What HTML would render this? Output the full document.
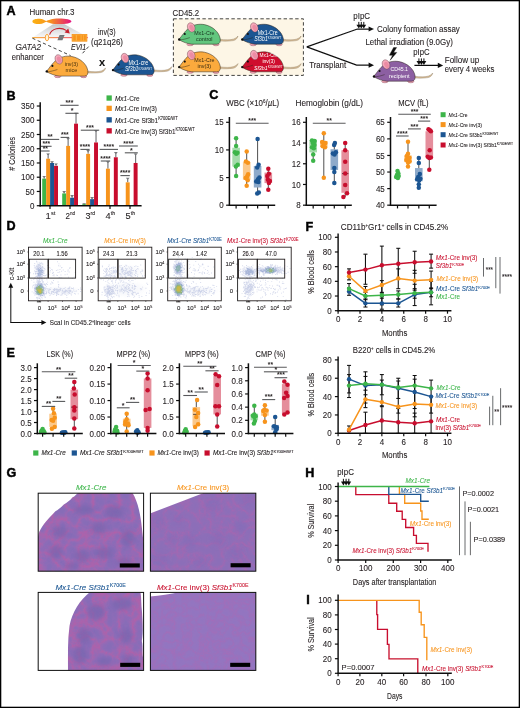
<!DOCTYPE html>
<html lang="en"><head><meta charset="utf-8"><title>Figure</title>
<style>
html,body{margin:0;padding:0;background:#fff;}
body{width:520px;height:708px;overflow:hidden;position:relative;}
svg{display:block;position:absolute;left:0;top:0;font-family:"Liberation Sans", sans-serif;}
text{font-family:"Liberation Sans", sans-serif;}
#frame{position:absolute;left:0;top:0;width:518px;height:706px;border:1px solid #000;pointer-events:none;}
</style></head>
<body>
<svg width="520" height="708" viewBox="0 0 520 708">
<rect x="0" y="0" width="520" height="708" fill="#fff"/>
<defs><filter id="soft" x="0" y="0" width="520" height="708" filterUnits="userSpaceOnUse"><feGaussianBlur stdDeviation="0.3"/></filter></defs>
<g filter="url(#soft)">
<defs><linearGradient id="chr" x1="0" x2="1" y1="0" y2="0"><stop offset="0" stop-color="#fbb116"/><stop offset="0.45" stop-color="#f7941d"/><stop offset="1" stop-color="#e4127f"/></linearGradient><linearGradient id="fan" x1="0" x2="0" y1="0" y2="1"><stop offset="0" stop-color="#b9bcc0" stop-opacity="0.9"/><stop offset="1" stop-color="#d9dadc" stop-opacity="0.25"/></linearGradient><linearGradient id="gl" x1="0" x2="1" y1="0" y2="0"><stop offset="0" stop-color="#fbb040"/><stop offset="0.4" stop-color="#f58a5a"/><stop offset="1" stop-color="#ee4d8b"/></linearGradient></defs>
<text x="6.60" y="15.00" font-size="12.6" fill="#000" stroke="#000" stroke-width="0.45" font-weight="bold">A</text>
<text x="29.50" y="14.80" font-size="8.48" fill="#231f20" stroke="#231f20" stroke-width="0.1" textLength="45.00" lengthAdjust="spacingAndGlyphs">Human chr.3</text>
<path d="M32.4,21.4 C32.4,19.6 36,18.7 39.5,18.8 C43,18.9 44.8,20.6 46.2,21.1 C48,20.4 52,18.6 59,18.6 C66,18.6 71.4,19.8 71.4,21.4 C71.4,23 66,24.2 59,24.2 C52,24.2 48,22.4 46.2,21.7 C44.8,22.2 43,23.9 39.5,24 C36,24.1 32.4,23.2 32.4,21.4 Z" fill="url(#chr)" />
<path d="M53,24.2 L64.5,24.2 L88,37.2 L33,37.2 Z" fill="url(#fan)" />
<rect x="32.4" y="37.0" width="55.4" height="1.2" fill="url(#gl)"/>
<path d="M49.6,34.6 C51.5,28.6 60,26.4 66.6,30.6" fill="none" stroke="#c8202f" stroke-width="1.1" />
<path d="M69.8,33.4 L64.6,32.5 L68.2,28.6 Z" fill="#c8202f" />
<ellipse cx="47" cy="37.6" rx="1.7" ry="3.3" fill="#fff4dc" stroke="#f7941d" stroke-width="0.8"/>
<path d="M59.6,35 L64.6,35 L62.4,40.2 L57.4,40.2 Z" fill="#6d6e71" />
<path d="M59.2,36.3 L64,36.3 M58.6,37.7 L63.4,37.7 M58,39 L62.8,39" fill="none" stroke="#a7a9ac" stroke-width="0.3" />
<rect x="72.10" y="34.40" width="14.80" height="6.80" fill="#fbb040" stroke="#f7941d" stroke-width="0.8" />
<rect x="73.20" y="35.20" width="2.60" height="5.20" fill="#f7941d" />
<rect x="77.00" y="35.20" width="3.60" height="5.20" fill="#f7941d" />
<rect x="81.60" y="35.20" width="1.60" height="5.20" fill="#f7941d" />
<rect x="84.00" y="35.20" width="1.80" height="5.20" fill="#f7941d" />
<line x1="32.40" y1="38.20" x2="70.60" y2="55.60" stroke="#222" stroke-width="0.85" stroke-dasharray="3.2 2.6"/>
<line x1="88.60" y1="46.60" x2="81.00" y2="55.00" stroke="#222" stroke-width="0.85" stroke-dasharray="3.2 2.6"/>
<text x="15.40" y="50.10" font-size="8.69" fill="#231f20" stroke="#231f20" stroke-width="0.1" font-style="italic" textLength="25.60" lengthAdjust="spacingAndGlyphs">GATA2</text>
<text x="11.80" y="59.50" font-size="8.48" fill="#231f20" stroke="#231f20" stroke-width="0.1" textLength="32.00" lengthAdjust="spacingAndGlyphs">enhancer</text>
<text x="71.00" y="50.00" font-size="8.69" fill="#231f20" stroke="#231f20" stroke-width="0.1" font-style="italic" textLength="15.20" lengthAdjust="spacingAndGlyphs">EVI1</text>
<text x="98.00" y="35.30" font-size="8.48" fill="#231f20" stroke="#231f20" stroke-width="0.1" textLength="17.60" lengthAdjust="spacingAndGlyphs">inv(3)</text>
<text x="91.00" y="45.00" font-size="8.48" fill="#231f20" stroke="#231f20" stroke-width="0.1" textLength="32.00" lengthAdjust="spacingAndGlyphs">(q21q26)</text>
<g transform="translate(46.40 71.50)">
<path d="M40.5,-0.4 C46,0.4 52,0.5 55,-0.6 C57,-1.4 58.2,-2.4 59.2,-3.6 C58.8,-1.6 57.2,0.5 54.5,1.0 C50,1.7 45,1.6 40.5,1.4 Z" fill="#dcc09a" stroke="#7d6b50" stroke-width="0.35" />
<ellipse cx="11.3" cy="4.9" rx="3.2" ry="1.25" fill="#f4a3b5" stroke="#6b3f4a" stroke-width="0.35"/>
<ellipse cx="37.2" cy="4.7" rx="3.1" ry="1.5" fill="#f4a3b5" stroke="#6b3f4a" stroke-width="0.35"/>
<path d="M0,0 C3,-3.5 6,-8.5 10,-11.6 C14,-14.8 20,-16 25.5,-15 C33.5,-13.4 40,-8 41.4,-1 C41.9,2 41,4.6 38,4.6 L13,4.6 C8.5,4.2 4,2.4 0,0 Z" fill="#fbaa3c" stroke="#2b2118" stroke-width="0.5" />
<ellipse cx="12.4" cy="-12.2" rx="3.6" ry="4.8" transform="rotate(-24 12.4 -12.2)" fill="#f6a9ba" stroke="#6b3f4a" stroke-width="0.4"/>
<ellipse cx="12.9" cy="-11.7" rx="2.1" ry="3.3" transform="rotate(-24 12.9 -11.7)" fill="#ec8ca4"/>
<circle cx="6.00" cy="-5.60" r="1.05" fill="#111" />
<circle cx="0.40" cy="-0.10" r="1.2" fill="#111" />
<path d="M1,0.3 C4,0.1 7.5,-0.8 11,-2.0" fill="none" stroke="#2b2118" stroke-width="0.6" stroke-opacity="0.75"/>
<text x="18.30" y="-5.90" font-size="5.94" fill="#4a3410" textLength="13.40" lengthAdjust="spacingAndGlyphs">inv(3)</text>
<text x="19.20" y="0.10" font-size="5.94" fill="#4a3410" textLength="11.60" lengthAdjust="spacingAndGlyphs">mice</text>
</g>
<text x="102.00" y="65.60" font-size="11" text-anchor="middle" fill="#111" stroke="#111" stroke-width="0.1" font-weight="bold">x</text>
<g transform="translate(112.60 70.20)">
<path d="M40.5,-0.4 C46,0.4 52,0.5 55,-0.6 C57,-1.4 58.2,-2.4 59.2,-3.6 C58.8,-1.6 57.2,0.5 54.5,1.0 C50,1.7 45,1.6 40.5,1.4 Z" fill="#dcc09a" stroke="#7d6b50" stroke-width="0.35" />
<ellipse cx="11.3" cy="4.9" rx="3.2" ry="1.25" fill="#f4a3b5" stroke="#6b3f4a" stroke-width="0.35"/>
<ellipse cx="37.2" cy="4.7" rx="3.1" ry="1.5" fill="#f4a3b5" stroke="#6b3f4a" stroke-width="0.35"/>
<path d="M0,0 C3,-3.5 6,-8.5 10,-11.6 C14,-14.8 20,-16 25.5,-15 C33.5,-13.4 40,-8 41.4,-1 C41.9,2 41,4.6 38,4.6 L13,4.6 C8.5,4.2 4,2.4 0,0 Z" fill="#1b5592" stroke="#2b2118" stroke-width="0.5" />
<ellipse cx="12.4" cy="-12.2" rx="3.6" ry="4.8" transform="rotate(-24 12.4 -12.2)" fill="#f6a9ba" stroke="#6b3f4a" stroke-width="0.4"/>
<ellipse cx="12.9" cy="-11.7" rx="2.1" ry="3.3" transform="rotate(-24 12.9 -11.7)" fill="#ec8ca4"/>
<circle cx="6.00" cy="-5.60" r="1.05" fill="#111" />
<circle cx="0.40" cy="-0.10" r="1.2" fill="#111" />
<path d="M1,0.3 C4,0.1 7.5,-0.8 11,-2.0" fill="none" stroke="#2b2118" stroke-width="0.6" stroke-opacity="0.75"/>
<text x="16.00" y="-5.00" font-size="6.36" fill="#fff" textLength="19.60" lengthAdjust="spacingAndGlyphs">Mx1-cre</text>
<text x="12.30" y="1.20" font-size="6.36" fill="#fff" textLength="27.00" lengthAdjust="spacingAndGlyphs"><tspan font-style="italic">Sf3b1</tspan><tspan font-size="3.4" dy="-1.8">K700E/WT</tspan></text>
</g>
<rect x="173.40" y="18.80" width="130.00" height="56.60" fill="#fdf6e6" stroke="#222" stroke-width="0.85" stroke-dasharray="3.4 2.4"/>
<text x="172.60" y="15.80" font-size="8.69" fill="#231f20" stroke="#231f20" stroke-width="0.1" textLength="26.60" lengthAdjust="spacingAndGlyphs">CD45.2</text>
<g transform="translate(178.80 39.60)">
<path d="M40.5,-0.4 C46,0.4 52,0.5 55,-0.6 C57,-1.4 58.2,-2.4 59.2,-3.6 C58.8,-1.6 57.2,0.5 54.5,1.0 C50,1.7 45,1.6 40.5,1.4 Z" fill="#dcc09a" stroke="#7d6b50" stroke-width="0.35" />
<ellipse cx="11.3" cy="4.9" rx="3.2" ry="1.25" fill="#f4a3b5" stroke="#6b3f4a" stroke-width="0.35"/>
<ellipse cx="37.2" cy="4.7" rx="3.1" ry="1.5" fill="#f4a3b5" stroke="#6b3f4a" stroke-width="0.35"/>
<path d="M0,0 C3,-3.5 6,-8.5 10,-11.6 C14,-14.8 20,-16 25.5,-15 C33.5,-13.4 40,-8 41.4,-1 C41.9,2 41,4.6 38,4.6 L13,4.6 C8.5,4.2 4,2.4 0,0 Z" fill="#62c67e" stroke="#2b2118" stroke-width="0.5" />
<ellipse cx="12.4" cy="-12.2" rx="3.6" ry="4.8" transform="rotate(-24 12.4 -12.2)" fill="#f6a9ba" stroke="#6b3f4a" stroke-width="0.4"/>
<ellipse cx="12.9" cy="-11.7" rx="2.1" ry="3.3" transform="rotate(-24 12.9 -11.7)" fill="#ec8ca4"/>
<circle cx="6.00" cy="-5.60" r="1.05" fill="#111" />
<circle cx="0.40" cy="-0.10" r="1.2" fill="#111" />
<path d="M1,0.3 C4,0.1 7.5,-0.8 11,-2.0" fill="none" stroke="#2b2118" stroke-width="0.6" stroke-opacity="0.75"/>
<text x="15.35" y="-5.00" font-size="6.15" fill="#15321c" textLength="20.30" lengthAdjust="spacingAndGlyphs">Mx1-Cre</text>
<text x="17.30" y="0.90" font-size="6.15" fill="#15321c" textLength="16.40" lengthAdjust="spacingAndGlyphs">control</text>
</g>
<g transform="translate(178.80 67.20)">
<path d="M40.5,-0.4 C46,0.4 52,0.5 55,-0.6 C57,-1.4 58.2,-2.4 59.2,-3.6 C58.8,-1.6 57.2,0.5 54.5,1.0 C50,1.7 45,1.6 40.5,1.4 Z" fill="#dcc09a" stroke="#7d6b50" stroke-width="0.35" />
<ellipse cx="11.3" cy="4.9" rx="3.2" ry="1.25" fill="#f4a3b5" stroke="#6b3f4a" stroke-width="0.35"/>
<ellipse cx="37.2" cy="4.7" rx="3.1" ry="1.5" fill="#f4a3b5" stroke="#6b3f4a" stroke-width="0.35"/>
<path d="M0,0 C3,-3.5 6,-8.5 10,-11.6 C14,-14.8 20,-16 25.5,-15 C33.5,-13.4 40,-8 41.4,-1 C41.9,2 41,4.6 38,4.6 L13,4.6 C8.5,4.2 4,2.4 0,0 Z" fill="#fbaa3c" stroke="#2b2118" stroke-width="0.5" />
<ellipse cx="12.4" cy="-12.2" rx="3.6" ry="4.8" transform="rotate(-24 12.4 -12.2)" fill="#f6a9ba" stroke="#6b3f4a" stroke-width="0.4"/>
<ellipse cx="12.9" cy="-11.7" rx="2.1" ry="3.3" transform="rotate(-24 12.9 -11.7)" fill="#ec8ca4"/>
<circle cx="6.00" cy="-5.60" r="1.05" fill="#111" />
<circle cx="0.40" cy="-0.10" r="1.2" fill="#111" />
<path d="M1,0.3 C4,0.1 7.5,-0.8 11,-2.0" fill="none" stroke="#2b2118" stroke-width="0.6" stroke-opacity="0.75"/>
<text x="15.35" y="-5.00" font-size="6.15" fill="#3a2a10" textLength="20.30" lengthAdjust="spacingAndGlyphs">Mx1-Cre</text>
<text x="18.70" y="0.90" font-size="6.15" fill="#3a2a10" textLength="13.60" lengthAdjust="spacingAndGlyphs">inv(3)</text>
</g>
<g transform="translate(241.90 39.60)">
<path d="M40.5,-0.4 C46,0.4 52,0.5 55,-0.6 C57,-1.4 58.2,-2.4 59.2,-3.6 C58.8,-1.6 57.2,0.5 54.5,1.0 C50,1.7 45,1.6 40.5,1.4 Z" fill="#dcc09a" stroke="#7d6b50" stroke-width="0.35" />
<ellipse cx="11.3" cy="4.9" rx="3.2" ry="1.25" fill="#f4a3b5" stroke="#6b3f4a" stroke-width="0.35"/>
<ellipse cx="37.2" cy="4.7" rx="3.1" ry="1.5" fill="#f4a3b5" stroke="#6b3f4a" stroke-width="0.35"/>
<path d="M0,0 C3,-3.5 6,-8.5 10,-11.6 C14,-14.8 20,-16 25.5,-15 C33.5,-13.4 40,-8 41.4,-1 C41.9,2 41,4.6 38,4.6 L13,4.6 C8.5,4.2 4,2.4 0,0 Z" fill="#1b5592" stroke="#2b2118" stroke-width="0.5" />
<ellipse cx="12.4" cy="-12.2" rx="3.6" ry="4.8" transform="rotate(-24 12.4 -12.2)" fill="#f6a9ba" stroke="#6b3f4a" stroke-width="0.4"/>
<ellipse cx="12.9" cy="-11.7" rx="2.1" ry="3.3" transform="rotate(-24 12.9 -11.7)" fill="#ec8ca4"/>
<circle cx="6.00" cy="-5.60" r="1.05" fill="#111" />
<circle cx="0.40" cy="-0.10" r="1.2" fill="#111" />
<path d="M1,0.3 C4,0.1 7.5,-0.8 11,-2.0" fill="none" stroke="#2b2118" stroke-width="0.6" stroke-opacity="0.75"/>
<text x="15.80" y="-5.00" font-size="6.36" fill="#fff" textLength="20.00" lengthAdjust="spacingAndGlyphs">Mx1-Cre</text>
<text x="12.30" y="1.20" font-size="6.36" fill="#fff" textLength="27.00" lengthAdjust="spacingAndGlyphs"><tspan font-style="italic">Sf3b1</tspan><tspan font-size="3.4" dy="-1.8">K700E/WT</tspan></text>
</g>
<g transform="translate(241.90 67.20)">
<path d="M40.5,-0.4 C46,0.4 52,0.5 55,-0.6 C57,-1.4 58.2,-2.4 59.2,-3.6 C58.8,-1.6 57.2,0.5 54.5,1.0 C50,1.7 45,1.6 40.5,1.4 Z" fill="#dcc09a" stroke="#7d6b50" stroke-width="0.35" />
<ellipse cx="11.3" cy="4.9" rx="3.2" ry="1.25" fill="#f4a3b5" stroke="#6b3f4a" stroke-width="0.35"/>
<ellipse cx="37.2" cy="4.7" rx="3.1" ry="1.5" fill="#f4a3b5" stroke="#6b3f4a" stroke-width="0.35"/>
<path d="M0,0 C3,-3.5 6,-8.5 10,-11.6 C14,-14.8 20,-16 25.5,-15 C33.5,-13.4 40,-8 41.4,-1 C41.9,2 41,4.6 38,4.6 L13,4.6 C8.5,4.2 4,2.4 0,0 Z" fill="#cf102d" stroke="#2b2118" stroke-width="0.5" />
<ellipse cx="12.4" cy="-12.2" rx="3.6" ry="4.8" transform="rotate(-24 12.4 -12.2)" fill="#f6a9ba" stroke="#6b3f4a" stroke-width="0.4"/>
<ellipse cx="12.9" cy="-11.7" rx="2.1" ry="3.3" transform="rotate(-24 12.9 -11.7)" fill="#ec8ca4"/>
<circle cx="6.00" cy="-5.60" r="1.05" fill="#111" />
<circle cx="0.40" cy="-0.10" r="1.2" fill="#111" />
<path d="M1,0.3 C4,0.1 7.5,-0.8 11,-2.0" fill="none" stroke="#2b2118" stroke-width="0.6" stroke-opacity="0.75"/>
<text x="17.60" y="-10.00" font-size="5.72" fill="#fff" textLength="18.40" lengthAdjust="spacingAndGlyphs">Mx1-Cre</text>
<text x="20.50" y="-4.20" font-size="5.72" fill="#fff" textLength="12.60" lengthAdjust="spacingAndGlyphs">inv(3)</text>
</g>
<text x="253.90" y="69.50" font-size="5.72" fill="#fff" textLength="28.80" lengthAdjust="spacingAndGlyphs"><tspan font-style="italic">Sf3b1</tspan><tspan font-size="3.4" dy="-1.8">K700E/WT</tspan></text>
<path d="M306.8,46.9 L357.4,29.0 L369.5,29.0" fill="none" stroke="#111" stroke-width="1.25" stroke-linejoin="miter"/>
<path d="M374.0,29.0 L368.6,26.4 L368.6,31.6 Z" fill="#111" />
<path d="M306.8,46.9 L356.6,65.2 L369.5,65.2" fill="none" stroke="#111" stroke-width="1.25" />
<path d="M374.0,65.2 L368.6,62.6 L368.6,67.8 Z" fill="#111" />
<text x="353.30" y="18.90" font-size="8.69" fill="#231f20" stroke="#231f20" stroke-width="0.1" textLength="16.80" lengthAdjust="spacingAndGlyphs">pIpC</text>
<line x1="358.80" y1="21.90" x2="358.80" y2="26.00" stroke="#111" stroke-width="1.0" />
<path d="M356.40000000000003,24.7 L361.2,24.7 L358.8,28.6 Z" fill="#111" />
<line x1="361.30" y1="21.90" x2="361.30" y2="26.00" stroke="#111" stroke-width="1.0" />
<path d="M358.90000000000003,24.7 L363.7,24.7 L361.3,28.6 Z" fill="#111" />
<line x1="363.80" y1="21.90" x2="363.80" y2="26.00" stroke="#111" stroke-width="1.0" />
<path d="M361.40000000000003,24.7 L366.2,24.7 L363.8,28.6 Z" fill="#111" />
<text x="377.00" y="32.10" font-size="8.48" fill="#231f20" stroke="#231f20" stroke-width="0.1" textLength="82.80" lengthAdjust="spacingAndGlyphs">Colony formation assay</text>
<text x="365.40" y="44.70" font-size="8.48" fill="#231f20" stroke="#231f20" stroke-width="0.1" textLength="87.40" lengthAdjust="spacingAndGlyphs">Lethal irradiation (9.0Gy)</text>
<text x="309.20" y="68.40" font-size="8.48" fill="#231f20" stroke="#231f20" stroke-width="0.1" textLength="37.00" lengthAdjust="spacingAndGlyphs">Transplant</text>
<path d="M393.6,47.6 L389.4,55.2 L392.6,55.2 L390.2,60.2 L396.8,52.4 L393.6,52.4 L396.6,47.6 Z" fill="#111" stroke="#111" stroke-width="0.4" />
<g transform="translate(373.60 76.60)">
<path d="M40.5,-0.4 C46,0.4 52,0.5 55,-0.6 C57,-1.4 58.2,-2.4 59.2,-3.6 C58.8,-1.6 57.2,0.5 54.5,1.0 C50,1.7 45,1.6 40.5,1.4 Z" fill="#dcc09a" stroke="#7d6b50" stroke-width="0.35" />
<ellipse cx="11.3" cy="4.9" rx="3.2" ry="1.25" fill="#f4a3b5" stroke="#6b3f4a" stroke-width="0.35"/>
<ellipse cx="37.2" cy="4.7" rx="3.1" ry="1.5" fill="#f4a3b5" stroke="#6b3f4a" stroke-width="0.35"/>
<path d="M0,0 C3,-3.5 6,-8.5 10,-11.6 C14,-14.8 20,-16 25.5,-15 C33.5,-13.4 40,-8 41.4,-1 C41.9,2 41,4.6 38,4.6 L13,4.6 C8.5,4.2 4,2.4 0,0 Z" fill="#8c5fa2" stroke="#2b2118" stroke-width="0.5" />
<ellipse cx="12.4" cy="-12.2" rx="3.6" ry="4.8" transform="rotate(-24 12.4 -12.2)" fill="#f6a9ba" stroke="#6b3f4a" stroke-width="0.4"/>
<ellipse cx="12.9" cy="-11.7" rx="2.1" ry="3.3" transform="rotate(-24 12.9 -11.7)" fill="#ec8ca4"/>
<circle cx="6.00" cy="-5.60" r="1.05" fill="#111" />
<circle cx="0.40" cy="-0.10" r="1.2" fill="#111" />
<path d="M1,0.3 C4,0.1 7.5,-0.8 11,-2.0" fill="none" stroke="#2b2118" stroke-width="0.6" stroke-opacity="0.75"/>
<text x="16.80" y="-5.20" font-size="5.94" fill="#fff" textLength="17.60" lengthAdjust="spacingAndGlyphs">CD45.1</text>
<text x="15.30" y="0.90" font-size="5.94" fill="#fff" textLength="20.60" lengthAdjust="spacingAndGlyphs">recipient</text>
</g>
<text x="413.30" y="55.30" font-size="8.69" fill="#231f20" stroke="#231f20" stroke-width="0.1" textLength="16.40" lengthAdjust="spacingAndGlyphs">pIpC</text>
<line x1="418.90" y1="58.40" x2="418.90" y2="62.40" stroke="#111" stroke-width="1.0" />
<path d="M416.5,61.1 L421.29999999999995,61.1 L418.9,65.0 Z" fill="#111" />
<line x1="421.40" y1="58.40" x2="421.40" y2="62.40" stroke="#111" stroke-width="1.0" />
<path d="M419.0,61.1 L423.79999999999995,61.1 L421.4,65.0 Z" fill="#111" />
<line x1="423.90" y1="58.40" x2="423.90" y2="62.40" stroke="#111" stroke-width="1.0" />
<path d="M421.5,61.1 L426.29999999999995,61.1 L423.9,65.0 Z" fill="#111" />
<line x1="414.40" y1="65.40" x2="438.60" y2="65.40" stroke="#111" stroke-width="1.25" />
<path d="M443.2,65.4 L437.8,62.8 L437.8,68.0 Z" fill="#111" />
<text x="444.70" y="62.80" font-size="8.48" fill="#231f20" stroke="#231f20" stroke-width="0.1" textLength="34.60" lengthAdjust="spacingAndGlyphs">Follow up</text>
<text x="444.70" y="72.30" font-size="8.48" fill="#231f20" stroke="#231f20" stroke-width="0.1" textLength="49.70" lengthAdjust="spacingAndGlyphs">every 4 weeks</text>
<text x="6.40" y="100.00" font-size="12.6" fill="#000" stroke="#000" stroke-width="0.45" font-weight="bold">B</text>
<line x1="44.18" y1="178.64" x2="44.18" y2="176.37" stroke="#6d6e71" stroke-width="1.1" />
<path d="M42.28,175.97 L46.08,175.97 L44.78,177.57 L43.58,177.57 Z" fill="#77787b" />
<rect x="42.20" y="178.64" width="3.95" height="27.06" fill="#3db54a" />
<line x1="48.13" y1="158.71" x2="48.13" y2="153.87" stroke="#6d6e71" stroke-width="1.1" />
<path d="M46.23,153.47 L50.03,153.47 L48.73,155.07 L47.53,155.07 Z" fill="#77787b" />
<rect x="46.15" y="158.71" width="3.95" height="46.99" fill="#f7941d" />
<line x1="52.08" y1="162.98" x2="52.08" y2="161.56" stroke="#6d6e71" stroke-width="1.1" />
<path d="M50.18,161.16 L53.98,161.16 L52.68,162.76 L51.48,162.76 Z" fill="#77787b" />
<rect x="50.10" y="162.98" width="3.95" height="42.72" fill="#1b5592" />
<line x1="56.03" y1="165.83" x2="56.03" y2="163.83" stroke="#6d6e71" stroke-width="1.1" />
<path d="M54.13,163.43 L57.93,163.43 L56.63,165.03 L55.43,165.03 Z" fill="#77787b" />
<rect x="54.05" y="165.83" width="3.95" height="39.87" fill="#c8102e" />
<line x1="64.17" y1="193.45" x2="64.17" y2="191.46" stroke="#6d6e71" stroke-width="1.1" />
<path d="M62.27,191.06 L66.08,191.06 L64.77,192.66 L63.57,192.66 Z" fill="#77787b" />
<rect x="62.20" y="193.45" width="3.95" height="12.25" fill="#3db54a" />
<line x1="68.12" y1="145.89" x2="68.12" y2="138.20" stroke="#6d6e71" stroke-width="1.1" />
<path d="M66.22,137.80 L70.03,137.80 L68.72,139.40 L67.53,139.40 Z" fill="#77787b" />
<rect x="66.15" y="145.89" width="3.95" height="59.81" fill="#f7941d" />
<line x1="72.08" y1="197.73" x2="72.08" y2="195.45" stroke="#6d6e71" stroke-width="1.1" />
<path d="M70.17,195.05 L73.98,195.05 L72.67,196.65 L71.48,196.65 Z" fill="#77787b" />
<rect x="70.10" y="197.73" width="3.95" height="7.97" fill="#1b5592" />
<line x1="76.03" y1="123.68" x2="76.03" y2="113.14" stroke="#6d6e71" stroke-width="1.1" />
<path d="M74.12,112.74 L77.93,112.74 L76.62,114.34 L75.43,114.34 Z" fill="#77787b" />
<rect x="74.05" y="123.68" width="3.95" height="82.02" fill="#c8102e" />
<line x1="84.17" y1="204.28" x2="84.17" y2="203.71" stroke="#6d6e71" stroke-width="1.1" />
<path d="M82.27,203.31 L86.08,203.31 L84.77,204.91 L83.58,204.91 Z" fill="#77787b" />
<rect x="82.20" y="204.28" width="3.95" height="1.42" fill="#3db54a" />
<line x1="88.12" y1="153.87" x2="88.12" y2="150.45" stroke="#6d6e71" stroke-width="1.1" />
<path d="M86.22,150.05 L90.03,150.05 L88.72,151.65 L87.53,151.65 Z" fill="#77787b" />
<rect x="86.15" y="153.87" width="3.95" height="51.83" fill="#f7941d" />
<line x1="92.08" y1="199.15" x2="92.08" y2="197.44" stroke="#6d6e71" stroke-width="1.1" />
<path d="M90.17,197.04 L93.98,197.04 L92.67,198.64 L91.48,198.64 Z" fill="#77787b" />
<rect x="90.10" y="199.15" width="3.95" height="6.55" fill="#1b5592" />
<line x1="96.03" y1="142.47" x2="96.03" y2="130.51" stroke="#6d6e71" stroke-width="1.1" />
<path d="M94.12,130.11 L97.93,130.11 L96.62,131.71 L95.43,131.71 Z" fill="#77787b" />
<rect x="94.05" y="142.47" width="3.95" height="63.23" fill="#c8102e" />
<line x1="107.92" y1="168.68" x2="107.92" y2="161.56" stroke="#6d6e71" stroke-width="1.1" />
<path d="M106.02,161.16 L109.83,161.16 L108.52,162.76 L107.33,162.76 Z" fill="#77787b" />
<rect x="105.95" y="168.68" width="3.95" height="37.02" fill="#f7941d" />
<line x1="115.82" y1="157.28" x2="115.82" y2="152.44" stroke="#6d6e71" stroke-width="1.1" />
<path d="M113.92,152.04 L117.72,152.04 L116.42,153.64 L115.22,153.64 Z" fill="#77787b" />
<rect x="113.85" y="157.28" width="3.95" height="48.42" fill="#c8102e" />
<line x1="127.72" y1="182.35" x2="127.72" y2="178.07" stroke="#6d6e71" stroke-width="1.1" />
<path d="M125.82,177.67 L129.62,177.67 L128.32,179.27 L127.12,179.27 Z" fill="#77787b" />
<rect x="125.75" y="182.35" width="3.95" height="23.35" fill="#f7941d" />
<line x1="135.62" y1="162.98" x2="135.62" y2="153.87" stroke="#6d6e71" stroke-width="1.1" />
<path d="M133.72,153.47 L137.53,153.47 L136.22,155.07 L135.03,155.07 Z" fill="#77787b" />
<rect x="133.65" y="162.98" width="3.95" height="42.72" fill="#c8102e" />
<line x1="40.20" y1="102.20" x2="40.20" y2="206.40" stroke="#111" stroke-width="1.5" />
<line x1="39.40" y1="205.70" x2="141.60" y2="205.70" stroke="#111" stroke-width="1.4" />
<line x1="36.80" y1="205.70" x2="40.00" y2="205.70" stroke="#111" stroke-width="1.2" />
<text x="29.95" y="208.80" font-size="9.33" fill="#231f20" stroke="#231f20" stroke-width="0.1" textLength="4.45" lengthAdjust="spacingAndGlyphs">0</text>
<line x1="36.80" y1="191.46" x2="40.00" y2="191.46" stroke="#111" stroke-width="1.2" />
<text x="25.50" y="194.56" font-size="9.33" fill="#231f20" stroke="#231f20" stroke-width="0.1" textLength="8.90" lengthAdjust="spacingAndGlyphs">50</text>
<line x1="36.80" y1="177.22" x2="40.00" y2="177.22" stroke="#111" stroke-width="1.2" />
<text x="21.05" y="180.32" font-size="9.33" fill="#231f20" stroke="#231f20" stroke-width="0.1" textLength="13.35" lengthAdjust="spacingAndGlyphs">100</text>
<line x1="36.80" y1="162.98" x2="40.00" y2="162.98" stroke="#111" stroke-width="1.2" />
<text x="21.05" y="166.08" font-size="9.33" fill="#231f20" stroke="#231f20" stroke-width="0.1" textLength="13.35" lengthAdjust="spacingAndGlyphs">150</text>
<line x1="36.80" y1="148.74" x2="40.00" y2="148.74" stroke="#111" stroke-width="1.2" />
<text x="21.05" y="151.84" font-size="9.33" fill="#231f20" stroke="#231f20" stroke-width="0.1" textLength="13.35" lengthAdjust="spacingAndGlyphs">200</text>
<line x1="36.80" y1="134.50" x2="40.00" y2="134.50" stroke="#111" stroke-width="1.2" />
<text x="21.05" y="137.60" font-size="9.33" fill="#231f20" stroke="#231f20" stroke-width="0.1" textLength="13.35" lengthAdjust="spacingAndGlyphs">250</text>
<line x1="36.80" y1="120.26" x2="40.00" y2="120.26" stroke="#111" stroke-width="1.2" />
<text x="21.05" y="123.36" font-size="9.33" fill="#231f20" stroke="#231f20" stroke-width="0.1" textLength="13.35" lengthAdjust="spacingAndGlyphs">300</text>
<line x1="36.80" y1="106.02" x2="40.00" y2="106.02" stroke="#111" stroke-width="1.2" />
<text x="21.05" y="109.12" font-size="9.33" fill="#231f20" stroke="#231f20" stroke-width="0.1" textLength="13.35" lengthAdjust="spacingAndGlyphs">350</text>
<line x1="50.00" y1="205.70" x2="50.00" y2="208.90" stroke="#111" stroke-width="1.2" />
<text x="45.60" y="218.60" font-size="9.75" fill="#231f20" stroke="#231f20" stroke-width="0.1" textLength="9.60" lengthAdjust="spacingAndGlyphs">1<tspan font-size="5.6" dy="-3.2">st</tspan></text>
<line x1="70.00" y1="205.70" x2="70.00" y2="208.90" stroke="#111" stroke-width="1.2" />
<text x="65.60" y="218.60" font-size="9.75" fill="#231f20" stroke="#231f20" stroke-width="0.1" textLength="9.60" lengthAdjust="spacingAndGlyphs">2<tspan font-size="5.6" dy="-3.2">nd</tspan></text>
<line x1="90.00" y1="205.70" x2="90.00" y2="208.90" stroke="#111" stroke-width="1.2" />
<text x="85.60" y="218.60" font-size="9.75" fill="#231f20" stroke="#231f20" stroke-width="0.1" textLength="9.60" lengthAdjust="spacingAndGlyphs">3<tspan font-size="5.6" dy="-3.2">rd</tspan></text>
<line x1="110.00" y1="205.70" x2="110.00" y2="208.90" stroke="#111" stroke-width="1.2" />
<text x="105.60" y="218.60" font-size="9.75" fill="#231f20" stroke="#231f20" stroke-width="0.1" textLength="9.60" lengthAdjust="spacingAndGlyphs">4<tspan font-size="5.6" dy="-3.2">th</tspan></text>
<line x1="130.00" y1="205.70" x2="130.00" y2="208.90" stroke="#111" stroke-width="1.2" />
<text x="125.60" y="218.60" font-size="9.75" fill="#231f20" stroke="#231f20" stroke-width="0.1" textLength="9.60" lengthAdjust="spacingAndGlyphs">5<tspan font-size="5.6" dy="-3.2">th</tspan></text>
<text transform="translate(15.20 153.90) rotate(-90)" x="-16.85" y="0" font-size="9.75" fill="#231f20" stroke="#231f20" stroke-width="0.1" textLength="33.70" lengthAdjust="spacingAndGlyphs"># Colonies</text>
<line x1="60.20" y1="105.30" x2="78.60" y2="105.30" stroke="#58595b" stroke-width="1.1" />
<text x="65.50" y="105.00" font-size="7.0" fill="#231f20" font-weight="bold" textLength="7.80" lengthAdjust="spacingAndGlyphs">***</text>
<line x1="65.40" y1="113.30" x2="78.60" y2="113.30" stroke="#58595b" stroke-width="1.1" />
<text x="72.00" y="113.00" font-size="7.0" text-anchor="middle" fill="#231f20" font-weight="bold">*</text>
<line x1="80.80" y1="130.20" x2="99.20" y2="130.20" stroke="#58595b" stroke-width="1.1" />
<text x="86.10" y="129.90" font-size="7.0" fill="#231f20" font-weight="bold" textLength="7.80" lengthAdjust="spacingAndGlyphs">***</text>
<line x1="60.60" y1="137.40" x2="69.00" y2="137.40" stroke="#58595b" stroke-width="1.1" />
<text x="60.90" y="137.10" font-size="7.0" fill="#231f20" font-weight="bold" textLength="7.80" lengthAdjust="spacingAndGlyphs">***</text>
<line x1="41.00" y1="139.40" x2="59.20" y2="139.40" stroke="#58595b" stroke-width="1.1" />
<text x="47.50" y="139.10" font-size="7.0" fill="#231f20" font-weight="bold" textLength="5.20" lengthAdjust="spacingAndGlyphs">**</text>
<line x1="41.00" y1="146.30" x2="51.60" y2="146.30" stroke="#58595b" stroke-width="1.1" />
<text x="42.40" y="146.00" font-size="7.0" fill="#231f20" font-weight="bold" textLength="7.80" lengthAdjust="spacingAndGlyphs">***</text>
<line x1="41.00" y1="151.00" x2="49.60" y2="151.00" stroke="#58595b" stroke-width="1.1" />
<text x="42.70" y="150.70" font-size="7.0" fill="#231f20" font-weight="bold" textLength="5.20" lengthAdjust="spacingAndGlyphs">**</text>
<line x1="80.40" y1="149.40" x2="89.60" y2="149.40" stroke="#58595b" stroke-width="1.1" />
<text x="79.80" y="149.10" font-size="7.0" fill="#231f20" font-weight="bold" textLength="10.40" lengthAdjust="spacingAndGlyphs">****</text>
<line x1="99.60" y1="149.40" x2="118.00" y2="149.40" stroke="#58595b" stroke-width="1.1" />
<text x="103.60" y="149.10" font-size="7.0" fill="#231f20" font-weight="bold" textLength="10.40" lengthAdjust="spacingAndGlyphs">****</text>
<line x1="119.00" y1="146.00" x2="137.80" y2="146.00" stroke="#58595b" stroke-width="1.1" />
<text x="123.20" y="145.70" font-size="7.0" fill="#231f20" font-weight="bold" textLength="10.40" lengthAdjust="spacingAndGlyphs">****</text>
<line x1="124.80" y1="152.80" x2="137.80" y2="152.80" stroke="#58595b" stroke-width="1.1" />
<text x="131.30" y="152.50" font-size="7.0" text-anchor="middle" fill="#231f20" font-weight="bold">*</text>
<line x1="100.80" y1="161.00" x2="110.20" y2="161.00" stroke="#58595b" stroke-width="1.1" />
<text x="100.30" y="160.70" font-size="7.0" fill="#231f20" font-weight="bold" textLength="10.40" lengthAdjust="spacingAndGlyphs">****</text>
<line x1="120.40" y1="175.60" x2="129.80" y2="175.60" stroke="#58595b" stroke-width="1.1" />
<text x="119.90" y="175.30" font-size="7.0" fill="#231f20" font-weight="bold" textLength="10.40" lengthAdjust="spacingAndGlyphs">****</text>
<rect x="106.50" y="95.40" width="5.30" height="5.30" fill="#3db54a" />
<rect x="106.50" y="105.70" width="5.30" height="5.30" fill="#f7941d" />
<rect x="106.50" y="117.20" width="5.30" height="5.30" fill="#1b5592" />
<rect x="106.50" y="128.20" width="5.30" height="5.30" fill="#c8102e" />
<text x="115.00" y="100.80" font-size="7.84" fill="#231f20" stroke="#231f20" stroke-width="0.1" textLength="24.60" lengthAdjust="spacingAndGlyphs"><tspan font-style="italic">Mx1</tspan>-Cre</text>
<text x="115.00" y="111.10" font-size="7.84" fill="#231f20" stroke="#231f20" stroke-width="0.1" textLength="42.00" lengthAdjust="spacingAndGlyphs"><tspan font-style="italic">Mx1</tspan>-Cre inv(3)</text>
<text x="115.00" y="122.60" font-size="7.84" fill="#231f20" stroke="#231f20" stroke-width="0.1" textLength="62.60" lengthAdjust="spacingAndGlyphs"><tspan font-style="italic">Mx1</tspan>-Cre Sf3b1<tspan font-size="4.9" dy="-2.5">K700E/WT</tspan></text>
<text x="115.00" y="133.60" font-size="7.84" fill="#231f20" stroke="#231f20" stroke-width="0.1" textLength="79.70" lengthAdjust="spacingAndGlyphs"><tspan font-style="italic">Mx1</tspan>-Cre inv(3) Sf3b1<tspan font-size="4.9" dy="-2.5">K700E/WT</tspan></text>
<text x="209.20" y="99.40" font-size="12.6" fill="#000" stroke="#000" stroke-width="0.45" font-weight="bold">C</text>
<line x1="236.10" y1="138.33" x2="236.10" y2="175.91" stroke="#3a3a3c" stroke-width="0.9" />
<rect x="232.30" y="147.72" width="7.60" height="18.79" fill="#a5dcab" />
<circle cx="236.10" cy="138.33" r="2.25" fill="#3db54a" />
<circle cx="236.10" cy="146.06" r="2.25" fill="#3db54a" />
<circle cx="234.90" cy="152.14" r="2.25" fill="#3db54a" />
<circle cx="237.50" cy="152.70" r="2.25" fill="#3db54a" />
<circle cx="236.30" cy="153.80" r="2.25" fill="#3db54a" />
<circle cx="237.70" cy="164.86" r="2.25" fill="#3db54a" />
<circle cx="235.90" cy="166.51" r="2.25" fill="#3db54a" />
<circle cx="236.10" cy="175.91" r="2.25" fill="#3db54a" />
<line x1="246.70" y1="151.59" x2="246.70" y2="185.86" stroke="#3a3a3c" stroke-width="0.9" />
<rect x="242.90" y="162.09" width="7.60" height="17.69" fill="#fbc88a" />
<circle cx="246.70" cy="151.59" r="2.25" fill="#f7941d" />
<circle cx="245.90" cy="161.54" r="2.25" fill="#f7941d" />
<circle cx="247.90" cy="162.64" r="2.25" fill="#f7941d" />
<circle cx="248.10" cy="174.25" r="2.25" fill="#f7941d" />
<circle cx="247.10" cy="176.46" r="2.25" fill="#f7941d" />
<circle cx="245.70" cy="178.12" r="2.25" fill="#f7941d" />
<circle cx="247.70" cy="180.33" r="2.25" fill="#f7941d" />
<circle cx="246.70" cy="185.86" r="2.25" fill="#f7941d" />
<line x1="257.60" y1="138.88" x2="257.60" y2="193.59" stroke="#3a3a3c" stroke-width="0.9" />
<rect x="253.80" y="165.96" width="7.60" height="21.55" fill="#8eaaca" />
<circle cx="257.60" cy="138.88" r="2.25" fill="#1b5592" />
<circle cx="258.60" cy="164.86" r="2.25" fill="#1b5592" />
<circle cx="257.20" cy="167.62" r="2.25" fill="#1b5592" />
<circle cx="259.40" cy="177.57" r="2.25" fill="#1b5592" />
<circle cx="258.00" cy="179.22" r="2.25" fill="#1b5592" />
<circle cx="256.20" cy="181.44" r="2.25" fill="#1b5592" />
<circle cx="258.40" cy="181.99" r="2.25" fill="#1b5592" />
<circle cx="258.80" cy="192.49" r="2.25" fill="#1b5592" />
<circle cx="257.20" cy="193.59" r="2.25" fill="#1b5592" />
<line x1="268.30" y1="168.72" x2="268.30" y2="189.73" stroke="#3a3a3c" stroke-width="0.9" />
<rect x="264.50" y="172.59" width="7.60" height="10.50" fill="#e58e9c" />
<circle cx="268.30" cy="168.72" r="2.25" fill="#c8102e" />
<circle cx="268.90" cy="173.70" r="2.25" fill="#c8102e" />
<circle cx="267.30" cy="175.91" r="2.25" fill="#c8102e" />
<circle cx="267.90" cy="179.78" r="2.25" fill="#c8102e" />
<circle cx="269.90" cy="180.88" r="2.25" fill="#c8102e" />
<circle cx="268.90" cy="183.09" r="2.25" fill="#c8102e" />
<circle cx="268.30" cy="189.73" r="2.25" fill="#c8102e" />
<line x1="229.40" y1="117.00" x2="229.40" y2="205.90" stroke="#111" stroke-width="1.5" />
<line x1="228.70" y1="205.20" x2="275.20" y2="205.20" stroke="#111" stroke-width="1.4" />
<line x1="226.10" y1="205.20" x2="229.30" y2="205.20" stroke="#111" stroke-width="1.2" />
<text x="219.25" y="208.30" font-size="9.33" fill="#231f20" stroke="#231f20" stroke-width="0.1" textLength="4.45" lengthAdjust="spacingAndGlyphs">0</text>
<line x1="226.10" y1="177.57" x2="229.30" y2="177.57" stroke="#111" stroke-width="1.2" />
<text x="219.25" y="180.67" font-size="9.33" fill="#231f20" stroke="#231f20" stroke-width="0.1" textLength="4.45" lengthAdjust="spacingAndGlyphs">5</text>
<line x1="226.10" y1="149.93" x2="229.30" y2="149.93" stroke="#111" stroke-width="1.2" />
<text x="214.80" y="153.03" font-size="9.33" fill="#231f20" stroke="#231f20" stroke-width="0.1" textLength="8.90" lengthAdjust="spacingAndGlyphs">10</text>
<line x1="226.10" y1="122.30" x2="229.30" y2="122.30" stroke="#111" stroke-width="1.2" />
<text x="214.80" y="125.40" font-size="9.33" fill="#231f20" stroke="#231f20" stroke-width="0.1" textLength="8.90" lengthAdjust="spacingAndGlyphs">15</text>
<line x1="236.10" y1="205.20" x2="236.10" y2="208.40" stroke="#111" stroke-width="1.2" />
<line x1="246.70" y1="205.20" x2="246.70" y2="208.40" stroke="#111" stroke-width="1.2" />
<line x1="257.60" y1="205.20" x2="257.60" y2="208.40" stroke="#111" stroke-width="1.2" />
<line x1="268.30" y1="205.20" x2="268.30" y2="208.40" stroke="#111" stroke-width="1.2" />
<text x="226.35" y="105.60" font-size="8.69" fill="#231f20" stroke="#231f20" stroke-width="0.1" textLength="52.90" lengthAdjust="spacingAndGlyphs">WBC (×10<tspan font-size="5" dy="-3">6</tspan><tspan dy="3">/</tspan><tspan font-style="italic">µ</tspan>L)</text>
<line x1="235.80" y1="123.20" x2="268.60" y2="123.20" stroke="#58595b" stroke-width="1.1" />
<text x="248.30" y="122.90" font-size="7.0" fill="#231f20" font-weight="bold" textLength="7.80" lengthAdjust="spacingAndGlyphs">***</text>
<line x1="313.20" y1="139.92" x2="313.20" y2="160.64" stroke="#3a3a3c" stroke-width="0.9" />
<rect x="309.40" y="139.92" width="7.60" height="12.44" fill="#a5dcab" />
<circle cx="312.00" cy="140.43" r="2.25" fill="#3db54a" />
<circle cx="314.60" cy="140.95" r="2.25" fill="#3db54a" />
<circle cx="312.80" cy="143.02" r="2.25" fill="#3db54a" />
<circle cx="314.40" cy="145.10" r="2.25" fill="#3db54a" />
<circle cx="312.00" cy="147.17" r="2.25" fill="#3db54a" />
<circle cx="313.80" cy="148.21" r="2.25" fill="#3db54a" />
<circle cx="313.20" cy="154.42" r="2.25" fill="#3db54a" />
<circle cx="313.20" cy="160.64" r="2.25" fill="#3db54a" />
<line x1="323.80" y1="133.18" x2="323.80" y2="177.74" stroke="#3a3a3c" stroke-width="0.9" />
<rect x="320.00" y="140.95" width="7.60" height="6.22" fill="#fbc88a" />
<circle cx="323.80" cy="133.18" r="2.25" fill="#f7941d" />
<circle cx="322.20" cy="141.99" r="2.25" fill="#f7941d" />
<circle cx="325.40" cy="143.02" r="2.25" fill="#f7941d" />
<circle cx="323.80" cy="144.06" r="2.25" fill="#f7941d" />
<circle cx="322.80" cy="146.13" r="2.25" fill="#f7941d" />
<circle cx="325.00" cy="147.17" r="2.25" fill="#f7941d" />
<circle cx="323.80" cy="177.74" r="2.25" fill="#f7941d" />
<line x1="334.30" y1="143.02" x2="334.30" y2="182.92" stroke="#3a3a3c" stroke-width="0.9" />
<rect x="330.50" y="149.24" width="7.60" height="20.72" fill="#8eaaca" />
<circle cx="334.90" cy="143.02" r="2.25" fill="#1b5592" />
<circle cx="334.10" cy="145.10" r="2.25" fill="#1b5592" />
<circle cx="335.90" cy="152.35" r="2.25" fill="#1b5592" />
<circle cx="332.90" cy="153.39" r="2.25" fill="#1b5592" />
<circle cx="334.50" cy="154.42" r="2.25" fill="#1b5592" />
<circle cx="334.30" cy="167.89" r="2.25" fill="#1b5592" />
<circle cx="334.30" cy="172.04" r="2.25" fill="#1b5592" />
<circle cx="334.30" cy="182.92" r="2.25" fill="#1b5592" />
<line x1="345.20" y1="143.02" x2="345.20" y2="196.91" stroke="#3a3a3c" stroke-width="0.9" />
<rect x="341.40" y="150.28" width="7.60" height="42.49" fill="#e58e9c" />
<line x1="342.00" y1="173.59" x2="348.40" y2="173.59" stroke="#231f20" stroke-width="0.7" />
<circle cx="345.20" cy="143.02" r="2.25" fill="#c8102e" />
<circle cx="345.20" cy="150.28" r="2.25" fill="#c8102e" />
<circle cx="345.20" cy="161.68" r="2.25" fill="#c8102e" />
<circle cx="345.20" cy="173.59" r="2.25" fill="#c8102e" />
<circle cx="345.20" cy="184.99" r="2.25" fill="#c8102e" />
<circle cx="347.00" cy="193.28" r="2.25" fill="#c8102e" />
<circle cx="343.40" cy="196.91" r="2.25" fill="#c8102e" />
<line x1="306.30" y1="117.00" x2="306.30" y2="205.90" stroke="#111" stroke-width="1.5" />
<line x1="305.60" y1="205.20" x2="351.80" y2="205.20" stroke="#111" stroke-width="1.4" />
<line x1="303.00" y1="205.20" x2="306.20" y2="205.20" stroke="#111" stroke-width="1.2" />
<text x="296.15" y="208.30" font-size="9.33" fill="#231f20" stroke="#231f20" stroke-width="0.1" textLength="4.45" lengthAdjust="spacingAndGlyphs">8</text>
<line x1="303.00" y1="184.47" x2="306.20" y2="184.47" stroke="#111" stroke-width="1.2" />
<text x="291.70" y="187.57" font-size="9.33" fill="#231f20" stroke="#231f20" stroke-width="0.1" textLength="8.90" lengthAdjust="spacingAndGlyphs">10</text>
<line x1="303.00" y1="163.75" x2="306.20" y2="163.75" stroke="#111" stroke-width="1.2" />
<text x="291.70" y="166.85" font-size="9.33" fill="#231f20" stroke="#231f20" stroke-width="0.1" textLength="8.90" lengthAdjust="spacingAndGlyphs">12</text>
<line x1="303.00" y1="143.02" x2="306.20" y2="143.02" stroke="#111" stroke-width="1.2" />
<text x="291.70" y="146.12" font-size="9.33" fill="#231f20" stroke="#231f20" stroke-width="0.1" textLength="8.90" lengthAdjust="spacingAndGlyphs">14</text>
<line x1="303.00" y1="122.30" x2="306.20" y2="122.30" stroke="#111" stroke-width="1.2" />
<text x="291.70" y="125.40" font-size="9.33" fill="#231f20" stroke="#231f20" stroke-width="0.1" textLength="8.90" lengthAdjust="spacingAndGlyphs">16</text>
<line x1="313.20" y1="205.20" x2="313.20" y2="208.40" stroke="#111" stroke-width="1.2" />
<line x1="323.80" y1="205.20" x2="323.80" y2="208.40" stroke="#111" stroke-width="1.2" />
<line x1="334.30" y1="205.20" x2="334.30" y2="208.40" stroke="#111" stroke-width="1.2" />
<line x1="345.20" y1="205.20" x2="345.20" y2="208.40" stroke="#111" stroke-width="1.2" />
<text x="295.55" y="105.60" font-size="8.69" fill="#231f20" stroke="#231f20" stroke-width="0.1" textLength="67.50" lengthAdjust="spacingAndGlyphs">Hemoglobin (g/dL)</text>
<line x1="312.80" y1="123.20" x2="345.60" y2="123.20" stroke="#58595b" stroke-width="1.1" />
<text x="326.60" y="122.90" font-size="7.0" fill="#231f20" font-weight="bold" textLength="5.20" lengthAdjust="spacingAndGlyphs">**</text>
<circle cx="397.50" cy="171.05" r="2.25" fill="#3db54a" />
<circle cx="398.30" cy="173.37" r="2.25" fill="#3db54a" />
<circle cx="396.90" cy="175.02" r="2.25" fill="#3db54a" />
<circle cx="398.70" cy="176.02" r="2.25" fill="#3db54a" />
<circle cx="396.10" cy="177.01" r="2.25" fill="#3db54a" />
<circle cx="397.90" cy="178.01" r="2.25" fill="#3db54a" />
<line x1="408.00" y1="141.86" x2="408.00" y2="166.40" stroke="#3a3a3c" stroke-width="0.9" />
<rect x="404.20" y="155.46" width="7.60" height="6.63" fill="#fbc88a" />
<circle cx="408.00" cy="141.86" r="2.25" fill="#f7941d" />
<circle cx="408.00" cy="153.80" r="2.25" fill="#f7941d" />
<circle cx="406.80" cy="156.12" r="2.25" fill="#f7941d" />
<circle cx="409.40" cy="157.78" r="2.25" fill="#f7941d" />
<circle cx="408.00" cy="158.78" r="2.25" fill="#f7941d" />
<circle cx="406.40" cy="160.10" r="2.25" fill="#f7941d" />
<circle cx="409.60" cy="161.43" r="2.25" fill="#f7941d" />
<circle cx="408.00" cy="162.42" r="2.25" fill="#f7941d" />
<circle cx="408.00" cy="166.40" r="2.25" fill="#f7941d" />
<line x1="418.80" y1="158.11" x2="418.80" y2="187.63" stroke="#3a3a3c" stroke-width="0.9" />
<rect x="415.00" y="168.06" width="7.60" height="13.26" fill="#8eaaca" />
<circle cx="418.80" cy="158.11" r="2.25" fill="#1b5592" />
<circle cx="418.80" cy="163.09" r="2.25" fill="#1b5592" />
<circle cx="419.80" cy="174.03" r="2.25" fill="#1b5592" />
<circle cx="418.20" cy="177.01" r="2.25" fill="#1b5592" />
<circle cx="420.40" cy="178.67" r="2.25" fill="#1b5592" />
<circle cx="417.20" cy="179.34" r="2.25" fill="#1b5592" />
<circle cx="419.20" cy="180.33" r="2.25" fill="#1b5592" />
<circle cx="418.80" cy="184.31" r="2.25" fill="#1b5592" />
<circle cx="418.80" cy="187.63" r="2.25" fill="#1b5592" />
<line x1="429.30" y1="129.26" x2="429.30" y2="169.72" stroke="#3a3a3c" stroke-width="0.9" />
<rect x="425.50" y="131.25" width="7.60" height="25.86" fill="#e58e9c" />
<circle cx="428.50" cy="129.26" r="2.25" fill="#c8102e" />
<circle cx="429.90" cy="130.26" r="2.25" fill="#c8102e" />
<circle cx="430.90" cy="131.25" r="2.25" fill="#c8102e" />
<circle cx="429.70" cy="150.15" r="2.25" fill="#c8102e" />
<circle cx="427.70" cy="156.79" r="2.25" fill="#c8102e" />
<circle cx="430.90" cy="157.45" r="2.25" fill="#c8102e" />
<circle cx="429.30" cy="158.11" r="2.25" fill="#c8102e" />
<circle cx="429.30" cy="169.72" r="2.25" fill="#c8102e" />
<line x1="390.50" y1="117.00" x2="390.50" y2="205.90" stroke="#111" stroke-width="1.5" />
<line x1="389.80" y1="205.20" x2="436.60" y2="205.20" stroke="#111" stroke-width="1.4" />
<line x1="387.20" y1="205.20" x2="390.40" y2="205.20" stroke="#111" stroke-width="1.2" />
<text x="375.90" y="208.30" font-size="9.33" fill="#231f20" stroke="#231f20" stroke-width="0.1" textLength="8.90" lengthAdjust="spacingAndGlyphs">40</text>
<line x1="387.20" y1="188.62" x2="390.40" y2="188.62" stroke="#111" stroke-width="1.2" />
<text x="375.90" y="191.72" font-size="9.33" fill="#231f20" stroke="#231f20" stroke-width="0.1" textLength="8.90" lengthAdjust="spacingAndGlyphs">45</text>
<line x1="387.20" y1="172.04" x2="390.40" y2="172.04" stroke="#111" stroke-width="1.2" />
<text x="375.90" y="175.14" font-size="9.33" fill="#231f20" stroke="#231f20" stroke-width="0.1" textLength="8.90" lengthAdjust="spacingAndGlyphs">50</text>
<line x1="387.20" y1="155.46" x2="390.40" y2="155.46" stroke="#111" stroke-width="1.2" />
<text x="375.90" y="158.56" font-size="9.33" fill="#231f20" stroke="#231f20" stroke-width="0.1" textLength="8.90" lengthAdjust="spacingAndGlyphs">55</text>
<line x1="387.20" y1="138.88" x2="390.40" y2="138.88" stroke="#111" stroke-width="1.2" />
<text x="375.90" y="141.98" font-size="9.33" fill="#231f20" stroke="#231f20" stroke-width="0.1" textLength="8.90" lengthAdjust="spacingAndGlyphs">60</text>
<line x1="387.20" y1="122.30" x2="390.40" y2="122.30" stroke="#111" stroke-width="1.2" />
<text x="375.90" y="125.40" font-size="9.33" fill="#231f20" stroke="#231f20" stroke-width="0.1" textLength="8.90" lengthAdjust="spacingAndGlyphs">65</text>
<line x1="397.50" y1="205.20" x2="397.50" y2="208.40" stroke="#111" stroke-width="1.2" />
<line x1="408.00" y1="205.20" x2="408.00" y2="208.40" stroke="#111" stroke-width="1.2" />
<line x1="418.80" y1="205.20" x2="418.80" y2="208.40" stroke="#111" stroke-width="1.2" />
<line x1="429.30" y1="205.20" x2="429.30" y2="208.40" stroke="#111" stroke-width="1.2" />
<text x="398.15" y="105.60" font-size="8.69" fill="#231f20" stroke="#231f20" stroke-width="0.1" textLength="30.50" lengthAdjust="spacingAndGlyphs">MCV (fL)</text>
<line x1="398.30" y1="114.30" x2="430.80" y2="114.30" stroke="#58595b" stroke-width="1.1" />
<text x="410.65" y="114.00" font-size="7.0" fill="#231f20" font-weight="bold" textLength="7.80" lengthAdjust="spacingAndGlyphs">***</text>
<line x1="418.00" y1="121.10" x2="430.20" y2="121.10" stroke="#58595b" stroke-width="1.1" />
<text x="420.20" y="120.80" font-size="7.0" fill="#231f20" font-weight="bold" textLength="7.80" lengthAdjust="spacingAndGlyphs">***</text>
<line x1="408.00" y1="128.90" x2="420.80" y2="128.90" stroke="#58595b" stroke-width="1.1" />
<text x="410.50" y="128.60" font-size="7.0" fill="#231f20" font-weight="bold" textLength="7.80" lengthAdjust="spacingAndGlyphs">***</text>
<line x1="396.00" y1="136.00" x2="408.60" y2="136.00" stroke="#58595b" stroke-width="1.1" />
<text x="397.10" y="135.70" font-size="7.0" fill="#231f20" font-weight="bold" textLength="10.40" lengthAdjust="spacingAndGlyphs">****</text>
<rect x="440.60" y="112.20" width="5.00" height="5.00" fill="#3db54a" />
<rect x="440.60" y="122.10" width="5.00" height="5.00" fill="#f7941d" />
<rect x="440.60" y="132.20" width="5.00" height="5.00" fill="#1b5592" />
<rect x="440.60" y="142.50" width="5.00" height="5.00" fill="#c8102e" />
<text x="448.40" y="116.70" font-size="5.94" fill="#231f20" stroke="#231f20" stroke-width="0.1" textLength="19.00" lengthAdjust="spacingAndGlyphs"><tspan font-style="italic">Mx1</tspan>-Cre</text>
<text x="448.40" y="126.60" font-size="5.94" fill="#231f20" stroke="#231f20" stroke-width="0.1" textLength="33.60" lengthAdjust="spacingAndGlyphs"><tspan font-style="italic">Mx1</tspan>-Cre inv(3)</text>
<text x="448.40" y="136.70" font-size="5.94" fill="#231f20" stroke="#231f20" stroke-width="0.1" textLength="50.00" lengthAdjust="spacingAndGlyphs"><tspan font-style="italic">Mx1</tspan>-Cre Sf3b1<tspan font-size="3.9" dy="-2.0">K700E/WT</tspan></text>
<text x="448.40" y="147.00" font-size="5.94" fill="#231f20" stroke="#231f20" stroke-width="0.1" textLength="64.60" lengthAdjust="spacingAndGlyphs"><tspan font-style="italic">Mx1</tspan>-Cre inv(3) Sf3b1<tspan font-size="3.9" dy="-2.0">K700E/WT</tspan></text>
<defs><radialGradient id="haze"><stop offset="0" stop-color="#7f93cc" stop-opacity="1"/><stop offset="0.55" stop-color="#9aa9d6" stop-opacity="0.55"/><stop offset="1" stop-color="#b4bfe0" stop-opacity="0"/></radialGradient></defs>
<text x="6.40" y="230.20" font-size="12.6" fill="#000" stroke="#000" stroke-width="0.45" font-weight="bold">D</text>
<ellipse cx="39.1" cy="290.4" rx="3.4" ry="4.4" fill="url(#haze)" fill-opacity="0.40"/>
<ellipse cx="39.3" cy="288.8" rx="6.9" ry="9.7" fill="url(#haze)" fill-opacity="0.25"/>
<ellipse cx="39.5" cy="270.7" rx="6.4" ry="10.6" fill="url(#haze)" fill-opacity="0.19"/>
<ellipse cx="60.5" cy="290.7" rx="23.0" ry="5.1" fill="url(#haze)" fill-opacity="0.13"/>
<path d="M44.1,290.3h.9v.9h-.9zM42.8,293.8h.9v.9h-.9zM36.7,297.0h.9v.9h-.9zM42.9,281.3h.9v.9h-.9zM40.8,296.7h.9v.9h-.9zM34.9,293.2h.9v.9h-.9zM45.9,286.3h.9v.9h-.9zM41.9,280.5h.9v.9h-.9zM39.0,281.2h.9v.9h-.9zM36.6,297.5h.9v.9h-.9zM39.6,295.5h.9v.9h-.9zM35.6,292.5h.9v.9h-.9zM36.6,280.4h.9v.9h-.9zM34.2,288.5h.9v.9h-.9zM44.2,278.0h.9v.9h-.9zM46.1,292.7h.9v.9h-.9zM34.3,290.5h.9v.9h-.9zM37.5,281.1h.9v.9h-.9zM43.5,284.1h.9v.9h-.9zM37.6,280.8h.9v.9h-.9zM44.7,288.0h.9v.9h-.9zM39.0,298.0h.9v.9h-.9zM39.1,281.5h.9v.9h-.9zM44.2,283.6h.9v.9h-.9zM37.6,282.1h.9v.9h-.9zM36.6,284.3h.9v.9h-.9zM40.1,298.8h.9v.9h-.9zM37.2,284.2h.9v.9h-.9zM43.6,288.8h.9v.9h-.9zM37.8,282.0h.9v.9h-.9zM35.6,284.2h.9v.9h-.9zM39.3,297.9h.9v.9h-.9zM43.6,288.6h.9v.9h-.9zM35.2,284.7h.9v.9h-.9zM45.9,291.5h.9v.9h-.9zM37.1,284.3h.9v.9h-.9zM38.3,295.3h.9v.9h-.9zM42.1,294.7h.9v.9h-.9zM34.4,294.5h.9v.9h-.9zM46.5,288.1h.9v.9h-.9zM45.1,292.9h.9v.9h-.9zM32.3,287.4h.9v.9h-.9zM44.8,287.8h.9v.9h-.9zM46.7,288.6h.9v.9h-.9zM44.1,294.6h.9v.9h-.9zM40.2,283.1h.9v.9h-.9zM35.7,285.6h.9v.9h-.9zM44.6,284.4h.9v.9h-.9zM39.1,280.8h.9v.9h-.9zM34.2,278.4h.9v.9h-.9zM39.1,279.3h.9v.9h-.9zM44.3,293.7h.9v.9h-.9zM38.6,282.4h.9v.9h-.9zM36.3,294.1h.9v.9h-.9zM45.5,283.9h.9v.9h-.9zM45.1,285.2h.9v.9h-.9zM43.6,287.5h.9v.9h-.9zM34.2,286.7h.9v.9h-.9zM38.8,279.8h.9v.9h-.9zM42.4,294.3h.9v.9h-.9zM40.2,295.8h.9v.9h-.9zM34.2,287.8h.9v.9h-.9zM43.7,287.6h.9v.9h-.9zM38.4,282.3h.9v.9h-.9zM42.6,282.7h.9v.9h-.9zM42.5,281.2h.9v.9h-.9zM38.8,275.9h.9v.9h-.9zM37.2,299.5h.9v.9h-.9zM33.6,284.2h.9v.9h-.9zM39.7,295.4h.9v.9h-.9zM38.9,297.6h.9v.9h-.9zM32.1,285.7h.9v.9h-.9zM46.2,291.9h.9v.9h-.9zM35.6,294.2h.9v.9h-.9zM33.1,278.8h.9v.9h-.9zM42.3,294.6h.9v.9h-.9zM44.9,288.9h.9v.9h-.9zM42.5,282.4h.9v.9h-.9zM42.4,295.4h.9v.9h-.9zM36.4,293.7h.9v.9h-.9zM31.7,291.4h.9v.9h-.9zM48.6,289.7h.9v.9h-.9zM35.8,292.7h.9v.9h-.9zM37.2,282.9h.9v.9h-.9zM39.9,281.1h.9v.9h-.9zM35.5,292.6h.9v.9h-.9zM44.6,288.0h.9v.9h-.9zM37.1,283.9h.9v.9h-.9zM36.9,293.9h.9v.9h-.9zM34.0,288.4h.9v.9h-.9zM42.1,294.8h.9v.9h-.9zM42.4,285.8h.9v.9h-.9zM42.3,294.0h.9v.9h-.9zM38.1,281.0h.9v.9h-.9zM41.7,298.4h.9v.9h-.9zM35.2,285.8h.9v.9h-.9zM36.0,297.3h.9v.9h-.9zM45.1,296.8h.9v.9h-.9zM43.6,295.6h.9v.9h-.9zM47.2,281.7h.9v.9h-.9zM43.3,294.3h.9v.9h-.9zM37.8,297.5h.9v.9h-.9zM46.4,288.0h.9v.9h-.9zM37.0,282.8h.9v.9h-.9zM36.0,284.3h.9v.9h-.9zM39.6,281.8h.9v.9h-.9zM42.4,281.8h.9v.9h-.9zM33.3,285.1h.9v.9h-.9zM33.4,292.6h.9v.9h-.9zM38.3,279.9h.9v.9h-.9zM38.8,283.2h.9v.9h-.9zM43.7,290.9h.9v.9h-.9zM45.9,283.0h.9v.9h-.9zM36.3,281.5h.9v.9h-.9zM34.5,292.4h.9v.9h-.9zM40.2,295.7h.9v.9h-.9zM33.4,285.1h.9v.9h-.9zM43.6,293.1h.9v.9h-.9zM43.7,284.1h.9v.9h-.9zM45.6,290.5h.9v.9h-.9zM46.9,284.1h.9v.9h-.9zM37.4,297.9h.9v.9h-.9zM46.5,279.3h.9v.9h-.9zM41.5,296.9h.9v.9h-.9zM44.2,283.8h.9v.9h-.9zM36.9,279.5h.9v.9h-.9zM37.0,263.7h.9v.9h-.9zM36.6,275.6h.9v.9h-.9zM42.3,266.6h.9v.9h-.9zM43.2,267.7h.9v.9h-.9zM38.8,277.2h.9v.9h-.9zM46.3,277.7h.9v.9h-.9zM36.3,272.8h.9v.9h-.9zM39.5,279.0h.9v.9h-.9zM39.6,267.2h.9v.9h-.9zM38.9,276.4h.9v.9h-.9zM41.8,279.7h.9v.9h-.9zM35.0,272.5h.9v.9h-.9zM34.7,277.7h.9v.9h-.9zM35.7,268.4h.9v.9h-.9zM36.9,275.9h.9v.9h-.9zM40.2,265.3h.9v.9h-.9zM34.1,270.4h.9v.9h-.9zM38.1,265.6h.9v.9h-.9zM39.8,268.0h.9v.9h-.9zM35.0,273.6h.9v.9h-.9zM40.6,262.8h.9v.9h-.9zM39.8,276.0h.9v.9h-.9zM40.2,276.7h.9v.9h-.9zM35.9,266.5h.9v.9h-.9zM34.4,266.6h.9v.9h-.9zM42.8,271.3h.9v.9h-.9zM36.7,272.7h.9v.9h-.9zM39.1,278.9h.9v.9h-.9zM45.0,275.1h.9v.9h-.9zM36.3,268.3h.9v.9h-.9zM40.0,267.4h.9v.9h-.9zM37.0,266.8h.9v.9h-.9zM39.2,276.8h.9v.9h-.9zM43.9,275.2h.9v.9h-.9zM41.8,276.6h.9v.9h-.9zM41.9,263.6h.9v.9h-.9zM42.2,272.5h.9v.9h-.9zM34.8,271.2h.9v.9h-.9zM35.1,272.8h.9v.9h-.9zM40.7,269.1h.9v.9h-.9zM48.6,274.0h.9v.9h-.9zM39.9,263.2h.9v.9h-.9zM33.2,273.3h.9v.9h-.9zM43.3,270.0h.9v.9h-.9zM42.3,271.9h.9v.9h-.9zM37.1,276.6h.9v.9h-.9zM42.0,266.1h.9v.9h-.9zM41.9,267.3h.9v.9h-.9zM35.3,276.2h.9v.9h-.9zM35.9,276.1h.9v.9h-.9zM40.9,276.0h.9v.9h-.9zM40.2,275.7h.9v.9h-.9zM43.7,270.4h.9v.9h-.9zM40.7,268.3h.9v.9h-.9zM38.5,266.6h.9v.9h-.9zM34.5,277.2h.9v.9h-.9zM39.0,267.1h.9v.9h-.9zM41.9,269.0h.9v.9h-.9zM39.9,263.4h.9v.9h-.9zM44.5,275.5h.9v.9h-.9zM37.3,277.7h.9v.9h-.9zM38.9,267.3h.9v.9h-.9zM38.9,264.0h.9v.9h-.9zM38.7,277.8h.9v.9h-.9zM37.2,273.2h.9v.9h-.9zM40.8,268.2h.9v.9h-.9zM43.4,271.7h.9v.9h-.9zM34.8,267.3h.9v.9h-.9zM36.5,261.6h.9v.9h-.9zM40.4,277.6h.9v.9h-.9zM36.0,260.8h.9v.9h-.9zM40.9,268.2h.9v.9h-.9zM37.0,272.7h.9v.9h-.9zM42.1,272.4h.9v.9h-.9zM36.9,273.7h.9v.9h-.9zM41.6,276.6h.9v.9h-.9zM41.7,275.6h.9v.9h-.9zM38.4,265.1h.9v.9h-.9zM37.4,273.5h.9v.9h-.9zM42.1,272.5h.9v.9h-.9zM42.6,272.5h.9v.9h-.9zM36.8,268.0h.9v.9h-.9zM42.1,271.3h.9v.9h-.9zM42.3,267.0h.9v.9h-.9zM39.2,277.5h.9v.9h-.9zM40.7,275.5h.9v.9h-.9zM34.3,263.1h.9v.9h-.9zM37.1,275.3h.9v.9h-.9zM44.0,267.9h.9v.9h-.9zM36.8,266.1h.9v.9h-.9zM37.0,273.2h.9v.9h-.9zM38.6,279.2h.9v.9h-.9zM41.5,267.6h.9v.9h-.9zM41.7,274.8h.9v.9h-.9zM38.6,267.7h.9v.9h-.9zM43.0,270.7h.9v.9h-.9zM35.4,271.0h.9v.9h-.9zM35.8,268.8h.9v.9h-.9zM34.6,267.5h.9v.9h-.9zM36.2,278.6h.9v.9h-.9zM37.8,277.4h.9v.9h-.9zM38.1,264.1h.9v.9h-.9zM44.6,268.8h.9v.9h-.9zM41.6,276.1h.9v.9h-.9zM35.9,271.0h.9v.9h-.9zM39.5,265.0h.9v.9h-.9zM43.0,275.0h.9v.9h-.9zM39.9,265.5h.9v.9h-.9zM42.4,278.6h.9v.9h-.9zM39.4,276.2h.9v.9h-.9zM40.3,266.3h.9v.9h-.9zM39.0,267.3h.9v.9h-.9zM39.0,266.7h.9v.9h-.9zM37.1,277.4h.9v.9h-.9zM42.4,263.5h.9v.9h-.9zM36.8,268.7h.9v.9h-.9zM38.5,264.5h.9v.9h-.9zM42.0,263.5h.9v.9h-.9zM38.5,267.8h.9v.9h-.9zM33.8,265.1h.9v.9h-.9zM38.4,266.3h.9v.9h-.9zM37.6,267.3h.9v.9h-.9zM47.2,265.1h.9v.9h-.9zM43.7,272.9h.9v.9h-.9zM38.5,278.0h.9v.9h-.9zM36.4,269.3h.9v.9h-.9zM41.2,262.4h.9v.9h-.9zM36.0,265.4h.9v.9h-.9zM42.3,270.2h.9v.9h-.9zM38.3,265.3h.9v.9h-.9zM41.4,269.3h.9v.9h-.9zM37.9,268.1h.9v.9h-.9zM40.0,275.9h.9v.9h-.9zM41.4,268.2h.9v.9h-.9zM30.0,272.3h.9v.9h-.9zM41.2,279.5h.9v.9h-.9zM36.6,271.2h.9v.9h-.9zM40.5,266.4h.9v.9h-.9zM42.8,272.8h.9v.9h-.9zM37.3,265.3h.9v.9h-.9zM38.4,281.4h.9v.9h-.9zM59.5,289.3h.9v.9h-.9zM66.5,290.9h.9v.9h-.9zM63.4,291.3h.9v.9h-.9zM49.9,293.6h.9v.9h-.9zM56.1,293.2h.9v.9h-.9zM67.4,290.8h.9v.9h-.9zM61.9,290.6h.9v.9h-.9zM64.8,287.2h.9v.9h-.9zM46.0,293.0h.9v.9h-.9zM68.5,287.4h.9v.9h-.9zM65.1,290.6h.9v.9h-.9zM70.2,290.0h.9v.9h-.9zM58.4,289.1h.9v.9h-.9zM62.3,290.4h.9v.9h-.9zM54.1,290.0h.9v.9h-.9zM53.2,292.1h.9v.9h-.9zM50.4,287.4h.9v.9h-.9zM51.1,293.1h.9v.9h-.9zM55.6,292.1h.9v.9h-.9zM67.8,289.6h.9v.9h-.9zM68.0,291.8h.9v.9h-.9zM60.1,289.2h.9v.9h-.9zM60.0,287.9h.9v.9h-.9zM57.8,289.5h.9v.9h-.9zM64.9,291.5h.9v.9h-.9zM54.2,292.6h.9v.9h-.9zM72.3,290.9h.9v.9h-.9zM53.3,291.8h.9v.9h-.9zM66.3,295.1h.9v.9h-.9zM53.3,294.0h.9v.9h-.9zM62.4,292.9h.9v.9h-.9zM58.8,289.4h.9v.9h-.9zM58.3,294.0h.9v.9h-.9zM68.8,290.1h.9v.9h-.9zM64.3,292.6h.9v.9h-.9zM66.2,290.6h.9v.9h-.9zM54.0,289.1h.9v.9h-.9zM56.2,289.5h.9v.9h-.9zM44.9,287.6h.9v.9h-.9zM69.2,288.3h.9v.9h-.9zM47.6,290.6h.9v.9h-.9zM74.9,293.5h.9v.9h-.9zM56.4,288.5h.9v.9h-.9zM55.2,288.7h.9v.9h-.9zM55.1,291.8h.9v.9h-.9zM50.0,289.0h.9v.9h-.9zM58.0,290.6h.9v.9h-.9zM52.9,289.0h.9v.9h-.9zM49.3,289.1h.9v.9h-.9zM65.7,290.2h.9v.9h-.9zM59.8,288.8h.9v.9h-.9zM58.0,284.1h.9v.9h-.9zM44.1,293.3h.9v.9h-.9zM53.2,290.8h.9v.9h-.9zM68.3,288.0h.9v.9h-.9zM77.9,289.1h.9v.9h-.9zM64.0,288.2h.9v.9h-.9zM64.2,290.7h.9v.9h-.9zM71.3,288.2h.9v.9h-.9zM60.4,294.7h.9v.9h-.9zM48.6,291.5h.9v.9h-.9zM64.9,289.6h.9v.9h-.9zM57.8,293.8h.9v.9h-.9zM71.9,291.9h.9v.9h-.9zM63.2,288.2h.9v.9h-.9zM61.4,294.6h.9v.9h-.9zM71.0,287.7h.9v.9h-.9zM62.2,289.5h.9v.9h-.9zM57.4,291.5h.9v.9h-.9zM69.5,291.2h.9v.9h-.9zM73.0,287.6h.9v.9h-.9zM65.2,291.6h.9v.9h-.9zM45.6,293.5h.9v.9h-.9zM44.5,287.5h.9v.9h-.9zM64.3,293.7h.9v.9h-.9zM72.0,288.2h.9v.9h-.9zM65.4,293.8h.9v.9h-.9zM58.9,290.9h.9v.9h-.9zM55.9,292.3h.9v.9h-.9zM55.0,289.4h.9v.9h-.9zM48.2,288.7h.9v.9h-.9zM62.7,291.7h.9v.9h-.9zM56.6,288.4h.9v.9h-.9zM63.9,291.5h.9v.9h-.9zM73.3,289.6h.9v.9h-.9zM56.4,291.8h.9v.9h-.9zM75.8,290.6h.9v.9h-.9zM59.7,288.6h.9v.9h-.9zM56.7,292.8h.9v.9h-.9zM69.1,293.2h.9v.9h-.9zM44.0,292.6h.9v.9h-.9zM51.2,292.0h.9v.9h-.9zM51.6,293.5h.9v.9h-.9zM61.7,293.6h.9v.9h-.9zM56.1,295.1h.9v.9h-.9zM56.0,294.9h.9v.9h-.9zM55.6,288.5h.9v.9h-.9zM69.6,289.8h.9v.9h-.9zM59.9,287.7h.9v.9h-.9zM57.0,291.0h.9v.9h-.9zM53.4,291.6h.9v.9h-.9zM56.4,294.0h.9v.9h-.9zM57.0,289.2h.9v.9h-.9zM56.0,291.3h.9v.9h-.9zM66.5,289.7h.9v.9h-.9zM52.5,291.7h.9v.9h-.9zM68.9,286.8h.9v.9h-.9zM49.9,289.2h.9v.9h-.9zM77.8,293.4h.9v.9h-.9zM68.6,291.8h.9v.9h-.9zM49.2,293.2h.9v.9h-.9zM56.0,288.9h.9v.9h-.9zM80.1,287.5h.9v.9h-.9zM74.5,291.2h.9v.9h-.9zM51.2,291.1h.9v.9h-.9zM52.0,291.1h.9v.9h-.9zM54.0,288.1h.9v.9h-.9zM70.5,290.6h.9v.9h-.9zM67.4,287.9h.9v.9h-.9zM50.0,283.4h.9v.9h-.9zM70.7,291.7h.9v.9h-.9zM48.6,292.6h.9v.9h-.9zM66.5,297.2h.9v.9h-.9zM62.9,292.7h.9v.9h-.9zM66.7,292.4h.9v.9h-.9zM60.3,289.8h.9v.9h-.9zM67.7,293.5h.9v.9h-.9zM48.7,288.2h.9v.9h-.9zM60.1,294.7h.9v.9h-.9zM58.4,286.9h.9v.9h-.9zM68.7,292.4h.9v.9h-.9zM80.2,291.1h.9v.9h-.9zM80.5,289.1h.9v.9h-.9zM69.7,291.0h.9v.9h-.9zM48.5,290.1h.9v.9h-.9zM74.0,293.2h.9v.9h-.9zM56.7,293.2h.9v.9h-.9zM66.8,273.8h.9v.9h-.9zM61.2,270.8h.9v.9h-.9zM51.0,268.9h.9v.9h-.9zM59.7,265.5h.9v.9h-.9zM55.9,270.1h.9v.9h-.9zM60.5,274.6h.9v.9h-.9zM49.2,267.2h.9v.9h-.9zM61.0,267.3h.9v.9h-.9zM61.6,266.9h.9v.9h-.9zM69.3,268.1h.9v.9h-.9zM48.2,273.0h.9v.9h-.9zM73.7,259.5h.9v.9h-.9zM57.4,269.6h.9v.9h-.9zM68.0,276.8h.9v.9h-.9zM57.1,261.3h.9v.9h-.9zM64.6,274.3h.9v.9h-.9zM62.8,269.6h.9v.9h-.9zM51.2,281.6h.9v.9h-.9zM47.6,261.6h.9v.9h-.9zM67.4,270.7h.9v.9h-.9zM64.7,271.0h.9v.9h-.9zM73.9,276.4h.9v.9h-.9zM53.5,274.3h.9v.9h-.9zM47.8,260.6h.9v.9h-.9zM69.5,267.1h.9v.9h-.9zM52.5,271.8h.9v.9h-.9zM58.0,265.3h.9v.9h-.9zM52.1,273.1h.9v.9h-.9zM50.1,269.9h.9v.9h-.9zM49.6,271.5h.9v.9h-.9zM74.8,272.1h.9v.9h-.9zM68.7,271.5h.9v.9h-.9zM49.8,267.7h.9v.9h-.9zM59.2,271.5h.9v.9h-.9zM53.1,272.3h.9v.9h-.9zM52.0,269.6h.9v.9h-.9zM58.5,263.4h.9v.9h-.9zM67.7,269.5h.9v.9h-.9zM59.5,269.1h.9v.9h-.9zM46.6,288.2h.9v.9h-.9zM41.1,276.4h.9v.9h-.9zM47.9,291.8h.9v.9h-.9zM33.5,281.8h.9v.9h-.9zM58.5,284.4h.9v.9h-.9zM53.4,289.5h.9v.9h-.9zM57.1,275.1h.9v.9h-.9zM61.3,276.9h.9v.9h-.9zM49.5,295.0h.9v.9h-.9zM58.7,277.0h.9v.9h-.9zM44.4,296.7h.9v.9h-.9zM57.6,272.1h.9v.9h-.9zM72.6,287.9h.9v.9h-.9zM69.5,286.5h.9v.9h-.9zM51.9,281.9h.9v.9h-.9zM71.9,277.8h.9v.9h-.9zM52.4,282.8h.9v.9h-.9zM52.5,274.9h.9v.9h-.9zM38.8,262.5h.9v.9h-.9zM57.6,281.6h.9v.9h-.9zM56.0,274.7h.9v.9h-.9zM53.6,275.4h.9v.9h-.9zM61.3,287.9h.9v.9h-.9zM53.1,280.1h.9v.9h-.9zM70.5,293.3h.9v.9h-.9zM45.9,274.5h.9v.9h-.9zM58.1,285.8h.9v.9h-.9zM56.5,291.2h.9v.9h-.9zM31.2,279.7h.9v.9h-.9zM70.9,294.6h.9v.9h-.9zM50.5,283.5h.9v.9h-.9zM40.9,266.9h.9v.9h-.9zM35.2,283.7h.9v.9h-.9zM69.1,291.3h.9v.9h-.9zM61.5,292.4h.9v.9h-.9zM56.8,290.2h.9v.9h-.9zM59.2,289.6h.9v.9h-.9zM41.3,277.9h.9v.9h-.9zM59.7,276.9h.9v.9h-.9zM41.6,278.6h.9v.9h-.9z" fill="#95a1cf" fill-opacity="0.42"/>
<path d="M38.1,294.1h.9v.9h-.9zM40.3,294.8h.9v.9h-.9zM42.8,291.6h.9v.9h-.9zM39.0,293.9h.9v.9h-.9zM42.4,290.9h.9v.9h-.9zM38.0,293.7h.9v.9h-.9zM39.8,294.4h.9v.9h-.9zM37.7,294.2h.9v.9h-.9zM42.9,287.8h.9v.9h-.9zM35.8,287.7h.9v.9h-.9zM42.8,287.8h.9v.9h-.9zM40.8,294.2h.9v.9h-.9zM43.1,293.0h.9v.9h-.9zM40.5,294.5h.9v.9h-.9zM36.9,284.9h.9v.9h-.9zM41.8,284.2h.9v.9h-.9zM40.8,285.0h.9v.9h-.9zM34.7,288.7h.9v.9h-.9zM35.9,287.2h.9v.9h-.9zM39.1,284.5h.9v.9h-.9zM37.2,285.7h.9v.9h-.9zM36.4,285.9h.9v.9h-.9zM40.5,284.9h.9v.9h-.9zM39.6,284.5h.9v.9h-.9zM42.1,289.1h.9v.9h-.9zM35.9,287.3h.9v.9h-.9zM43.1,287.7h.9v.9h-.9zM42.3,287.3h.9v.9h-.9zM35.3,287.9h.9v.9h-.9zM38.7,284.1h.9v.9h-.9zM36.9,285.5h.9v.9h-.9zM35.1,291.0h.9v.9h-.9zM39.9,283.7h.9v.9h-.9zM37.8,283.8h.9v.9h-.9zM43.2,292.1h.9v.9h-.9zM35.3,286.9h.9v.9h-.9zM40.8,283.3h.9v.9h-.9zM40.3,294.8h.9v.9h-.9zM38.3,283.5h.9v.9h-.9zM42.1,286.5h.9v.9h-.9zM40.6,293.9h.9v.9h-.9zM40.4,283.8h.9v.9h-.9zM41.3,284.2h.9v.9h-.9zM41.6,295.1h.9v.9h-.9zM35.6,287.3h.9v.9h-.9zM43.0,291.8h.9v.9h-.9zM35.6,289.0h.9v.9h-.9zM41.3,283.3h.9v.9h-.9zM43.4,287.2h.9v.9h-.9zM34.6,287.8h.9v.9h-.9zM40.3,284.6h.9v.9h-.9zM42.6,292.8h.9v.9h-.9zM41.7,295.0h.9v.9h-.9zM37.9,293.7h.9v.9h-.9zM40.7,284.4h.9v.9h-.9zM35.7,287.9h.9v.9h-.9zM42.7,289.1h.9v.9h-.9zM38.4,283.2h.9v.9h-.9zM41.8,285.1h.9v.9h-.9zM38.9,294.0h.9v.9h-.9zM36.0,289.4h.9v.9h-.9zM43.1,287.3h.9v.9h-.9zM40.9,286.0h.9v.9h-.9zM40.1,284.6h.9v.9h-.9zM35.8,287.4h.9v.9h-.9zM34.6,290.2h.9v.9h-.9zM41.4,283.4h.9v.9h-.9zM42.2,289.1h.9v.9h-.9zM42.9,287.0h.9v.9h-.9zM41.4,284.0h.9v.9h-.9zM42.1,286.7h.9v.9h-.9zM35.0,288.4h.9v.9h-.9zM41.2,283.7h.9v.9h-.9zM42.9,288.4h.9v.9h-.9zM35.6,287.3h.9v.9h-.9zM41.0,283.6h.9v.9h-.9zM39.5,294.3h.9v.9h-.9zM43.2,287.4h.9v.9h-.9zM35.7,288.0h.9v.9h-.9zM40.8,285.5h.9v.9h-.9zM40.6,294.5h.9v.9h-.9zM40.4,273.8h.9v.9h-.9zM39.8,274.6h.9v.9h-.9zM38.7,270.4h.9v.9h-.9zM37.6,268.5h.9v.9h-.9zM41.5,272.7h.9v.9h-.9zM40.2,270.6h.9v.9h-.9zM37.7,270.7h.9v.9h-.9zM41.2,269.8h.9v.9h-.9zM37.9,268.6h.9v.9h-.9zM38.7,270.7h.9v.9h-.9zM40.2,273.1h.9v.9h-.9zM41.0,273.9h.9v.9h-.9zM41.8,271.8h.9v.9h-.9zM40.5,273.8h.9v.9h-.9zM38.2,273.1h.9v.9h-.9zM40.3,270.5h.9v.9h-.9zM41.1,270.5h.9v.9h-.9zM41.5,271.5h.9v.9h-.9zM37.7,273.1h.9v.9h-.9zM38.5,271.5h.9v.9h-.9zM39.8,274.2h.9v.9h-.9zM37.5,269.6h.9v.9h-.9zM37.8,273.8h.9v.9h-.9zM38.9,269.4h.9v.9h-.9zM40.1,274.8h.9v.9h-.9zM40.5,273.4h.9v.9h-.9zM38.4,275.4h.9v.9h-.9zM38.7,271.9h.9v.9h-.9zM39.4,271.6h.9v.9h-.9zM40.4,274.0h.9v.9h-.9zM38.5,272.7h.9v.9h-.9zM40.0,270.2h.9v.9h-.9zM38.3,274.8h.9v.9h-.9zM38.6,270.5h.9v.9h-.9zM37.9,272.8h.9v.9h-.9zM41.0,271.4h.9v.9h-.9zM38.9,270.0h.9v.9h-.9zM38.4,275.2h.9v.9h-.9zM38.0,270.0h.9v.9h-.9zM40.6,273.2h.9v.9h-.9zM38.8,274.8h.9v.9h-.9zM39.7,272.0h.9v.9h-.9zM41.8,270.1h.9v.9h-.9zM38.7,269.2h.9v.9h-.9zM38.0,275.5h.9v.9h-.9zM39.2,273.4h.9v.9h-.9zM39.6,272.7h.9v.9h-.9zM37.9,274.7h.9v.9h-.9zM39.3,269.8h.9v.9h-.9zM38.5,273.8h.9v.9h-.9zM40.2,270.0h.9v.9h-.9zM38.5,274.8h.9v.9h-.9zM41.1,270.3h.9v.9h-.9zM40.2,273.8h.9v.9h-.9zM37.9,272.8h.9v.9h-.9zM42.0,269.9h.9v.9h-.9zM37.9,273.5h.9v.9h-.9zM39.7,274.2h.9v.9h-.9zM38.7,273.3h.9v.9h-.9zM38.1,270.5h.9v.9h-.9zM40.5,271.4h.9v.9h-.9zM41.8,274.0h.9v.9h-.9zM40.1,269.6h.9v.9h-.9zM41.4,273.9h.9v.9h-.9zM39.7,271.4h.9v.9h-.9zM41.0,270.2h.9v.9h-.9zM40.1,271.6h.9v.9h-.9zM40.9,270.6h.9v.9h-.9zM39.2,271.6h.9v.9h-.9zM37.8,273.5h.9v.9h-.9zM38.9,275.2h.9v.9h-.9zM40.0,268.2h.9v.9h-.9zM40.1,272.7h.9v.9h-.9zM38.1,270.9h.9v.9h-.9zM39.3,271.5h.9v.9h-.9zM38.1,269.7h.9v.9h-.9zM38.1,273.4h.9v.9h-.9zM40.5,271.2h.9v.9h-.9zM41.1,272.1h.9v.9h-.9zM42.8,292.2h.9v.9h-.9zM39.0,269.1h.9v.9h-.9zM42.7,291.3h.9v.9h-.9zM41.3,286.0h.9v.9h-.9zM42.9,286.4h.9v.9h-.9z" fill="#7389bf" fill-opacity="0.55"/>
<path d="M37.3,291.1h.9v.9h-.9zM41.4,292.3h.9v.9h-.9zM43.0,289.9h.9v.9h-.9zM36.4,291.7h.9v.9h-.9zM40.6,292.4h.9v.9h-.9zM38.9,285.9h.9v.9h-.9zM37.1,293.4h.9v.9h-.9zM37.9,285.8h.9v.9h-.9zM36.7,290.7h.9v.9h-.9zM40.0,286.3h.9v.9h-.9zM37.7,292.7h.9v.9h-.9zM36.8,292.1h.9v.9h-.9zM42.2,290.2h.9v.9h-.9zM36.4,291.7h.9v.9h-.9zM36.6,287.6h.9v.9h-.9zM38.4,293.1h.9v.9h-.9zM36.1,291.8h.9v.9h-.9zM38.1,292.9h.9v.9h-.9zM40.2,286.4h.9v.9h-.9zM40.6,287.2h.9v.9h-.9zM38.2,285.9h.9v.9h-.9zM38.1,293.5h.9v.9h-.9zM40.4,285.9h.9v.9h-.9zM37.0,292.5h.9v.9h-.9zM36.8,287.4h.9v.9h-.9zM43.2,289.8h.9v.9h-.9zM37.8,293.3h.9v.9h-.9zM38.5,293.4h.9v.9h-.9zM38.2,292.6h.9v.9h-.9zM37.5,287.6h.9v.9h-.9zM36.1,286.9h.9v.9h-.9zM38.9,293.5h.9v.9h-.9zM38.3,285.4h.9v.9h-.9zM36.7,293.4h.9v.9h-.9zM41.9,292.3h.9v.9h-.9zM37.1,291.9h.9v.9h-.9zM40.7,286.4h.9v.9h-.9zM41.4,286.7h.9v.9h-.9zM40.5,287.3h.9v.9h-.9zM39.7,286.7h.9v.9h-.9zM37.7,293.0h.9v.9h-.9zM40.7,293.0h.9v.9h-.9zM39.1,287.2h.9v.9h-.9zM37.5,292.8h.9v.9h-.9zM37.9,285.5h.9v.9h-.9zM39.7,287.2h.9v.9h-.9zM41.1,292.8h.9v.9h-.9zM41.0,293.1h.9v.9h-.9zM39.3,287.5h.9v.9h-.9zM36.2,290.9h.9v.9h-.9zM36.6,286.6h.9v.9h-.9zM39.1,285.7h.9v.9h-.9zM39.3,286.1h.9v.9h-.9zM38.9,293.2h.9v.9h-.9zM36.9,292.2h.9v.9h-.9zM39.5,285.9h.9v.9h-.9zM40.4,285.1h.9v.9h-.9zM37.6,293.5h.9v.9h-.9zM36.1,286.9h.9v.9h-.9zM38.3,285.5h.9v.9h-.9zM39.5,287.2h.9v.9h-.9zM40.1,285.4h.9v.9h-.9zM38.1,292.7h.9v.9h-.9zM37.4,291.8h.9v.9h-.9zM36.9,291.3h.9v.9h-.9zM41.1,286.5h.9v.9h-.9zM42.9,289.5h.9v.9h-.9zM39.7,287.4h.9v.9h-.9zM37.2,291.1h.9v.9h-.9zM42.0,286.6h.9v.9h-.9zM39.6,286.2h.9v.9h-.9zM42.4,290.6h.9v.9h-.9zM41.7,286.8h.9v.9h-.9zM40.2,284.9h.9v.9h-.9zM39.0,286.9h.9v.9h-.9zM40.2,286.3h.9v.9h-.9zM38.8,285.8h.9v.9h-.9zM36.2,287.0h.9v.9h-.9zM39.9,286.1h.9v.9h-.9zM37.4,286.5h.9v.9h-.9zM36.6,292.5h.9v.9h-.9zM38.5,292.4h.9v.9h-.9zM39.0,285.1h.9v.9h-.9zM38.9,285.1h.9v.9h-.9zM39.9,287.2h.9v.9h-.9zM40.6,292.7h.9v.9h-.9zM37.3,291.3h.9v.9h-.9zM37.2,292.8h.9v.9h-.9zM37.1,292.4h.9v.9h-.9zM37.1,287.6h.9v.9h-.9zM40.2,286.4h.9v.9h-.9zM37.9,285.8h.9v.9h-.9zM36.3,292.6h.9v.9h-.9zM36.8,287.2h.9v.9h-.9zM36.6,291.2h.9v.9h-.9zM39.3,285.2h.9v.9h-.9zM38.3,292.8h.9v.9h-.9zM42.0,292.5h.9v.9h-.9zM37.0,291.2h.9v.9h-.9zM38.0,293.4h.9v.9h-.9zM40.9,287.1h.9v.9h-.9zM38.9,285.2h.9v.9h-.9zM38.8,286.1h.9v.9h-.9zM42.5,290.0h.9v.9h-.9zM37.3,293.1h.9v.9h-.9zM37.3,292.7h.9v.9h-.9z" fill="#6fa098" fill-opacity="0.7"/>
<path d="M40.6,289.4h.9v.9h-.9zM37.1,290.3h.9v.9h-.9zM39.8,292.5h.9v.9h-.9zM37.3,287.9h.9v.9h-.9zM37.9,288.2h.9v.9h-.9zM40.7,290.8h.9v.9h-.9zM37.0,290.1h.9v.9h-.9zM36.9,290.4h.9v.9h-.9zM37.9,290.8h.9v.9h-.9zM40.4,287.9h.9v.9h-.9zM38.7,291.7h.9v.9h-.9zM39.0,291.1h.9v.9h-.9zM39.3,288.5h.9v.9h-.9zM39.9,288.9h.9v.9h-.9zM41.9,289.4h.9v.9h-.9zM40.5,289.3h.9v.9h-.9zM40.6,290.2h.9v.9h-.9zM41.0,291.6h.9v.9h-.9zM39.3,288.9h.9v.9h-.9zM41.6,289.7h.9v.9h-.9zM40.0,293.3h.9v.9h-.9zM41.8,289.8h.9v.9h-.9zM39.5,292.2h.9v.9h-.9zM40.4,288.2h.9v.9h-.9zM39.3,288.7h.9v.9h-.9zM38.9,291.1h.9v.9h-.9zM40.8,291.7h.9v.9h-.9zM39.2,293.0h.9v.9h-.9zM38.0,291.9h.9v.9h-.9zM40.8,289.8h.9v.9h-.9zM36.4,288.7h.9v.9h-.9zM41.4,288.5h.9v.9h-.9zM40.6,288.7h.9v.9h-.9zM38.5,290.8h.9v.9h-.9zM39.3,293.4h.9v.9h-.9zM40.2,293.1h.9v.9h-.9zM36.4,289.0h.9v.9h-.9zM41.3,290.1h.9v.9h-.9zM38.4,288.1h.9v.9h-.9zM41.2,290.8h.9v.9h-.9zM40.8,291.5h.9v.9h-.9zM38.8,286.3h.9v.9h-.9zM38.9,287.4h.9v.9h-.9zM41.6,288.2h.9v.9h-.9zM40.4,288.5h.9v.9h-.9zM38.1,289.1h.9v.9h-.9zM37.3,289.1h.9v.9h-.9zM41.0,291.7h.9v.9h-.9zM38.9,288.5h.9v.9h-.9zM38.9,287.9h.9v.9h-.9zM41.3,292.0h.9v.9h-.9zM41.1,290.9h.9v.9h-.9zM38.5,288.3h.9v.9h-.9zM40.9,288.8h.9v.9h-.9zM39.6,292.3h.9v.9h-.9zM40.2,289.1h.9v.9h-.9zM38.9,291.5h.9v.9h-.9zM38.0,290.9h.9v.9h-.9zM39.4,292.3h.9v.9h-.9zM37.9,288.8h.9v.9h-.9zM40.7,290.2h.9v.9h-.9zM38.6,288.0h.9v.9h-.9zM39.6,289.2h.9v.9h-.9zM38.0,288.9h.9v.9h-.9zM37.6,288.4h.9v.9h-.9zM40.8,290.5h.9v.9h-.9zM38.9,292.1h.9v.9h-.9zM38.5,288.2h.9v.9h-.9zM37.2,288.3h.9v.9h-.9zM41.3,289.2h.9v.9h-.9zM37.7,292.1h.9v.9h-.9zM41.0,288.1h.9v.9h-.9zM40.7,289.7h.9v.9h-.9zM38.6,286.9h.9v.9h-.9zM37.6,288.1h.9v.9h-.9zM36.5,289.6h.9v.9h-.9zM40.0,289.0h.9v.9h-.9zM40.5,291.4h.9v.9h-.9zM36.7,289.4h.9v.9h-.9zM36.7,290.1h.9v.9h-.9zM40.3,287.9h.9v.9h-.9zM40.7,289.7h.9v.9h-.9zM39.4,292.7h.9v.9h-.9zM37.9,288.6h.9v.9h-.9zM40.2,288.4h.9v.9h-.9zM38.7,288.2h.9v.9h-.9zM38.9,287.4h.9v.9h-.9zM36.3,287.8h.9v.9h-.9zM41.5,292.0h.9v.9h-.9zM36.7,289.3h.9v.9h-.9zM40.7,287.8h.9v.9h-.9zM39.4,287.9h.9v.9h-.9zM36.1,287.9h.9v.9h-.9zM37.6,288.3h.9v.9h-.9zM41.3,289.1h.9v.9h-.9zM40.8,288.4h.9v.9h-.9zM37.8,287.8h.9v.9h-.9zM40.5,288.0h.9v.9h-.9zM36.1,288.4h.9v.9h-.9zM38.9,288.4h.9v.9h-.9zM38.8,288.7h.9v.9h-.9zM36.4,287.9h.9v.9h-.9zM39.9,288.7h.9v.9h-.9zM39.2,293.1h.9v.9h-.9zM41.2,289.7h.9v.9h-.9zM38.5,287.9h.9v.9h-.9zM37.7,291.4h.9v.9h-.9zM41.5,288.3h.9v.9h-.9zM38.1,287.5h.9v.9h-.9zM37.8,288.4h.9v.9h-.9zM37.1,289.7h.9v.9h-.9zM37.8,291.4h.9v.9h-.9zM40.3,289.2h.9v.9h-.9zM38.3,287.4h.9v.9h-.9zM38.2,288.4h.9v.9h-.9zM40.0,292.5h.9v.9h-.9zM40.7,289.8h.9v.9h-.9zM37.2,290.3h.9v.9h-.9zM36.7,290.6h.9v.9h-.9zM41.5,290.6h.9v.9h-.9zM39.0,291.1h.9v.9h-.9zM39.3,292.8h.9v.9h-.9zM38.0,286.3h.9v.9h-.9zM40.2,293.0h.9v.9h-.9zM41.7,290.1h.9v.9h-.9zM40.7,289.3h.9v.9h-.9zM37.5,287.1h.9v.9h-.9zM37.2,289.1h.9v.9h-.9zM38.1,286.2h.9v.9h-.9zM38.3,291.7h.9v.9h-.9zM41.4,290.4h.9v.9h-.9zM40.4,287.9h.9v.9h-.9zM38.3,292.2h.9v.9h-.9zM41.6,290.4h.9v.9h-.9zM41.7,291.4h.9v.9h-.9zM41.1,290.4h.9v.9h-.9zM38.8,289.2h.9v.9h-.9zM42.0,289.2h.9v.9h-.9zM41.6,291.3h.9v.9h-.9zM37.9,286.8h.9v.9h-.9zM41.2,290.4h.9v.9h-.9zM38.2,288.3h.9v.9h-.9zM41.2,289.3h.9v.9h-.9zM39.5,288.1h.9v.9h-.9zM40.4,293.3h.9v.9h-.9zM41.1,292.0h.9v.9h-.9zM37.6,287.7h.9v.9h-.9zM37.0,288.4h.9v.9h-.9zM38.8,287.9h.9v.9h-.9zM38.5,286.7h.9v.9h-.9zM36.3,289.6h.9v.9h-.9zM38.3,287.9h.9v.9h-.9zM41.6,292.0h.9v.9h-.9zM36.3,288.7h.9v.9h-.9zM37.1,288.3h.9v.9h-.9zM39.4,288.8h.9v.9h-.9zM39.4,292.3h.9v.9h-.9zM38.5,288.1h.9v.9h-.9zM37.3,289.3h.9v.9h-.9zM37.5,289.2h.9v.9h-.9zM40.7,289.4h.9v.9h-.9zM38.9,286.6h.9v.9h-.9zM39.7,292.3h.9v.9h-.9zM36.5,289.4h.9v.9h-.9zM36.7,290.5h.9v.9h-.9zM37.6,292.2h.9v.9h-.9zM41.5,289.9h.9v.9h-.9z" fill="#8fae62" fill-opacity="0.8"/>
<path d="M40.2,291.3h.9v.9h-.9zM38.9,289.9h.9v.9h-.9zM39.2,290.7h.9v.9h-.9zM38.6,290.3h.9v.9h-.9zM39.5,291.7h.9v.9h-.9zM40.1,290.4h.9v.9h-.9zM40.3,291.3h.9v.9h-.9zM39.9,291.4h.9v.9h-.9zM39.5,290.8h.9v.9h-.9zM39.4,289.3h.9v.9h-.9zM37.6,289.6h.9v.9h-.9zM40.3,291.7h.9v.9h-.9zM39.4,291.9h.9v.9h-.9zM39.4,291.8h.9v.9h-.9zM39.5,291.4h.9v.9h-.9zM39.1,291.6h.9v.9h-.9zM38.1,289.5h.9v.9h-.9zM40.1,291.0h.9v.9h-.9zM38.2,289.4h.9v.9h-.9zM40.0,289.8h.9v.9h-.9zM40.3,290.6h.9v.9h-.9zM38.6,290.6h.9v.9h-.9zM39.7,292.0h.9v.9h-.9zM38.4,290.0h.9v.9h-.9zM39.4,290.8h.9v.9h-.9zM38.0,290.6h.9v.9h-.9zM39.1,290.7h.9v.9h-.9zM39.4,291.5h.9v.9h-.9zM38.0,289.6h.9v.9h-.9zM40.3,292.1h.9v.9h-.9zM39.4,290.6h.9v.9h-.9zM39.4,290.0h.9v.9h-.9zM39.9,290.5h.9v.9h-.9zM38.8,290.5h.9v.9h-.9zM39.4,290.9h.9v.9h-.9zM38.7,289.2h.9v.9h-.9zM38.2,290.6h.9v.9h-.9zM38.9,289.2h.9v.9h-.9zM39.6,289.9h.9v.9h-.9zM40.2,291.9h.9v.9h-.9zM38.5,289.4h.9v.9h-.9zM38.7,290.4h.9v.9h-.9zM39.3,289.8h.9v.9h-.9zM39.4,289.3h.9v.9h-.9zM39.6,291.2h.9v.9h-.9zM39.7,290.1h.9v.9h-.9zM40.0,291.6h.9v.9h-.9zM39.3,291.6h.9v.9h-.9zM39.2,290.7h.9v.9h-.9zM39.7,290.3h.9v.9h-.9zM40.0,289.5h.9v.9h-.9zM40.1,291.4h.9v.9h-.9zM39.9,291.2h.9v.9h-.9zM38.3,290.1h.9v.9h-.9zM39.2,289.5h.9v.9h-.9zM39.3,290.0h.9v.9h-.9zM39.6,290.1h.9v.9h-.9zM40.4,289.6h.9v.9h-.9zM38.3,290.4h.9v.9h-.9zM40.4,289.7h.9v.9h-.9zM37.8,289.9h.9v.9h-.9zM38.0,290.6h.9v.9h-.9zM40.1,291.5h.9v.9h-.9zM40.3,291.9h.9v.9h-.9zM40.3,290.8h.9v.9h-.9zM39.2,291.6h.9v.9h-.9zM40.1,290.2h.9v.9h-.9zM40.2,290.6h.9v.9h-.9zM38.3,289.7h.9v.9h-.9zM38.9,290.1h.9v.9h-.9zM39.4,290.4h.9v.9h-.9zM38.8,290.1h.9v.9h-.9zM38.2,289.4h.9v.9h-.9zM39.8,289.2h.9v.9h-.9z" fill="#cab93e" fill-opacity="0.9"/>
<rect x="28.50" y="247.20" width="53.60" height="53.60" fill="none" stroke="#231f20" stroke-width="0.9" />
<rect x="29.40" y="259.20" width="18.60" height="18.90" fill="none" stroke="#231f20" stroke-width="0.9" />
<rect x="48.40" y="259.20" width="27.20" height="18.90" fill="none" stroke="#231f20" stroke-width="0.9" />
<text x="33.30" y="255.80" font-size="6.78" fill="#231f20" stroke="#231f20" stroke-width="0.1" textLength="11.20" lengthAdjust="spacingAndGlyphs">20.1</text>
<text x="56.50" y="255.80" font-size="6.78" fill="#231f20" stroke="#231f20" stroke-width="0.1" textLength="11.20" lengthAdjust="spacingAndGlyphs">1.56</text>
<text x="25.10" y="254.20" font-size="6.0" text-anchor="end" fill="#231f20" stroke="#231f20" stroke-width="0.1">10<tspan font-size="3.6" dy="-2.4">5</tspan></text>
<text x="25.10" y="266.40" font-size="6.0" text-anchor="end" fill="#231f20" stroke="#231f20" stroke-width="0.1">10<tspan font-size="3.6" dy="-2.4">4</tspan></text>
<text x="25.10" y="280.20" font-size="6.0" text-anchor="end" fill="#231f20" stroke="#231f20" stroke-width="0.1">10<tspan font-size="3.6" dy="-2.4">3</tspan></text>
<text x="23.90" y="293.20" font-size="6.0" text-anchor="end" fill="#231f20" stroke="#231f20" stroke-width="0.1">0</text>
<line x1="27.30" y1="252.00" x2="28.50" y2="252.00" stroke="#231f20" stroke-width="0.6" />
<line x1="27.30" y1="264.20" x2="28.50" y2="264.20" stroke="#231f20" stroke-width="0.6" />
<line x1="27.30" y1="278.00" x2="28.50" y2="278.00" stroke="#231f20" stroke-width="0.6" />
<line x1="27.30" y1="291.00" x2="28.50" y2="291.00" stroke="#231f20" stroke-width="0.6" />
<text x="39.50" y="310.20" font-size="6.0" text-anchor="middle" fill="#231f20" stroke="#231f20" stroke-width="0.1">0</text>
<text x="52.10" y="310.20" font-size="6.0" text-anchor="middle" fill="#231f20" stroke="#231f20" stroke-width="0.1">10<tspan font-size="3.6" dy="-2.4">3</tspan></text>
<text x="65.50" y="310.20" font-size="6.0" text-anchor="middle" fill="#231f20" stroke="#231f20" stroke-width="0.1">10<tspan font-size="3.6" dy="-2.4">4</tspan></text>
<text x="78.10" y="310.20" font-size="6.0" text-anchor="middle" fill="#231f20" stroke="#231f20" stroke-width="0.1">10<tspan font-size="3.6" dy="-2.4">5</tspan></text>
<line x1="39.50" y1="300.80" x2="39.50" y2="302.00" stroke="#231f20" stroke-width="0.6" />
<line x1="48.10" y1="300.80" x2="48.10" y2="302.00" stroke="#231f20" stroke-width="0.6" />
<line x1="62.50" y1="300.80" x2="62.50" y2="302.00" stroke="#231f20" stroke-width="0.6" />
<line x1="76.10" y1="300.80" x2="76.10" y2="302.00" stroke="#231f20" stroke-width="0.6" />
<line x1="36.90" y1="301.80" x2="41.10" y2="301.80" stroke="#231f20" stroke-width="1.0" />
<text x="43.05" y="243.40" font-size="7.21" fill="#3db54a" stroke="#3db54a" stroke-width="0.08" textLength="24.50" lengthAdjust="spacingAndGlyphs"><tspan font-style="italic">Mx1-Cre</tspan></text>
<ellipse cx="108.7" cy="290.7" rx="6.4" ry="7.8" fill="url(#haze)" fill-opacity="0.16"/>
<ellipse cx="126.2" cy="271.7" rx="18.4" ry="7.8" fill="url(#haze)" fill-opacity="0.13"/>
<ellipse cx="126.2" cy="289.2" rx="23.0" ry="9.2" fill="url(#haze)" fill-opacity="0.12"/>
<path d="M104.7,291.5h.9v.9h-.9zM107.9,289.1h.9v.9h-.9zM111.4,290.9h.9v.9h-.9zM107.9,296.8h.9v.9h-.9zM107.3,286.4h.9v.9h-.9zM104.9,288.9h.9v.9h-.9zM110.5,293.6h.9v.9h-.9zM111.9,297.0h.9v.9h-.9zM113.5,293.0h.9v.9h-.9zM112.5,293.0h.9v.9h-.9zM107.2,293.7h.9v.9h-.9zM109.0,290.1h.9v.9h-.9zM114.5,293.5h.9v.9h-.9zM107.5,290.6h.9v.9h-.9zM115.5,290.0h.9v.9h-.9zM110.9,293.0h.9v.9h-.9zM110.3,292.9h.9v.9h-.9zM107.5,289.3h.9v.9h-.9zM108.4,289.7h.9v.9h-.9zM111.1,296.2h.9v.9h-.9zM106.3,292.8h.9v.9h-.9zM106.1,288.5h.9v.9h-.9zM108.2,291.3h.9v.9h-.9zM107.6,281.9h.9v.9h-.9zM112.8,290.0h.9v.9h-.9zM107.1,293.2h.9v.9h-.9zM107.2,286.0h.9v.9h-.9zM110.2,292.3h.9v.9h-.9zM106.5,293.8h.9v.9h-.9zM109.9,287.0h.9v.9h-.9zM113.8,291.8h.9v.9h-.9zM105.6,292.4h.9v.9h-.9zM109.2,294.2h.9v.9h-.9zM105.0,294.5h.9v.9h-.9zM111.5,293.3h.9v.9h-.9zM110.6,295.4h.9v.9h-.9zM110.9,291.3h.9v.9h-.9zM106.5,294.7h.9v.9h-.9zM111.6,291.9h.9v.9h-.9zM101.7,292.0h.9v.9h-.9zM101.8,291.7h.9v.9h-.9zM111.8,297.4h.9v.9h-.9zM107.5,292.4h.9v.9h-.9zM108.6,283.2h.9v.9h-.9zM110.9,290.8h.9v.9h-.9zM109.0,287.6h.9v.9h-.9zM108.7,291.1h.9v.9h-.9zM112.5,291.9h.9v.9h-.9zM118.7,289.5h.9v.9h-.9zM108.1,290.7h.9v.9h-.9zM106.5,296.1h.9v.9h-.9zM110.7,286.5h.9v.9h-.9zM109.1,294.8h.9v.9h-.9zM104.8,291.4h.9v.9h-.9zM108.2,298.9h.9v.9h-.9zM110.0,289.5h.9v.9h-.9zM107.2,297.4h.9v.9h-.9zM107.5,298.7h.9v.9h-.9zM104.4,290.2h.9v.9h-.9zM108.2,288.4h.9v.9h-.9zM108.2,293.2h.9v.9h-.9zM106.9,285.9h.9v.9h-.9zM112.7,295.9h.9v.9h-.9zM106.9,291.9h.9v.9h-.9zM101.5,294.4h.9v.9h-.9zM105.1,288.9h.9v.9h-.9zM115.0,286.5h.9v.9h-.9zM108.9,287.2h.9v.9h-.9zM103.6,286.8h.9v.9h-.9zM109.6,286.4h.9v.9h-.9zM107.2,293.4h.9v.9h-.9zM108.4,286.3h.9v.9h-.9zM113.1,291.3h.9v.9h-.9zM112.8,287.2h.9v.9h-.9zM113.6,286.2h.9v.9h-.9zM103.9,289.4h.9v.9h-.9zM107.8,291.8h.9v.9h-.9zM107.2,293.0h.9v.9h-.9zM112.6,288.6h.9v.9h-.9zM104.9,289.5h.9v.9h-.9zM111.2,293.7h.9v.9h-.9zM107.8,287.5h.9v.9h-.9zM108.8,294.2h.9v.9h-.9zM106.8,295.3h.9v.9h-.9zM109.5,291.9h.9v.9h-.9zM107.0,295.5h.9v.9h-.9zM108.9,285.7h.9v.9h-.9zM111.1,289.4h.9v.9h-.9zM111.9,291.4h.9v.9h-.9zM107.0,291.4h.9v.9h-.9zM107.4,288.0h.9v.9h-.9zM108.9,293.7h.9v.9h-.9zM109.0,290.6h.9v.9h-.9zM107.3,292.8h.9v.9h-.9zM109.6,294.2h.9v.9h-.9zM109.9,298.2h.9v.9h-.9zM104.4,290.7h.9v.9h-.9zM110.3,293.9h.9v.9h-.9zM104.5,286.6h.9v.9h-.9zM108.7,294.5h.9v.9h-.9zM111.9,285.6h.9v.9h-.9zM109.2,294.9h.9v.9h-.9zM108.9,287.3h.9v.9h-.9zM106.8,286.3h.9v.9h-.9zM112.2,290.0h.9v.9h-.9zM107.6,287.8h.9v.9h-.9zM108.4,287.7h.9v.9h-.9zM106.1,290.7h.9v.9h-.9zM108.2,292.4h.9v.9h-.9zM109.2,294.9h.9v.9h-.9zM108.7,291.7h.9v.9h-.9zM109.5,288.1h.9v.9h-.9zM112.2,288.9h.9v.9h-.9zM104.3,295.1h.9v.9h-.9zM110.7,288.9h.9v.9h-.9zM111.5,294.2h.9v.9h-.9zM110.8,286.8h.9v.9h-.9zM109.3,287.3h.9v.9h-.9zM107.1,288.9h.9v.9h-.9zM106.4,274.3h.9v.9h-.9zM106.7,274.7h.9v.9h-.9zM110.6,270.0h.9v.9h-.9zM110.6,275.0h.9v.9h-.9zM114.5,271.4h.9v.9h-.9zM116.9,274.6h.9v.9h-.9zM114.9,267.2h.9v.9h-.9zM105.6,277.0h.9v.9h-.9zM109.0,274.1h.9v.9h-.9zM114.7,266.8h.9v.9h-.9zM111.7,279.8h.9v.9h-.9zM113.1,272.7h.9v.9h-.9zM112.1,272.4h.9v.9h-.9zM113.0,277.4h.9v.9h-.9zM109.0,274.6h.9v.9h-.9zM111.1,275.2h.9v.9h-.9zM113.2,268.2h.9v.9h-.9zM114.6,275.7h.9v.9h-.9zM105.4,271.3h.9v.9h-.9zM104.0,271.2h.9v.9h-.9zM111.2,267.9h.9v.9h-.9zM106.7,269.0h.9v.9h-.9zM107.1,269.4h.9v.9h-.9zM105.6,274.5h.9v.9h-.9zM109.0,269.2h.9v.9h-.9zM113.8,270.2h.9v.9h-.9zM113.5,267.6h.9v.9h-.9zM115.5,270.6h.9v.9h-.9zM106.0,273.9h.9v.9h-.9zM104.5,268.2h.9v.9h-.9zM110.8,270.5h.9v.9h-.9zM111.5,272.9h.9v.9h-.9zM110.9,272.9h.9v.9h-.9zM112.7,272.4h.9v.9h-.9zM114.3,276.0h.9v.9h-.9zM101.9,265.6h.9v.9h-.9zM116.1,270.7h.9v.9h-.9zM110.6,271.9h.9v.9h-.9zM111.0,280.8h.9v.9h-.9zM107.0,272.6h.9v.9h-.9zM109.9,268.2h.9v.9h-.9zM106.3,271.3h.9v.9h-.9zM109.8,273.8h.9v.9h-.9zM102.0,266.4h.9v.9h-.9zM116.5,271.7h.9v.9h-.9zM113.2,270.7h.9v.9h-.9zM107.0,280.4h.9v.9h-.9zM104.9,268.9h.9v.9h-.9zM112.6,272.4h.9v.9h-.9zM103.3,272.9h.9v.9h-.9zM112.8,266.5h.9v.9h-.9zM107.6,275.3h.9v.9h-.9zM117.5,263.5h.9v.9h-.9zM107.1,272.4h.9v.9h-.9zM106.2,268.9h.9v.9h-.9zM107.8,274.3h.9v.9h-.9zM105.6,275.7h.9v.9h-.9zM113.2,275.6h.9v.9h-.9zM116.0,270.3h.9v.9h-.9zM109.6,276.2h.9v.9h-.9zM114.9,275.9h.9v.9h-.9zM108.0,270.5h.9v.9h-.9zM104.6,270.7h.9v.9h-.9zM106.2,270.5h.9v.9h-.9zM108.3,275.5h.9v.9h-.9zM113.3,272.1h.9v.9h-.9zM105.3,272.1h.9v.9h-.9zM111.6,275.6h.9v.9h-.9zM110.7,275.4h.9v.9h-.9zM107.2,274.8h.9v.9h-.9zM112.8,271.0h.9v.9h-.9zM106.8,277.0h.9v.9h-.9zM105.9,275.0h.9v.9h-.9zM108.8,271.0h.9v.9h-.9zM108.8,270.7h.9v.9h-.9zM109.7,279.1h.9v.9h-.9zM115.7,271.8h.9v.9h-.9zM111.7,275.8h.9v.9h-.9zM108.1,279.3h.9v.9h-.9zM110.0,274.7h.9v.9h-.9zM106.0,268.1h.9v.9h-.9zM105.8,269.9h.9v.9h-.9zM114.0,271.1h.9v.9h-.9zM113.4,270.7h.9v.9h-.9zM106.0,273.0h.9v.9h-.9zM108.2,266.0h.9v.9h-.9zM110.0,276.8h.9v.9h-.9zM109.0,267.8h.9v.9h-.9zM106.8,267.7h.9v.9h-.9zM108.9,268.7h.9v.9h-.9zM125.6,272.4h.9v.9h-.9zM137.1,267.9h.9v.9h-.9zM110.1,277.4h.9v.9h-.9zM130.0,270.6h.9v.9h-.9zM130.5,268.7h.9v.9h-.9zM123.8,274.1h.9v.9h-.9zM124.0,272.3h.9v.9h-.9zM130.0,272.2h.9v.9h-.9zM124.5,273.6h.9v.9h-.9zM137.1,276.1h.9v.9h-.9zM119.4,274.4h.9v.9h-.9zM111.2,267.0h.9v.9h-.9zM129.7,273.6h.9v.9h-.9zM137.4,266.0h.9v.9h-.9zM135.1,270.0h.9v.9h-.9zM122.7,273.3h.9v.9h-.9zM137.7,268.6h.9v.9h-.9zM112.8,269.8h.9v.9h-.9zM125.5,275.9h.9v.9h-.9zM129.4,270.8h.9v.9h-.9zM122.4,270.2h.9v.9h-.9zM134.2,266.2h.9v.9h-.9zM120.9,268.8h.9v.9h-.9zM135.5,272.2h.9v.9h-.9zM121.1,274.4h.9v.9h-.9zM142.1,275.3h.9v.9h-.9zM116.0,271.1h.9v.9h-.9zM135.5,265.6h.9v.9h-.9zM116.7,270.4h.9v.9h-.9zM130.6,269.0h.9v.9h-.9zM127.6,271.3h.9v.9h-.9zM129.0,267.7h.9v.9h-.9zM108.7,264.5h.9v.9h-.9zM127.7,275.1h.9v.9h-.9zM130.3,266.3h.9v.9h-.9zM112.5,270.8h.9v.9h-.9zM119.1,265.5h.9v.9h-.9zM121.7,269.1h.9v.9h-.9zM125.4,273.1h.9v.9h-.9zM127.9,272.4h.9v.9h-.9zM130.6,271.4h.9v.9h-.9zM122.8,270.6h.9v.9h-.9zM135.8,270.8h.9v.9h-.9zM132.8,277.4h.9v.9h-.9zM140.3,264.5h.9v.9h-.9zM127.6,275.1h.9v.9h-.9zM122.7,269.4h.9v.9h-.9zM114.9,269.5h.9v.9h-.9zM126.3,265.4h.9v.9h-.9zM126.2,268.9h.9v.9h-.9zM126.5,268.1h.9v.9h-.9zM127.0,272.3h.9v.9h-.9zM120.8,269.5h.9v.9h-.9zM133.9,273.9h.9v.9h-.9zM120.1,273.2h.9v.9h-.9zM117.1,270.0h.9v.9h-.9zM103.0,269.8h.9v.9h-.9zM131.8,270.1h.9v.9h-.9zM131.0,269.6h.9v.9h-.9zM128.7,271.2h.9v.9h-.9zM118.5,278.9h.9v.9h-.9zM119.6,267.2h.9v.9h-.9zM127.4,273.4h.9v.9h-.9zM129.1,271.4h.9v.9h-.9zM130.0,274.9h.9v.9h-.9zM131.3,267.0h.9v.9h-.9zM140.1,271.6h.9v.9h-.9zM109.9,274.6h.9v.9h-.9zM125.1,272.7h.9v.9h-.9zM142.2,269.9h.9v.9h-.9zM121.3,268.4h.9v.9h-.9zM127.8,274.0h.9v.9h-.9zM129.4,272.3h.9v.9h-.9zM109.3,272.6h.9v.9h-.9zM135.0,270.0h.9v.9h-.9zM122.0,268.3h.9v.9h-.9zM128.3,266.4h.9v.9h-.9zM141.6,271.1h.9v.9h-.9zM121.5,267.6h.9v.9h-.9zM130.6,275.0h.9v.9h-.9zM121.8,272.3h.9v.9h-.9zM128.7,275.0h.9v.9h-.9zM131.2,275.9h.9v.9h-.9zM115.0,280.6h.9v.9h-.9zM122.3,267.9h.9v.9h-.9zM118.9,273.1h.9v.9h-.9zM132.5,280.0h.9v.9h-.9zM136.1,269.2h.9v.9h-.9zM123.6,270.2h.9v.9h-.9zM121.5,271.2h.9v.9h-.9zM121.4,275.7h.9v.9h-.9zM129.0,273.9h.9v.9h-.9zM125.1,267.8h.9v.9h-.9zM129.8,270.4h.9v.9h-.9zM142.2,275.9h.9v.9h-.9zM116.7,268.4h.9v.9h-.9zM121.9,271.0h.9v.9h-.9zM135.5,271.1h.9v.9h-.9zM130.0,270.7h.9v.9h-.9zM124.6,275.9h.9v.9h-.9zM126.4,278.4h.9v.9h-.9zM126.0,273.1h.9v.9h-.9zM129.5,274.0h.9v.9h-.9zM141.7,269.5h.9v.9h-.9zM122.1,268.6h.9v.9h-.9zM140.8,273.4h.9v.9h-.9zM130.0,273.3h.9v.9h-.9zM111.6,274.4h.9v.9h-.9zM127.4,272.8h.9v.9h-.9zM127.1,271.5h.9v.9h-.9zM125.8,269.8h.9v.9h-.9zM124.5,273.9h.9v.9h-.9zM109.5,274.6h.9v.9h-.9zM131.5,268.1h.9v.9h-.9zM130.4,272.8h.9v.9h-.9zM122.2,277.5h.9v.9h-.9zM127.8,271.3h.9v.9h-.9zM115.9,279.1h.9v.9h-.9zM128.1,272.8h.9v.9h-.9zM124.5,278.8h.9v.9h-.9zM125.1,277.1h.9v.9h-.9zM134.8,275.1h.9v.9h-.9zM131.4,275.7h.9v.9h-.9zM125.4,264.7h.9v.9h-.9zM104.9,275.5h.9v.9h-.9zM109.9,276.3h.9v.9h-.9zM131.2,273.4h.9v.9h-.9zM120.7,265.0h.9v.9h-.9zM125.6,277.5h.9v.9h-.9zM125.5,271.7h.9v.9h-.9zM127.0,271.9h.9v.9h-.9zM128.7,279.5h.9v.9h-.9zM119.4,265.6h.9v.9h-.9zM133.1,270.0h.9v.9h-.9zM122.3,267.0h.9v.9h-.9zM124.9,270.3h.9v.9h-.9zM129.8,270.4h.9v.9h-.9zM114.7,273.4h.9v.9h-.9zM125.7,265.3h.9v.9h-.9zM123.0,292.3h.9v.9h-.9zM125.8,288.0h.9v.9h-.9zM132.3,286.7h.9v.9h-.9zM119.4,291.4h.9v.9h-.9zM124.8,286.8h.9v.9h-.9zM128.6,290.3h.9v.9h-.9zM135.7,293.3h.9v.9h-.9zM127.3,289.2h.9v.9h-.9zM117.1,290.1h.9v.9h-.9zM122.8,292.6h.9v.9h-.9zM134.4,291.8h.9v.9h-.9zM125.8,290.6h.9v.9h-.9zM141.4,296.1h.9v.9h-.9zM120.5,278.0h.9v.9h-.9zM132.6,283.2h.9v.9h-.9zM126.9,291.1h.9v.9h-.9zM141.3,288.6h.9v.9h-.9zM125.3,287.0h.9v.9h-.9zM129.4,284.4h.9v.9h-.9zM132.1,290.6h.9v.9h-.9zM139.9,288.1h.9v.9h-.9zM129.7,290.1h.9v.9h-.9zM126.2,285.5h.9v.9h-.9zM120.8,289.5h.9v.9h-.9zM131.3,293.4h.9v.9h-.9zM120.4,290.3h.9v.9h-.9zM132.5,292.7h.9v.9h-.9zM128.9,290.1h.9v.9h-.9zM123.0,289.4h.9v.9h-.9zM124.5,282.4h.9v.9h-.9zM119.4,279.7h.9v.9h-.9zM131.5,292.8h.9v.9h-.9zM122.9,290.0h.9v.9h-.9zM128.0,288.3h.9v.9h-.9zM141.1,288.6h.9v.9h-.9zM129.7,289.1h.9v.9h-.9zM146.4,282.8h.9v.9h-.9zM128.5,284.0h.9v.9h-.9zM119.4,285.5h.9v.9h-.9zM134.1,285.0h.9v.9h-.9zM116.5,288.0h.9v.9h-.9zM117.0,285.4h.9v.9h-.9zM142.2,286.7h.9v.9h-.9zM118.5,294.8h.9v.9h-.9zM127.4,293.8h.9v.9h-.9zM110.3,288.2h.9v.9h-.9zM131.3,290.2h.9v.9h-.9zM131.9,294.3h.9v.9h-.9zM132.3,293.7h.9v.9h-.9zM134.0,286.3h.9v.9h-.9zM128.4,294.5h.9v.9h-.9zM117.1,291.5h.9v.9h-.9zM132.8,294.7h.9v.9h-.9zM109.9,298.8h.9v.9h-.9zM111.1,289.3h.9v.9h-.9zM148.9,290.4h.9v.9h-.9zM145.6,295.1h.9v.9h-.9zM128.1,286.2h.9v.9h-.9zM123.4,284.2h.9v.9h-.9zM112.8,290.9h.9v.9h-.9zM112.1,290.8h.9v.9h-.9zM125.8,288.8h.9v.9h-.9zM116.2,284.4h.9v.9h-.9zM134.5,285.5h.9v.9h-.9zM120.8,288.6h.9v.9h-.9zM133.3,297.2h.9v.9h-.9zM146.1,292.5h.9v.9h-.9zM133.2,292.0h.9v.9h-.9zM124.4,288.5h.9v.9h-.9zM109.3,291.5h.9v.9h-.9zM121.6,290.9h.9v.9h-.9zM148.8,292.8h.9v.9h-.9zM138.0,292.8h.9v.9h-.9zM120.9,286.7h.9v.9h-.9zM112.0,287.0h.9v.9h-.9zM128.2,292.1h.9v.9h-.9zM132.3,287.9h.9v.9h-.9zM115.2,289.5h.9v.9h-.9zM129.6,281.4h.9v.9h-.9zM127.4,283.6h.9v.9h-.9zM122.0,288.8h.9v.9h-.9zM116.7,287.3h.9v.9h-.9zM126.6,285.3h.9v.9h-.9zM133.3,291.9h.9v.9h-.9zM131.9,285.1h.9v.9h-.9zM124.5,288.0h.9v.9h-.9zM127.6,292.3h.9v.9h-.9zM121.2,289.4h.9v.9h-.9zM134.6,288.0h.9v.9h-.9zM133.6,289.2h.9v.9h-.9zM112.4,289.1h.9v.9h-.9zM127.9,287.6h.9v.9h-.9zM145.5,287.8h.9v.9h-.9zM111.8,288.7h.9v.9h-.9zM124.2,291.3h.9v.9h-.9zM134.6,286.4h.9v.9h-.9zM117.1,286.5h.9v.9h-.9zM124.5,287.5h.9v.9h-.9zM126.4,286.7h.9v.9h-.9zM114.5,286.2h.9v.9h-.9zM134.2,284.7h.9v.9h-.9zM134.2,295.8h.9v.9h-.9zM117.2,292.9h.9v.9h-.9zM134.8,278.7h.9v.9h-.9zM134.9,291.9h.9v.9h-.9zM118.6,296.3h.9v.9h-.9zM108.6,294.5h.9v.9h-.9zM129.0,285.2h.9v.9h-.9zM127.5,283.2h.9v.9h-.9zM132.4,291.5h.9v.9h-.9zM138.6,294.9h.9v.9h-.9zM119.5,291.3h.9v.9h-.9zM120.2,277.7h.9v.9h-.9zM135.9,294.0h.9v.9h-.9zM128.6,296.2h.9v.9h-.9zM125.8,282.4h.9v.9h-.9zM121.8,288.2h.9v.9h-.9zM129.1,287.6h.9v.9h-.9zM120.6,289.2h.9v.9h-.9zM114.4,272.2h.9v.9h-.9zM116.6,287.7h.9v.9h-.9zM137.3,274.4h.9v.9h-.9zM130.5,290.6h.9v.9h-.9zM131.9,273.6h.9v.9h-.9zM129.6,277.8h.9v.9h-.9zM116.3,294.8h.9v.9h-.9zM121.9,284.8h.9v.9h-.9zM137.0,292.8h.9v.9h-.9zM125.7,277.0h.9v.9h-.9zM121.8,276.6h.9v.9h-.9zM120.9,280.5h.9v.9h-.9zM104.5,275.8h.9v.9h-.9zM105.3,280.9h.9v.9h-.9zM132.0,286.4h.9v.9h-.9zM124.6,274.6h.9v.9h-.9zM121.6,271.7h.9v.9h-.9zM129.2,270.5h.9v.9h-.9zM114.7,293.4h.9v.9h-.9zM127.4,274.5h.9v.9h-.9zM119.8,274.1h.9v.9h-.9zM112.8,278.3h.9v.9h-.9zM112.2,282.6h.9v.9h-.9zM135.2,275.3h.9v.9h-.9zM111.2,275.6h.9v.9h-.9zM115.0,282.2h.9v.9h-.9zM114.3,275.1h.9v.9h-.9zM114.2,288.2h.9v.9h-.9zM134.0,288.6h.9v.9h-.9zM124.6,274.7h.9v.9h-.9zM138.8,296.8h.9v.9h-.9zM114.5,277.0h.9v.9h-.9zM135.4,286.1h.9v.9h-.9zM127.1,295.9h.9v.9h-.9zM120.2,275.7h.9v.9h-.9zM117.9,282.8h.9v.9h-.9zM124.6,290.0h.9v.9h-.9zM131.6,276.2h.9v.9h-.9zM131.2,279.9h.9v.9h-.9zM140.5,289.3h.9v.9h-.9zM115.2,285.1h.9v.9h-.9zM106.7,284.5h.9v.9h-.9zM123.3,284.5h.9v.9h-.9zM107.8,275.3h.9v.9h-.9zM115.6,279.7h.9v.9h-.9zM130.4,275.5h.9v.9h-.9zM131.6,287.3h.9v.9h-.9zM107.0,285.8h.9v.9h-.9zM123.6,286.3h.9v.9h-.9zM124.4,290.1h.9v.9h-.9zM113.7,296.4h.9v.9h-.9zM135.5,273.0h.9v.9h-.9zM103.6,288.4h.9v.9h-.9zM103.5,275.7h.9v.9h-.9zM128.1,280.2h.9v.9h-.9zM124.1,266.1h.9v.9h-.9zM113.1,284.8h.9v.9h-.9zM147.2,284.1h.9v.9h-.9zM122.6,282.1h.9v.9h-.9zM134.4,285.7h.9v.9h-.9zM111.5,267.3h.9v.9h-.9zM119.3,278.4h.9v.9h-.9zM144.2,275.2h.9v.9h-.9zM131.3,267.1h.9v.9h-.9zM131.5,272.1h.9v.9h-.9zM122.5,279.7h.9v.9h-.9zM123.3,281.2h.9v.9h-.9zM108.3,285.3h.9v.9h-.9zM111.3,280.8h.9v.9h-.9zM111.8,280.9h.9v.9h-.9zM120.6,279.7h.9v.9h-.9zM112.4,289.6h.9v.9h-.9zM119.9,281.6h.9v.9h-.9zM103.0,279.6h.9v.9h-.9zM100.6,279.2h.9v.9h-.9z" fill="#95a1cf" fill-opacity="0.42"/>
<path d="M109.3,293.4h.9v.9h-.9z" fill="#7389bf" fill-opacity="0.55"/>
<rect x="98.20" y="247.20" width="53.60" height="53.60" fill="none" stroke="#231f20" stroke-width="0.9" />
<rect x="99.10" y="259.20" width="18.60" height="18.90" fill="none" stroke="#231f20" stroke-width="0.9" />
<rect x="118.10" y="259.20" width="27.20" height="18.90" fill="none" stroke="#231f20" stroke-width="0.9" />
<text x="103.00" y="255.80" font-size="6.78" fill="#231f20" stroke="#231f20" stroke-width="0.1" textLength="11.20" lengthAdjust="spacingAndGlyphs">24.3</text>
<text x="126.20" y="255.80" font-size="6.78" fill="#231f20" stroke="#231f20" stroke-width="0.1" textLength="11.20" lengthAdjust="spacingAndGlyphs">21.3</text>
<text x="94.80" y="254.20" font-size="6.0" text-anchor="end" fill="#231f20" stroke="#231f20" stroke-width="0.1">10<tspan font-size="3.6" dy="-2.4">5</tspan></text>
<text x="94.80" y="266.40" font-size="6.0" text-anchor="end" fill="#231f20" stroke="#231f20" stroke-width="0.1">10<tspan font-size="3.6" dy="-2.4">4</tspan></text>
<text x="94.80" y="280.20" font-size="6.0" text-anchor="end" fill="#231f20" stroke="#231f20" stroke-width="0.1">10<tspan font-size="3.6" dy="-2.4">3</tspan></text>
<text x="93.60" y="293.20" font-size="6.0" text-anchor="end" fill="#231f20" stroke="#231f20" stroke-width="0.1">0</text>
<line x1="97.00" y1="252.00" x2="98.20" y2="252.00" stroke="#231f20" stroke-width="0.6" />
<line x1="97.00" y1="264.20" x2="98.20" y2="264.20" stroke="#231f20" stroke-width="0.6" />
<line x1="97.00" y1="278.00" x2="98.20" y2="278.00" stroke="#231f20" stroke-width="0.6" />
<line x1="97.00" y1="291.00" x2="98.20" y2="291.00" stroke="#231f20" stroke-width="0.6" />
<text x="109.20" y="310.20" font-size="6.0" text-anchor="middle" fill="#231f20" stroke="#231f20" stroke-width="0.1">0</text>
<text x="121.80" y="310.20" font-size="6.0" text-anchor="middle" fill="#231f20" stroke="#231f20" stroke-width="0.1">10<tspan font-size="3.6" dy="-2.4">3</tspan></text>
<text x="135.20" y="310.20" font-size="6.0" text-anchor="middle" fill="#231f20" stroke="#231f20" stroke-width="0.1">10<tspan font-size="3.6" dy="-2.4">4</tspan></text>
<text x="147.80" y="310.20" font-size="6.0" text-anchor="middle" fill="#231f20" stroke="#231f20" stroke-width="0.1">10<tspan font-size="3.6" dy="-2.4">5</tspan></text>
<line x1="109.20" y1="300.80" x2="109.20" y2="302.00" stroke="#231f20" stroke-width="0.6" />
<line x1="117.80" y1="300.80" x2="117.80" y2="302.00" stroke="#231f20" stroke-width="0.6" />
<line x1="132.20" y1="300.80" x2="132.20" y2="302.00" stroke="#231f20" stroke-width="0.6" />
<line x1="145.80" y1="300.80" x2="145.80" y2="302.00" stroke="#231f20" stroke-width="0.6" />
<line x1="106.60" y1="301.80" x2="110.80" y2="301.80" stroke="#231f20" stroke-width="1.0" />
<text x="104.20" y="243.40" font-size="7.21" fill="#f7941d" stroke="#f7941d" stroke-width="0.08" textLength="41.60" lengthAdjust="spacingAndGlyphs"><tspan font-style="italic">Mx1</tspan>-Cre inv(3)</text>
<ellipse cx="178.3" cy="289.0" rx="3.7" ry="5.5" fill="url(#haze)" fill-opacity="0.43"/>
<ellipse cx="178.5" cy="287.6" rx="6.9" ry="9.7" fill="url(#haze)" fill-opacity="0.27"/>
<ellipse cx="178.1" cy="268.2" rx="5.1" ry="8.3" fill="url(#haze)" fill-opacity="0.29"/>
<ellipse cx="197.7" cy="290.7" rx="23.0" ry="5.5" fill="url(#haze)" fill-opacity="0.13"/>
<path d="M181.1,293.9h.9v.9h-.9zM183.9,289.2h.9v.9h-.9zM181.8,283.9h.9v.9h-.9zM176.4,293.9h.9v.9h-.9zM181.9,292.3h.9v.9h-.9zM177.3,279.0h.9v.9h-.9zM174.1,275.2h.9v.9h-.9zM173.3,286.5h.9v.9h-.9zM182.7,290.7h.9v.9h-.9zM175.9,280.8h.9v.9h-.9zM179.9,282.3h.9v.9h-.9zM183.7,287.6h.9v.9h-.9zM182.5,294.2h.9v.9h-.9zM175.2,279.9h.9v.9h-.9zM176.9,277.3h.9v.9h-.9zM175.0,294.9h.9v.9h-.9zM179.0,279.3h.9v.9h-.9zM181.3,283.6h.9v.9h-.9zM174.5,284.4h.9v.9h-.9zM175.7,298.3h.9v.9h-.9zM179.9,281.0h.9v.9h-.9zM181.3,293.4h.9v.9h-.9zM179.1,281.4h.9v.9h-.9zM178.6,296.0h.9v.9h-.9zM185.9,294.8h.9v.9h-.9zM174.6,294.6h.9v.9h-.9zM181.3,280.6h.9v.9h-.9zM186.0,284.0h.9v.9h-.9zM183.0,290.3h.9v.9h-.9zM175.0,280.8h.9v.9h-.9zM183.1,293.8h.9v.9h-.9zM175.3,277.8h.9v.9h-.9zM182.0,294.0h.9v.9h-.9zM175.1,293.9h.9v.9h-.9zM180.0,296.4h.9v.9h-.9zM183.4,284.2h.9v.9h-.9zM182.6,278.3h.9v.9h-.9zM175.4,294.8h.9v.9h-.9zM174.5,279.7h.9v.9h-.9zM180.0,294.4h.9v.9h-.9zM186.1,285.0h.9v.9h-.9zM181.6,284.3h.9v.9h-.9zM178.3,296.7h.9v.9h-.9zM172.7,289.2h.9v.9h-.9zM175.1,293.0h.9v.9h-.9zM180.6,282.7h.9v.9h-.9zM173.7,291.1h.9v.9h-.9zM181.6,282.0h.9v.9h-.9zM184.9,281.8h.9v.9h-.9zM183.1,280.9h.9v.9h-.9zM183.5,293.2h.9v.9h-.9zM183.3,281.2h.9v.9h-.9zM173.3,288.3h.9v.9h-.9zM181.2,284.2h.9v.9h-.9zM184.7,289.8h.9v.9h-.9zM180.5,296.6h.9v.9h-.9zM173.0,280.5h.9v.9h-.9zM177.0,281.6h.9v.9h-.9zM169.4,290.2h.9v.9h-.9zM174.8,285.5h.9v.9h-.9zM171.2,286.9h.9v.9h-.9zM183.7,276.9h.9v.9h-.9zM174.4,284.2h.9v.9h-.9zM182.5,284.4h.9v.9h-.9zM175.7,280.2h.9v.9h-.9zM178.1,295.5h.9v.9h-.9zM179.7,278.5h.9v.9h-.9zM182.4,282.9h.9v.9h-.9zM174.9,280.7h.9v.9h-.9zM176.8,279.3h.9v.9h-.9zM174.8,285.3h.9v.9h-.9zM183.7,281.7h.9v.9h-.9zM186.3,290.8h.9v.9h-.9zM170.2,287.6h.9v.9h-.9zM183.2,294.3h.9v.9h-.9zM172.6,284.4h.9v.9h-.9zM174.4,284.6h.9v.9h-.9zM183.8,290.5h.9v.9h-.9zM183.2,293.4h.9v.9h-.9zM183.8,289.0h.9v.9h-.9zM172.1,285.8h.9v.9h-.9zM184.3,289.9h.9v.9h-.9zM181.3,292.6h.9v.9h-.9zM182.9,285.4h.9v.9h-.9zM182.8,287.4h.9v.9h-.9zM172.3,294.9h.9v.9h-.9zM176.2,297.8h.9v.9h-.9zM183.1,287.2h.9v.9h-.9zM171.1,287.8h.9v.9h-.9zM185.5,297.6h.9v.9h-.9zM175.3,279.1h.9v.9h-.9zM186.3,285.5h.9v.9h-.9zM180.6,276.7h.9v.9h-.9zM176.7,295.0h.9v.9h-.9zM172.4,289.1h.9v.9h-.9zM178.6,295.5h.9v.9h-.9zM187.5,287.7h.9v.9h-.9zM171.2,288.8h.9v.9h-.9zM170.5,285.9h.9v.9h-.9zM178.4,295.3h.9v.9h-.9zM172.7,284.0h.9v.9h-.9zM172.4,280.9h.9v.9h-.9zM174.7,292.9h.9v.9h-.9zM174.0,281.6h.9v.9h-.9zM177.9,281.3h.9v.9h-.9zM173.9,280.9h.9v.9h-.9zM176.1,280.1h.9v.9h-.9zM178.8,295.8h.9v.9h-.9zM184.0,287.9h.9v.9h-.9zM174.5,285.0h.9v.9h-.9zM174.7,294.1h.9v.9h-.9zM175.0,280.4h.9v.9h-.9zM179.3,278.7h.9v.9h-.9zM173.5,287.5h.9v.9h-.9zM172.7,290.3h.9v.9h-.9zM182.8,292.1h.9v.9h-.9zM185.4,290.3h.9v.9h-.9zM180.7,278.2h.9v.9h-.9zM181.7,284.3h.9v.9h-.9zM184.0,286.4h.9v.9h-.9zM180.5,281.7h.9v.9h-.9zM171.8,287.5h.9v.9h-.9zM180.8,282.4h.9v.9h-.9zM182.9,284.8h.9v.9h-.9zM172.9,288.7h.9v.9h-.9zM173.4,289.5h.9v.9h-.9zM175.9,276.0h.9v.9h-.9zM169.8,283.3h.9v.9h-.9zM184.4,294.6h.9v.9h-.9zM171.6,283.6h.9v.9h-.9zM173.0,288.4h.9v.9h-.9zM173.9,283.0h.9v.9h-.9zM187.2,289.2h.9v.9h-.9zM182.9,295.6h.9v.9h-.9zM181.7,292.6h.9v.9h-.9zM173.6,265.8h.9v.9h-.9zM179.0,273.6h.9v.9h-.9zM180.2,271.2h.9v.9h-.9zM175.6,261.7h.9v.9h-.9zM181.8,265.5h.9v.9h-.9zM176.6,259.3h.9v.9h-.9zM175.4,275.7h.9v.9h-.9zM181.3,270.0h.9v.9h-.9zM179.7,273.3h.9v.9h-.9zM178.0,262.8h.9v.9h-.9zM179.6,274.8h.9v.9h-.9zM181.7,270.1h.9v.9h-.9zM176.2,263.6h.9v.9h-.9zM181.5,270.9h.9v.9h-.9zM176.2,273.1h.9v.9h-.9zM177.2,259.2h.9v.9h-.9zM175.7,263.5h.9v.9h-.9zM175.3,260.5h.9v.9h-.9zM181.2,260.4h.9v.9h-.9zM182.2,265.2h.9v.9h-.9zM174.3,264.8h.9v.9h-.9zM180.0,276.2h.9v.9h-.9zM182.0,266.0h.9v.9h-.9zM180.3,271.3h.9v.9h-.9zM181.0,263.5h.9v.9h-.9zM180.1,272.3h.9v.9h-.9zM173.3,274.9h.9v.9h-.9zM176.3,259.2h.9v.9h-.9zM178.7,261.5h.9v.9h-.9zM179.0,274.0h.9v.9h-.9zM181.2,271.8h.9v.9h-.9zM173.2,263.7h.9v.9h-.9zM181.8,266.8h.9v.9h-.9zM180.3,273.7h.9v.9h-.9zM180.6,262.1h.9v.9h-.9zM181.8,269.8h.9v.9h-.9zM178.2,278.5h.9v.9h-.9zM181.1,275.3h.9v.9h-.9zM174.4,266.3h.9v.9h-.9zM175.8,273.2h.9v.9h-.9zM179.4,279.8h.9v.9h-.9zM174.1,271.8h.9v.9h-.9zM179.4,273.5h.9v.9h-.9zM172.7,266.5h.9v.9h-.9zM180.2,274.4h.9v.9h-.9zM181.7,273.8h.9v.9h-.9zM180.8,263.4h.9v.9h-.9zM173.6,271.9h.9v.9h-.9zM179.8,262.9h.9v.9h-.9zM181.3,274.2h.9v.9h-.9zM176.5,260.3h.9v.9h-.9zM173.6,267.0h.9v.9h-.9zM173.5,266.5h.9v.9h-.9zM176.9,273.8h.9v.9h-.9zM173.7,265.0h.9v.9h-.9zM180.0,263.6h.9v.9h-.9zM174.2,271.2h.9v.9h-.9zM181.5,267.1h.9v.9h-.9zM175.5,260.9h.9v.9h-.9zM182.7,269.5h.9v.9h-.9zM181.3,265.1h.9v.9h-.9zM173.9,267.0h.9v.9h-.9zM175.8,263.7h.9v.9h-.9zM175.0,270.3h.9v.9h-.9zM174.2,261.3h.9v.9h-.9zM174.2,264.2h.9v.9h-.9zM173.8,273.9h.9v.9h-.9zM181.4,265.5h.9v.9h-.9zM182.2,272.2h.9v.9h-.9zM180.5,275.7h.9v.9h-.9zM181.4,272.4h.9v.9h-.9zM177.9,263.3h.9v.9h-.9zM178.9,273.4h.9v.9h-.9zM173.3,268.2h.9v.9h-.9zM177.0,273.4h.9v.9h-.9zM181.3,276.2h.9v.9h-.9zM175.2,278.0h.9v.9h-.9zM180.5,272.2h.9v.9h-.9zM180.2,262.1h.9v.9h-.9zM178.7,259.6h.9v.9h-.9zM174.8,270.6h.9v.9h-.9zM180.4,262.7h.9v.9h-.9zM181.6,271.5h.9v.9h-.9zM183.4,267.6h.9v.9h-.9zM174.0,264.8h.9v.9h-.9zM174.9,267.8h.9v.9h-.9zM180.6,278.3h.9v.9h-.9zM178.0,261.6h.9v.9h-.9zM182.9,262.2h.9v.9h-.9zM173.6,269.5h.9v.9h-.9zM178.5,276.1h.9v.9h-.9zM181.5,269.8h.9v.9h-.9zM177.2,273.2h.9v.9h-.9zM175.1,270.3h.9v.9h-.9zM182.6,267.7h.9v.9h-.9zM175.4,273.1h.9v.9h-.9zM178.1,262.4h.9v.9h-.9zM177.8,272.8h.9v.9h-.9zM174.1,271.3h.9v.9h-.9zM178.2,274.4h.9v.9h-.9zM180.1,274.7h.9v.9h-.9zM174.6,267.7h.9v.9h-.9zM177.2,262.7h.9v.9h-.9zM178.0,256.5h.9v.9h-.9zM181.8,263.5h.9v.9h-.9zM173.3,266.9h.9v.9h-.9zM181.0,263.0h.9v.9h-.9zM176.4,273.9h.9v.9h-.9zM175.3,272.9h.9v.9h-.9zM178.2,263.1h.9v.9h-.9zM180.5,262.8h.9v.9h-.9zM174.4,269.9h.9v.9h-.9zM175.4,261.8h.9v.9h-.9zM178.7,262.1h.9v.9h-.9zM198.6,290.0h.9v.9h-.9zM211.1,291.0h.9v.9h-.9zM214.2,290.7h.9v.9h-.9zM188.7,292.8h.9v.9h-.9zM209.6,288.7h.9v.9h-.9zM198.5,289.1h.9v.9h-.9zM189.0,291.8h.9v.9h-.9zM199.7,293.3h.9v.9h-.9zM191.5,292.5h.9v.9h-.9zM209.5,291.1h.9v.9h-.9zM192.5,292.0h.9v.9h-.9zM207.1,287.8h.9v.9h-.9zM199.8,295.5h.9v.9h-.9zM198.8,289.9h.9v.9h-.9zM201.1,291.2h.9v.9h-.9zM211.5,288.7h.9v.9h-.9zM184.2,289.6h.9v.9h-.9zM209.5,290.2h.9v.9h-.9zM204.3,291.1h.9v.9h-.9zM198.2,294.0h.9v.9h-.9zM195.7,294.1h.9v.9h-.9zM213.7,292.0h.9v.9h-.9zM201.8,291.8h.9v.9h-.9zM197.8,290.3h.9v.9h-.9zM208.4,292.7h.9v.9h-.9zM198.1,290.6h.9v.9h-.9zM206.5,293.2h.9v.9h-.9zM192.6,294.8h.9v.9h-.9zM194.3,292.4h.9v.9h-.9zM196.4,290.2h.9v.9h-.9zM202.6,289.8h.9v.9h-.9zM195.8,286.1h.9v.9h-.9zM205.0,287.9h.9v.9h-.9zM206.0,292.1h.9v.9h-.9zM203.8,294.2h.9v.9h-.9zM203.8,290.8h.9v.9h-.9zM192.6,287.6h.9v.9h-.9zM207.8,287.4h.9v.9h-.9zM205.8,288.5h.9v.9h-.9zM199.5,291.3h.9v.9h-.9zM194.7,295.8h.9v.9h-.9zM191.6,292.1h.9v.9h-.9zM205.2,294.3h.9v.9h-.9zM197.8,292.3h.9v.9h-.9zM193.5,287.1h.9v.9h-.9zM193.6,294.8h.9v.9h-.9zM192.2,288.4h.9v.9h-.9zM210.9,289.2h.9v.9h-.9zM200.0,291.0h.9v.9h-.9zM194.4,287.5h.9v.9h-.9zM213.3,293.7h.9v.9h-.9zM201.7,291.7h.9v.9h-.9zM194.8,294.0h.9v.9h-.9zM189.0,285.6h.9v.9h-.9zM197.5,291.4h.9v.9h-.9zM200.1,292.1h.9v.9h-.9zM203.5,288.7h.9v.9h-.9zM187.4,292.1h.9v.9h-.9zM201.5,290.0h.9v.9h-.9zM192.7,291.8h.9v.9h-.9zM199.6,296.0h.9v.9h-.9zM205.1,292.0h.9v.9h-.9zM213.8,286.9h.9v.9h-.9zM194.4,288.4h.9v.9h-.9zM219.9,290.7h.9v.9h-.9zM187.6,292.0h.9v.9h-.9zM209.8,286.9h.9v.9h-.9zM203.2,287.8h.9v.9h-.9zM209.2,291.7h.9v.9h-.9zM198.8,288.0h.9v.9h-.9zM182.8,288.1h.9v.9h-.9zM197.0,293.6h.9v.9h-.9zM216.2,286.2h.9v.9h-.9zM199.1,290.5h.9v.9h-.9zM186.5,288.2h.9v.9h-.9zM207.8,286.4h.9v.9h-.9zM187.4,291.0h.9v.9h-.9zM213.4,293.2h.9v.9h-.9zM197.5,285.9h.9v.9h-.9zM192.8,292.1h.9v.9h-.9zM190.1,293.8h.9v.9h-.9zM197.7,290.8h.9v.9h-.9zM189.2,291.6h.9v.9h-.9zM186.9,289.5h.9v.9h-.9zM203.2,290.6h.9v.9h-.9zM191.3,288.3h.9v.9h-.9zM186.1,296.2h.9v.9h-.9zM194.2,289.8h.9v.9h-.9zM188.3,290.9h.9v.9h-.9zM193.6,291.4h.9v.9h-.9zM189.8,291.3h.9v.9h-.9zM197.5,295.0h.9v.9h-.9zM193.5,293.1h.9v.9h-.9zM201.6,291.7h.9v.9h-.9zM200.8,290.5h.9v.9h-.9zM193.1,289.8h.9v.9h-.9zM184.6,288.7h.9v.9h-.9zM190.2,291.4h.9v.9h-.9zM191.4,295.6h.9v.9h-.9zM194.5,286.8h.9v.9h-.9zM190.2,287.7h.9v.9h-.9zM193.3,295.7h.9v.9h-.9zM206.1,287.9h.9v.9h-.9zM214.3,290.0h.9v.9h-.9zM210.9,295.1h.9v.9h-.9zM189.5,286.1h.9v.9h-.9zM195.4,290.8h.9v.9h-.9zM192.0,293.8h.9v.9h-.9zM199.6,291.2h.9v.9h-.9zM205.8,290.1h.9v.9h-.9zM193.8,289.3h.9v.9h-.9zM202.7,294.8h.9v.9h-.9zM198.5,293.8h.9v.9h-.9zM189.2,291.3h.9v.9h-.9zM212.4,284.8h.9v.9h-.9zM190.4,289.4h.9v.9h-.9zM213.5,292.5h.9v.9h-.9zM213.0,292.2h.9v.9h-.9zM203.0,292.4h.9v.9h-.9zM200.1,286.7h.9v.9h-.9zM202.1,293.8h.9v.9h-.9zM189.6,290.0h.9v.9h-.9zM207.6,265.7h.9v.9h-.9zM198.0,270.0h.9v.9h-.9zM189.9,266.8h.9v.9h-.9zM184.0,265.3h.9v.9h-.9zM184.0,269.0h.9v.9h-.9zM207.8,266.1h.9v.9h-.9zM184.0,271.7h.9v.9h-.9zM205.0,268.9h.9v.9h-.9zM198.0,263.8h.9v.9h-.9zM206.8,272.9h.9v.9h-.9zM206.5,277.1h.9v.9h-.9zM202.0,263.6h.9v.9h-.9zM198.0,268.9h.9v.9h-.9zM199.8,259.1h.9v.9h-.9zM194.1,273.6h.9v.9h-.9zM207.8,271.7h.9v.9h-.9zM207.2,270.0h.9v.9h-.9zM183.9,268.1h.9v.9h-.9zM191.8,256.9h.9v.9h-.9zM188.3,260.8h.9v.9h-.9zM203.9,272.0h.9v.9h-.9zM184.7,258.6h.9v.9h-.9zM192.2,278.2h.9v.9h-.9zM191.0,272.1h.9v.9h-.9zM202.4,264.3h.9v.9h-.9zM189.3,264.2h.9v.9h-.9zM199.0,265.4h.9v.9h-.9zM211.0,272.6h.9v.9h-.9zM193.6,268.0h.9v.9h-.9zM213.3,266.6h.9v.9h-.9zM189.1,268.0h.9v.9h-.9zM195.3,261.1h.9v.9h-.9zM201.8,264.4h.9v.9h-.9zM200.7,258.0h.9v.9h-.9zM193.3,264.7h.9v.9h-.9zM199.5,272.0h.9v.9h-.9zM204.2,273.1h.9v.9h-.9zM200.4,265.7h.9v.9h-.9zM183.2,272.3h.9v.9h-.9zM195.1,269.5h.9v.9h-.9zM194.5,270.5h.9v.9h-.9zM203.5,267.4h.9v.9h-.9zM198.8,267.4h.9v.9h-.9zM187.9,274.6h.9v.9h-.9zM201.5,272.6h.9v.9h-.9zM194.3,269.6h.9v.9h-.9zM185.7,279.9h.9v.9h-.9zM192.7,269.8h.9v.9h-.9zM188.4,276.5h.9v.9h-.9zM169.3,286.9h.9v.9h-.9zM195.1,286.6h.9v.9h-.9zM183.1,290.3h.9v.9h-.9zM208.6,274.2h.9v.9h-.9zM196.8,270.4h.9v.9h-.9zM182.9,289.9h.9v.9h-.9zM193.6,276.2h.9v.9h-.9zM187.5,285.5h.9v.9h-.9zM195.4,291.2h.9v.9h-.9zM199.4,279.1h.9v.9h-.9zM183.8,275.7h.9v.9h-.9zM195.8,283.4h.9v.9h-.9zM183.9,293.7h.9v.9h-.9zM197.3,286.4h.9v.9h-.9zM194.5,291.7h.9v.9h-.9zM211.4,289.0h.9v.9h-.9zM171.1,289.2h.9v.9h-.9zM202.5,263.7h.9v.9h-.9zM212.2,292.9h.9v.9h-.9zM193.2,281.8h.9v.9h-.9zM184.6,296.7h.9v.9h-.9zM213.5,285.1h.9v.9h-.9zM191.2,282.9h.9v.9h-.9zM201.9,286.2h.9v.9h-.9zM192.7,281.1h.9v.9h-.9zM182.0,276.6h.9v.9h-.9zM201.8,273.5h.9v.9h-.9zM200.2,282.1h.9v.9h-.9zM188.5,286.7h.9v.9h-.9zM193.7,287.9h.9v.9h-.9zM186.7,277.3h.9v.9h-.9zM198.6,272.4h.9v.9h-.9zM199.2,289.5h.9v.9h-.9zM202.3,271.6h.9v.9h-.9z" fill="#95a1cf" fill-opacity="0.42"/>
<path d="M176.3,292.4h.9v.9h-.9zM176.7,292.6h.9v.9h-.9zM176.4,284.1h.9v.9h-.9zM177.0,294.8h.9v.9h-.9zM175.0,290.3h.9v.9h-.9zM176.6,284.3h.9v.9h-.9zM179.3,282.1h.9v.9h-.9zM177.0,295.0h.9v.9h-.9zM179.3,294.4h.9v.9h-.9zM175.0,287.3h.9v.9h-.9zM175.0,291.7h.9v.9h-.9zM177.6,282.3h.9v.9h-.9zM178.1,294.3h.9v.9h-.9zM180.9,284.4h.9v.9h-.9zM177.8,283.0h.9v.9h-.9zM175.9,293.4h.9v.9h-.9zM177.3,295.1h.9v.9h-.9zM181.5,291.6h.9v.9h-.9zM178.4,283.2h.9v.9h-.9zM180.8,284.4h.9v.9h-.9zM182.2,290.9h.9v.9h-.9zM177.2,293.8h.9v.9h-.9zM175.4,283.6h.9v.9h-.9zM180.2,284.2h.9v.9h-.9zM180.6,284.1h.9v.9h-.9zM174.8,290.3h.9v.9h-.9zM174.3,292.0h.9v.9h-.9zM178.1,283.1h.9v.9h-.9zM181.1,283.9h.9v.9h-.9zM181.9,285.1h.9v.9h-.9zM181.3,286.3h.9v.9h-.9zM178.8,295.0h.9v.9h-.9zM181.6,285.0h.9v.9h-.9zM178.1,282.1h.9v.9h-.9zM174.2,289.7h.9v.9h-.9zM175.7,283.2h.9v.9h-.9zM175.6,282.4h.9v.9h-.9zM178.4,282.6h.9v.9h-.9zM177.2,282.8h.9v.9h-.9zM174.9,290.7h.9v.9h-.9zM180.8,283.8h.9v.9h-.9zM176.2,282.3h.9v.9h-.9zM176.5,283.9h.9v.9h-.9zM175.6,281.9h.9v.9h-.9zM181.7,286.4h.9v.9h-.9zM178.5,293.9h.9v.9h-.9zM176.4,283.6h.9v.9h-.9zM180.8,284.3h.9v.9h-.9zM176.7,284.6h.9v.9h-.9zM181.4,291.6h.9v.9h-.9zM175.0,292.1h.9v.9h-.9zM175.6,281.8h.9v.9h-.9zM180.0,283.3h.9v.9h-.9zM181.9,287.5h.9v.9h-.9zM176.0,292.5h.9v.9h-.9zM175.5,284.6h.9v.9h-.9zM175.3,284.4h.9v.9h-.9zM182.4,291.5h.9v.9h-.9zM179.0,283.1h.9v.9h-.9zM179.7,294.4h.9v.9h-.9zM176.9,282.5h.9v.9h-.9zM178.0,294.8h.9v.9h-.9zM175.8,282.8h.9v.9h-.9zM178.1,282.3h.9v.9h-.9zM178.8,282.6h.9v.9h-.9zM174.2,290.4h.9v.9h-.9zM178.5,282.3h.9v.9h-.9zM181.1,284.7h.9v.9h-.9zM179.7,264.6h.9v.9h-.9zM180.3,265.9h.9v.9h-.9zM178.7,264.7h.9v.9h-.9zM177.1,265.0h.9v.9h-.9zM178.8,265.0h.9v.9h-.9zM179.9,268.3h.9v.9h-.9zM175.7,271.3h.9v.9h-.9zM180.3,269.5h.9v.9h-.9zM178.1,264.9h.9v.9h-.9zM176.3,270.5h.9v.9h-.9zM180.4,270.9h.9v.9h-.9zM175.5,269.8h.9v.9h-.9zM175.5,269.8h.9v.9h-.9zM179.4,272.0h.9v.9h-.9zM175.8,271.2h.9v.9h-.9zM175.9,266.5h.9v.9h-.9zM180.2,265.7h.9v.9h-.9zM180.6,267.4h.9v.9h-.9zM178.2,264.1h.9v.9h-.9zM177.3,264.8h.9v.9h-.9zM177.4,271.7h.9v.9h-.9zM176.8,271.4h.9v.9h-.9zM179.9,267.1h.9v.9h-.9zM177.3,272.6h.9v.9h-.9zM179.1,263.2h.9v.9h-.9zM180.4,269.5h.9v.9h-.9zM180.1,270.6h.9v.9h-.9zM176.6,271.2h.9v.9h-.9zM176.5,266.1h.9v.9h-.9zM176.8,271.2h.9v.9h-.9zM178.6,265.1h.9v.9h-.9zM178.4,270.3h.9v.9h-.9zM178.0,264.8h.9v.9h-.9zM175.3,272.4h.9v.9h-.9zM177.0,264.4h.9v.9h-.9zM177.0,271.4h.9v.9h-.9zM177.0,264.0h.9v.9h-.9zM179.7,266.4h.9v.9h-.9zM176.0,270.8h.9v.9h-.9zM178.9,269.9h.9v.9h-.9zM177.3,264.8h.9v.9h-.9zM180.1,267.6h.9v.9h-.9zM179.7,272.4h.9v.9h-.9zM177.0,272.2h.9v.9h-.9zM179.8,265.6h.9v.9h-.9zM180.0,271.2h.9v.9h-.9zM176.0,265.8h.9v.9h-.9zM180.9,269.8h.9v.9h-.9zM177.0,265.0h.9v.9h-.9zM181.1,267.3h.9v.9h-.9zM175.9,266.6h.9v.9h-.9zM179.3,263.9h.9v.9h-.9zM179.5,264.1h.9v.9h-.9zM178.6,272.5h.9v.9h-.9zM175.3,266.3h.9v.9h-.9zM179.2,270.9h.9v.9h-.9zM176.5,270.2h.9v.9h-.9zM180.2,265.9h.9v.9h-.9zM175.9,263.9h.9v.9h-.9zM177.8,272.2h.9v.9h-.9zM175.0,268.9h.9v.9h-.9zM179.6,262.9h.9v.9h-.9zM176.6,266.5h.9v.9h-.9zM176.4,265.9h.9v.9h-.9zM178.5,270.6h.9v.9h-.9zM179.6,270.2h.9v.9h-.9zM178.3,263.0h.9v.9h-.9zM180.7,264.2h.9v.9h-.9zM173.9,268.3h.9v.9h-.9zM179.9,269.9h.9v.9h-.9zM175.9,271.1h.9v.9h-.9zM175.2,265.3h.9v.9h-.9zM177.3,264.4h.9v.9h-.9zM179.1,264.7h.9v.9h-.9zM176.5,264.5h.9v.9h-.9zM180.8,267.4h.9v.9h-.9zM179.1,264.4h.9v.9h-.9zM180.1,266.0h.9v.9h-.9zM178.7,270.5h.9v.9h-.9zM181.1,270.0h.9v.9h-.9zM178.4,270.1h.9v.9h-.9zM176.3,272.1h.9v.9h-.9zM176.1,266.3h.9v.9h-.9zM176.2,270.6h.9v.9h-.9zM178.8,263.3h.9v.9h-.9zM179.5,270.8h.9v.9h-.9zM178.4,269.9h.9v.9h-.9zM179.9,266.9h.9v.9h-.9zM180.2,266.7h.9v.9h-.9zM178.5,272.2h.9v.9h-.9zM175.5,266.3h.9v.9h-.9zM182.6,290.8h.9v.9h-.9zM173.9,289.9h.9v.9h-.9zM180.0,283.2h.9v.9h-.9zM181.7,286.3h.9v.9h-.9zM182.3,285.3h.9v.9h-.9z" fill="#7389bf" fill-opacity="0.55"/>
<path d="M178.2,292.6h.9v.9h-.9zM180.3,292.9h.9v.9h-.9zM178.2,293.7h.9v.9h-.9zM177.6,283.5h.9v.9h-.9zM175.5,291.5h.9v.9h-.9zM180.5,286.2h.9v.9h-.9zM179.2,293.5h.9v.9h-.9zM176.5,291.7h.9v.9h-.9zM178.8,292.2h.9v.9h-.9zM176.7,292.0h.9v.9h-.9zM178.0,292.2h.9v.9h-.9zM174.1,289.1h.9v.9h-.9zM178.2,292.6h.9v.9h-.9zM176.8,293.6h.9v.9h-.9zM178.9,292.7h.9v.9h-.9zM174.7,288.3h.9v.9h-.9zM176.1,285.8h.9v.9h-.9zM177.6,284.3h.9v.9h-.9zM181.2,289.0h.9v.9h-.9zM177.6,292.9h.9v.9h-.9zM178.0,293.2h.9v.9h-.9zM178.4,293.7h.9v.9h-.9zM181.2,289.9h.9v.9h-.9zM178.9,292.9h.9v.9h-.9zM175.8,291.3h.9v.9h-.9zM177.8,292.7h.9v.9h-.9zM180.0,293.0h.9v.9h-.9zM176.1,290.8h.9v.9h-.9zM176.6,292.0h.9v.9h-.9zM175.7,284.8h.9v.9h-.9zM175.8,291.7h.9v.9h-.9zM174.9,289.0h.9v.9h-.9zM175.9,291.5h.9v.9h-.9zM175.6,291.8h.9v.9h-.9zM181.0,293.5h.9v.9h-.9zM181.2,290.0h.9v.9h-.9zM179.1,292.7h.9v.9h-.9zM174.2,289.0h.9v.9h-.9zM180.0,292.4h.9v.9h-.9zM176.9,283.2h.9v.9h-.9zM182.6,288.6h.9v.9h-.9zM181.1,292.2h.9v.9h-.9zM177.9,292.8h.9v.9h-.9zM175.7,285.5h.9v.9h-.9zM177.7,284.5h.9v.9h-.9zM175.7,292.0h.9v.9h-.9zM180.2,292.5h.9v.9h-.9zM179.9,292.8h.9v.9h-.9zM174.0,288.7h.9v.9h-.9zM177.4,292.8h.9v.9h-.9zM181.4,289.3h.9v.9h-.9zM176.1,292.0h.9v.9h-.9zM174.9,287.9h.9v.9h-.9zM179.6,292.8h.9v.9h-.9zM181.8,290.5h.9v.9h-.9zM176.7,292.2h.9v.9h-.9zM174.5,288.3h.9v.9h-.9zM175.0,288.2h.9v.9h-.9zM178.5,283.8h.9v.9h-.9zM181.3,289.6h.9v.9h-.9zM179.5,292.8h.9v.9h-.9zM181.8,288.2h.9v.9h-.9zM177.2,284.2h.9v.9h-.9zM176.0,286.2h.9v.9h-.9zM182.1,290.6h.9v.9h-.9zM176.2,285.6h.9v.9h-.9zM179.5,293.0h.9v.9h-.9zM182.4,289.6h.9v.9h-.9zM173.8,288.9h.9v.9h-.9zM177.2,284.6h.9v.9h-.9zM181.6,290.6h.9v.9h-.9zM175.2,285.7h.9v.9h-.9zM179.3,292.8h.9v.9h-.9zM176.1,291.1h.9v.9h-.9zM180.9,285.6h.9v.9h-.9zM181.7,289.1h.9v.9h-.9zM176.4,286.0h.9v.9h-.9zM178.4,292.4h.9v.9h-.9zM173.8,288.3h.9v.9h-.9zM178.2,284.2h.9v.9h-.9zM181.0,292.3h.9v.9h-.9zM176.1,292.1h.9v.9h-.9zM179.3,283.8h.9v.9h-.9zM179.4,292.4h.9v.9h-.9zM182.3,288.0h.9v.9h-.9zM174.8,288.3h.9v.9h-.9zM176.0,286.1h.9v.9h-.9zM178.1,284.6h.9v.9h-.9zM179.4,284.3h.9v.9h-.9zM176.2,285.7h.9v.9h-.9zM174.3,289.1h.9v.9h-.9zM182.6,288.1h.9v.9h-.9zM175.3,291.2h.9v.9h-.9zM176.3,291.0h.9v.9h-.9zM178.3,284.7h.9v.9h-.9zM180.5,284.7h.9v.9h-.9zM182.4,289.2h.9v.9h-.9zM177.1,292.8h.9v.9h-.9zM175.9,285.6h.9v.9h-.9zM180.8,285.1h.9v.9h-.9zM181.1,292.9h.9v.9h-.9zM179.5,292.9h.9v.9h-.9zM177.3,284.5h.9v.9h-.9zM180.2,293.5h.9v.9h-.9zM182.3,290.5h.9v.9h-.9zM179.2,293.1h.9v.9h-.9zM177.1,284.2h.9v.9h-.9zM177.7,293.4h.9v.9h-.9zM178.1,269.4h.9v.9h-.9zM178.7,269.1h.9v.9h-.9zM179.1,268.5h.9v.9h-.9zM177.8,267.3h.9v.9h-.9zM176.0,268.6h.9v.9h-.9zM177.7,268.5h.9v.9h-.9zM177.1,269.3h.9v.9h-.9zM178.2,268.0h.9v.9h-.9zM175.8,268.9h.9v.9h-.9zM179.6,267.1h.9v.9h-.9zM176.0,267.9h.9v.9h-.9zM178.9,265.5h.9v.9h-.9zM179.2,266.0h.9v.9h-.9zM175.9,267.5h.9v.9h-.9zM176.8,268.3h.9v.9h-.9zM179.0,265.8h.9v.9h-.9zM177.4,265.4h.9v.9h-.9zM179.2,265.2h.9v.9h-.9zM177.0,270.6h.9v.9h-.9zM178.4,266.5h.9v.9h-.9zM178.1,266.1h.9v.9h-.9zM177.4,268.8h.9v.9h-.9zM176.6,269.6h.9v.9h-.9zM178.5,267.0h.9v.9h-.9zM178.3,266.5h.9v.9h-.9zM177.5,265.4h.9v.9h-.9zM179.2,265.3h.9v.9h-.9zM177.1,270.0h.9v.9h-.9zM176.5,269.1h.9v.9h-.9zM178.0,270.3h.9v.9h-.9zM175.9,268.8h.9v.9h-.9zM177.8,266.1h.9v.9h-.9zM178.6,269.4h.9v.9h-.9zM176.2,267.3h.9v.9h-.9zM179.0,266.0h.9v.9h-.9zM178.6,265.9h.9v.9h-.9zM179.1,266.8h.9v.9h-.9zM176.1,268.0h.9v.9h-.9zM176.4,269.3h.9v.9h-.9zM179.5,269.7h.9v.9h-.9zM178.5,266.2h.9v.9h-.9zM176.6,266.7h.9v.9h-.9zM178.7,265.3h.9v.9h-.9zM175.3,268.9h.9v.9h-.9zM176.8,266.1h.9v.9h-.9zM177.5,265.8h.9v.9h-.9zM177.6,268.4h.9v.9h-.9zM177.9,266.0h.9v.9h-.9zM176.4,269.3h.9v.9h-.9zM178.2,269.6h.9v.9h-.9zM175.9,268.3h.9v.9h-.9zM177.7,269.1h.9v.9h-.9zM178.3,269.1h.9v.9h-.9zM177.5,270.0h.9v.9h-.9zM178.3,267.3h.9v.9h-.9zM176.7,265.7h.9v.9h-.9zM177.2,266.7h.9v.9h-.9zM177.9,267.3h.9v.9h-.9zM177.5,270.1h.9v.9h-.9zM178.5,268.1h.9v.9h-.9zM179.5,267.1h.9v.9h-.9zM178.9,266.9h.9v.9h-.9zM176.6,269.1h.9v.9h-.9zM176.7,266.7h.9v.9h-.9zM179.2,269.0h.9v.9h-.9zM179.2,267.9h.9v.9h-.9zM177.6,271.0h.9v.9h-.9zM177.2,269.4h.9v.9h-.9zM178.5,265.8h.9v.9h-.9zM175.8,266.7h.9v.9h-.9zM176.6,268.9h.9v.9h-.9zM177.6,265.7h.9v.9h-.9zM177.8,269.3h.9v.9h-.9zM178.6,268.5h.9v.9h-.9zM178.0,267.0h.9v.9h-.9zM176.0,267.9h.9v.9h-.9zM175.6,269.7h.9v.9h-.9zM177.8,265.6h.9v.9h-.9zM176.6,267.2h.9v.9h-.9zM178.8,267.3h.9v.9h-.9zM178.7,267.8h.9v.9h-.9zM176.3,268.9h.9v.9h-.9zM176.6,268.4h.9v.9h-.9zM177.1,270.0h.9v.9h-.9zM175.9,269.4h.9v.9h-.9zM177.5,270.7h.9v.9h-.9zM177.1,268.3h.9v.9h-.9zM176.8,265.7h.9v.9h-.9zM179.4,265.9h.9v.9h-.9zM176.6,267.0h.9v.9h-.9zM179.3,267.4h.9v.9h-.9zM176.7,268.5h.9v.9h-.9zM178.0,267.4h.9v.9h-.9zM175.6,267.1h.9v.9h-.9zM177.7,267.3h.9v.9h-.9zM181.1,293.3h.9v.9h-.9zM176.1,291.2h.9v.9h-.9zM181.3,289.4h.9v.9h-.9zM179.4,265.4h.9v.9h-.9zM176.9,266.0h.9v.9h-.9zM178.9,268.0h.9v.9h-.9z" fill="#6fa098" fill-opacity="0.7"/>
<path d="M177.0,284.7h.9v.9h-.9zM177.8,291.5h.9v.9h-.9zM179.4,286.2h.9v.9h-.9zM179.4,285.0h.9v.9h-.9zM179.5,285.5h.9v.9h-.9zM181.0,287.7h.9v.9h-.9zM175.6,289.3h.9v.9h-.9zM177.2,290.9h.9v.9h-.9zM179.5,285.1h.9v.9h-.9zM180.7,288.7h.9v.9h-.9zM175.8,287.7h.9v.9h-.9zM179.9,291.7h.9v.9h-.9zM178.9,291.8h.9v.9h-.9zM178.3,291.7h.9v.9h-.9zM179.6,291.0h.9v.9h-.9zM178.4,290.8h.9v.9h-.9zM178.8,291.2h.9v.9h-.9zM180.4,290.5h.9v.9h-.9zM179.8,288.3h.9v.9h-.9zM179.4,284.7h.9v.9h-.9zM176.3,286.7h.9v.9h-.9zM176.4,287.4h.9v.9h-.9zM179.5,292.1h.9v.9h-.9zM180.4,290.5h.9v.9h-.9zM176.4,288.0h.9v.9h-.9zM180.0,289.6h.9v.9h-.9zM179.9,290.3h.9v.9h-.9zM179.7,289.1h.9v.9h-.9zM176.5,288.7h.9v.9h-.9zM180.2,289.6h.9v.9h-.9zM180.5,286.9h.9v.9h-.9zM178.3,291.0h.9v.9h-.9zM178.7,291.1h.9v.9h-.9zM179.9,289.6h.9v.9h-.9zM180.6,291.1h.9v.9h-.9zM176.3,289.4h.9v.9h-.9zM177.6,290.7h.9v.9h-.9zM177.8,291.2h.9v.9h-.9zM177.2,291.0h.9v.9h-.9zM180.2,289.8h.9v.9h-.9zM180.3,292.1h.9v.9h-.9zM176.4,290.1h.9v.9h-.9zM179.6,291.3h.9v.9h-.9zM176.3,290.5h.9v.9h-.9zM179.6,285.7h.9v.9h-.9zM180.1,288.9h.9v.9h-.9zM181.0,288.8h.9v.9h-.9zM177.0,290.9h.9v.9h-.9zM179.1,291.9h.9v.9h-.9zM179.7,287.1h.9v.9h-.9zM175.3,288.4h.9v.9h-.9zM180.1,289.9h.9v.9h-.9zM176.1,289.3h.9v.9h-.9zM178.4,291.9h.9v.9h-.9zM180.0,289.2h.9v.9h-.9zM180.6,287.0h.9v.9h-.9zM181.2,292.1h.9v.9h-.9zM181.0,287.2h.9v.9h-.9zM179.5,285.8h.9v.9h-.9zM177.9,285.5h.9v.9h-.9zM180.0,291.9h.9v.9h-.9zM175.5,288.7h.9v.9h-.9zM179.9,287.9h.9v.9h-.9zM179.9,290.3h.9v.9h-.9zM175.9,287.4h.9v.9h-.9zM179.7,290.0h.9v.9h-.9zM180.8,289.4h.9v.9h-.9zM175.3,287.0h.9v.9h-.9zM176.9,285.8h.9v.9h-.9zM177.4,284.9h.9v.9h-.9zM180.4,290.1h.9v.9h-.9zM176.4,288.7h.9v.9h-.9zM177.9,292.1h.9v.9h-.9zM180.2,291.0h.9v.9h-.9zM177.7,286.0h.9v.9h-.9zM178.5,291.1h.9v.9h-.9zM180.6,291.5h.9v.9h-.9zM180.2,289.0h.9v.9h-.9zM178.2,285.9h.9v.9h-.9zM179.0,285.9h.9v.9h-.9zM175.5,287.6h.9v.9h-.9zM181.1,289.5h.9v.9h-.9zM177.4,291.1h.9v.9h-.9zM177.8,292.0h.9v.9h-.9zM176.6,287.3h.9v.9h-.9zM175.7,288.1h.9v.9h-.9zM177.8,285.1h.9v.9h-.9zM179.9,287.1h.9v.9h-.9zM178.4,291.6h.9v.9h-.9zM179.7,289.6h.9v.9h-.9zM178.1,285.9h.9v.9h-.9zM177.9,285.7h.9v.9h-.9zM180.1,287.9h.9v.9h-.9zM179.0,285.7h.9v.9h-.9zM176.6,287.2h.9v.9h-.9zM177.3,285.6h.9v.9h-.9zM179.9,290.0h.9v.9h-.9zM176.7,287.4h.9v.9h-.9zM176.8,285.5h.9v.9h-.9zM177.3,291.9h.9v.9h-.9zM178.5,285.6h.9v.9h-.9zM176.4,288.7h.9v.9h-.9zM176.5,288.3h.9v.9h-.9zM178.7,292.1h.9v.9h-.9zM180.2,286.9h.9v.9h-.9zM176.9,285.7h.9v.9h-.9zM179.8,290.8h.9v.9h-.9zM179.9,286.4h.9v.9h-.9zM176.5,287.3h.9v.9h-.9zM180.5,288.6h.9v.9h-.9zM178.4,284.9h.9v.9h-.9zM180.1,289.4h.9v.9h-.9zM175.4,288.5h.9v.9h-.9zM176.2,290.0h.9v.9h-.9zM175.4,290.2h.9v.9h-.9zM179.8,286.9h.9v.9h-.9zM179.4,286.1h.9v.9h-.9zM178.2,285.5h.9v.9h-.9zM175.8,289.1h.9v.9h-.9zM179.4,290.8h.9v.9h-.9zM179.8,290.0h.9v.9h-.9zM178.4,291.1h.9v.9h-.9zM175.8,288.5h.9v.9h-.9zM176.1,288.8h.9v.9h-.9zM176.2,289.5h.9v.9h-.9zM180.3,289.0h.9v.9h-.9zM177.7,291.9h.9v.9h-.9zM176.1,286.5h.9v.9h-.9zM177.8,291.0h.9v.9h-.9zM180.9,290.0h.9v.9h-.9zM180.8,286.5h.9v.9h-.9zM180.2,288.8h.9v.9h-.9zM176.2,288.2h.9v.9h-.9zM180.6,286.5h.9v.9h-.9zM176.7,287.3h.9v.9h-.9zM176.4,290.2h.9v.9h-.9zM175.5,288.6h.9v.9h-.9zM179.5,285.6h.9v.9h-.9zM177.4,285.8h.9v.9h-.9zM175.7,287.3h.9v.9h-.9zM175.8,289.9h.9v.9h-.9zM180.5,288.4h.9v.9h-.9zM178.7,292.1h.9v.9h-.9zM175.2,286.6h.9v.9h-.9zM176.2,290.1h.9v.9h-.9zM175.4,288.7h.9v.9h-.9zM176.5,286.6h.9v.9h-.9zM181.1,287.2h.9v.9h-.9zM177.0,286.0h.9v.9h-.9zM180.0,292.1h.9v.9h-.9zM177.2,291.8h.9v.9h-.9zM180.7,288.6h.9v.9h-.9zM175.3,290.3h.9v.9h-.9zM180.4,289.4h.9v.9h-.9zM180.1,286.9h.9v.9h-.9zM178.8,291.0h.9v.9h-.9zM179.9,286.7h.9v.9h-.9zM176.5,286.8h.9v.9h-.9zM178.4,285.8h.9v.9h-.9zM176.1,287.8h.9v.9h-.9zM180.1,286.7h.9v.9h-.9zM179.1,285.7h.9v.9h-.9zM180.9,286.9h.9v.9h-.9zM176.7,287.5h.9v.9h-.9zM177.8,285.4h.9v.9h-.9zM178.8,285.3h.9v.9h-.9zM180.1,286.3h.9v.9h-.9zM180.0,290.2h.9v.9h-.9zM177.1,292.2h.9v.9h-.9zM178.4,285.3h.9v.9h-.9zM178.0,286.0h.9v.9h-.9zM179.3,291.7h.9v.9h-.9zM180.4,288.1h.9v.9h-.9zM177.9,285.3h.9v.9h-.9zM179.8,289.8h.9v.9h-.9zM179.1,290.7h.9v.9h-.9zM178.0,286.2h.9v.9h-.9zM176.9,291.4h.9v.9h-.9zM177.9,291.3h.9v.9h-.9zM180.8,288.7h.9v.9h-.9zM177.7,285.2h.9v.9h-.9zM180.1,286.7h.9v.9h-.9zM175.6,290.4h.9v.9h-.9zM175.5,290.5h.9v.9h-.9zM175.6,287.1h.9v.9h-.9zM180.8,290.6h.9v.9h-.9zM178.2,291.6h.9v.9h-.9zM177.4,286.0h.9v.9h-.9zM178.8,290.9h.9v.9h-.9zM176.0,289.6h.9v.9h-.9zM176.5,287.9h.9v.9h-.9zM177.8,286.0h.9v.9h-.9zM178.6,291.3h.9v.9h-.9zM179.7,285.3h.9v.9h-.9z" fill="#8fae62" fill-opacity="0.8"/>
<path d="M178.8,290.6h.9v.9h-.9zM179.0,290.4h.9v.9h-.9zM178.2,287.7h.9v.9h-.9zM177.2,288.7h.9v.9h-.9zM179.6,289.2h.9v.9h-.9zM176.7,288.0h.9v.9h-.9zM178.0,290.1h.9v.9h-.9zM177.4,289.5h.9v.9h-.9zM177.0,287.5h.9v.9h-.9zM179.2,289.4h.9v.9h-.9zM177.7,287.9h.9v.9h-.9zM177.6,290.7h.9v.9h-.9zM179.2,290.1h.9v.9h-.9zM177.9,289.9h.9v.9h-.9zM179.3,290.4h.9v.9h-.9zM177.6,287.2h.9v.9h-.9zM179.0,287.5h.9v.9h-.9zM177.0,287.8h.9v.9h-.9zM178.2,288.9h.9v.9h-.9zM178.5,287.5h.9v.9h-.9zM177.5,289.5h.9v.9h-.9zM178.8,288.1h.9v.9h-.9zM178.8,287.5h.9v.9h-.9zM179.1,289.3h.9v.9h-.9zM177.5,288.7h.9v.9h-.9zM179.5,289.1h.9v.9h-.9zM178.9,288.0h.9v.9h-.9zM176.8,289.3h.9v.9h-.9zM178.9,288.3h.9v.9h-.9zM179.1,286.3h.9v.9h-.9zM178.1,290.0h.9v.9h-.9zM178.7,289.2h.9v.9h-.9zM178.2,287.9h.9v.9h-.9zM179.4,290.3h.9v.9h-.9zM178.2,289.1h.9v.9h-.9zM179.5,289.3h.9v.9h-.9zM179.3,287.0h.9v.9h-.9zM177.1,289.2h.9v.9h-.9zM177.3,288.6h.9v.9h-.9zM178.6,290.0h.9v.9h-.9zM177.1,287.9h.9v.9h-.9zM177.3,287.0h.9v.9h-.9zM178.6,288.9h.9v.9h-.9zM178.9,288.0h.9v.9h-.9zM178.8,287.8h.9v.9h-.9zM179.4,288.2h.9v.9h-.9zM178.4,286.8h.9v.9h-.9zM178.4,289.8h.9v.9h-.9zM177.8,286.6h.9v.9h-.9zM177.3,288.0h.9v.9h-.9zM177.9,288.5h.9v.9h-.9zM176.9,286.4h.9v.9h-.9zM179.4,287.4h.9v.9h-.9zM179.0,286.4h.9v.9h-.9zM176.8,287.9h.9v.9h-.9zM179.7,288.4h.9v.9h-.9zM177.7,286.9h.9v.9h-.9zM176.7,289.8h.9v.9h-.9zM179.3,289.8h.9v.9h-.9zM179.2,290.7h.9v.9h-.9zM178.0,290.6h.9v.9h-.9zM179.0,288.8h.9v.9h-.9zM178.9,289.8h.9v.9h-.9zM178.5,290.4h.9v.9h-.9zM179.4,289.5h.9v.9h-.9zM178.9,287.9h.9v.9h-.9zM178.5,287.5h.9v.9h-.9zM177.8,286.6h.9v.9h-.9zM177.2,289.9h.9v.9h-.9zM179.5,288.6h.9v.9h-.9zM178.7,287.4h.9v.9h-.9zM178.0,290.1h.9v.9h-.9zM177.6,289.4h.9v.9h-.9zM178.2,289.1h.9v.9h-.9zM178.8,288.3h.9v.9h-.9zM179.0,286.6h.9v.9h-.9zM177.5,289.6h.9v.9h-.9zM178.3,290.4h.9v.9h-.9zM178.6,288.7h.9v.9h-.9zM178.3,287.9h.9v.9h-.9zM178.5,286.2h.9v.9h-.9zM177.2,287.4h.9v.9h-.9zM178.7,286.5h.9v.9h-.9zM177.3,288.5h.9v.9h-.9zM178.2,286.3h.9v.9h-.9zM178.8,287.8h.9v.9h-.9zM178.5,286.5h.9v.9h-.9zM177.8,288.7h.9v.9h-.9zM177.9,289.3h.9v.9h-.9zM177.8,286.5h.9v.9h-.9zM176.8,287.6h.9v.9h-.9zM177.7,289.0h.9v.9h-.9zM178.4,290.2h.9v.9h-.9zM179.5,287.0h.9v.9h-.9zM178.2,288.6h.9v.9h-.9zM177.1,288.2h.9v.9h-.9zM177.4,286.6h.9v.9h-.9zM177.3,287.9h.9v.9h-.9zM177.5,289.2h.9v.9h-.9zM178.2,288.1h.9v.9h-.9zM177.6,287.0h.9v.9h-.9zM177.4,288.2h.9v.9h-.9zM179.6,286.3h.9v.9h-.9zM177.4,286.9h.9v.9h-.9zM176.8,289.0h.9v.9h-.9zM177.8,288.5h.9v.9h-.9zM177.5,288.3h.9v.9h-.9zM178.3,287.1h.9v.9h-.9zM179.1,287.3h.9v.9h-.9zM179.4,287.3h.9v.9h-.9zM178.2,287.1h.9v.9h-.9zM178.6,289.6h.9v.9h-.9zM177.6,289.8h.9v.9h-.9zM176.9,289.2h.9v.9h-.9zM177.0,287.4h.9v.9h-.9zM176.9,289.0h.9v.9h-.9zM177.4,287.8h.9v.9h-.9zM176.8,290.0h.9v.9h-.9zM178.4,290.3h.9v.9h-.9zM178.0,289.2h.9v.9h-.9zM177.9,287.1h.9v.9h-.9zM178.0,288.0h.9v.9h-.9zM178.4,290.2h.9v.9h-.9zM178.6,289.2h.9v.9h-.9zM178.7,286.9h.9v.9h-.9zM176.9,288.9h.9v.9h-.9zM177.4,288.3h.9v.9h-.9zM178.3,290.0h.9v.9h-.9zM177.9,286.5h.9v.9h-.9zM178.8,287.5h.9v.9h-.9zM179.4,289.1h.9v.9h-.9zM177.6,287.4h.9v.9h-.9zM177.2,289.9h.9v.9h-.9zM179.7,286.6h.9v.9h-.9zM179.1,287.2h.9v.9h-.9zM178.9,290.1h.9v.9h-.9zM177.8,289.3h.9v.9h-.9zM176.7,289.6h.9v.9h-.9zM177.7,289.8h.9v.9h-.9zM178.0,286.3h.9v.9h-.9zM177.9,289.6h.9v.9h-.9zM177.8,290.0h.9v.9h-.9zM178.6,288.9h.9v.9h-.9zM178.4,288.6h.9v.9h-.9zM177.7,289.4h.9v.9h-.9zM178.9,290.2h.9v.9h-.9zM179.6,288.8h.9v.9h-.9zM178.9,287.2h.9v.9h-.9zM179.4,287.2h.9v.9h-.9zM179.6,286.3h.9v.9h-.9zM178.0,287.3h.9v.9h-.9zM179.4,288.7h.9v.9h-.9zM178.9,289.9h.9v.9h-.9zM177.6,287.3h.9v.9h-.9zM177.6,289.4h.9v.9h-.9zM178.2,290.1h.9v.9h-.9zM177.9,289.2h.9v.9h-.9zM177.8,287.0h.9v.9h-.9zM176.8,287.0h.9v.9h-.9zM178.0,288.0h.9v.9h-.9zM177.4,290.1h.9v.9h-.9zM178.1,288.3h.9v.9h-.9zM177.6,286.7h.9v.9h-.9zM179.4,288.3h.9v.9h-.9zM179.2,287.0h.9v.9h-.9z" fill="#cab93e" fill-opacity="0.9"/>
<rect x="167.70" y="247.20" width="53.60" height="53.60" fill="none" stroke="#231f20" stroke-width="0.9" />
<rect x="168.60" y="259.20" width="18.60" height="18.90" fill="none" stroke="#231f20" stroke-width="0.9" />
<rect x="187.60" y="259.20" width="27.20" height="18.90" fill="none" stroke="#231f20" stroke-width="0.9" />
<text x="172.50" y="255.80" font-size="6.78" fill="#231f20" stroke="#231f20" stroke-width="0.1" textLength="11.20" lengthAdjust="spacingAndGlyphs">24.4</text>
<text x="195.70" y="255.80" font-size="6.78" fill="#231f20" stroke="#231f20" stroke-width="0.1" textLength="11.20" lengthAdjust="spacingAndGlyphs">1.42</text>
<text x="164.30" y="254.20" font-size="6.0" text-anchor="end" fill="#231f20" stroke="#231f20" stroke-width="0.1">10<tspan font-size="3.6" dy="-2.4">5</tspan></text>
<text x="164.30" y="266.40" font-size="6.0" text-anchor="end" fill="#231f20" stroke="#231f20" stroke-width="0.1">10<tspan font-size="3.6" dy="-2.4">4</tspan></text>
<text x="164.30" y="280.20" font-size="6.0" text-anchor="end" fill="#231f20" stroke="#231f20" stroke-width="0.1">10<tspan font-size="3.6" dy="-2.4">3</tspan></text>
<text x="163.10" y="293.20" font-size="6.0" text-anchor="end" fill="#231f20" stroke="#231f20" stroke-width="0.1">0</text>
<line x1="166.50" y1="252.00" x2="167.70" y2="252.00" stroke="#231f20" stroke-width="0.6" />
<line x1="166.50" y1="264.20" x2="167.70" y2="264.20" stroke="#231f20" stroke-width="0.6" />
<line x1="166.50" y1="278.00" x2="167.70" y2="278.00" stroke="#231f20" stroke-width="0.6" />
<line x1="166.50" y1="291.00" x2="167.70" y2="291.00" stroke="#231f20" stroke-width="0.6" />
<text x="178.70" y="310.20" font-size="6.0" text-anchor="middle" fill="#231f20" stroke="#231f20" stroke-width="0.1">0</text>
<text x="191.30" y="310.20" font-size="6.0" text-anchor="middle" fill="#231f20" stroke="#231f20" stroke-width="0.1">10<tspan font-size="3.6" dy="-2.4">3</tspan></text>
<text x="204.70" y="310.20" font-size="6.0" text-anchor="middle" fill="#231f20" stroke="#231f20" stroke-width="0.1">10<tspan font-size="3.6" dy="-2.4">4</tspan></text>
<text x="217.30" y="310.20" font-size="6.0" text-anchor="middle" fill="#231f20" stroke="#231f20" stroke-width="0.1">10<tspan font-size="3.6" dy="-2.4">5</tspan></text>
<line x1="178.70" y1="300.80" x2="178.70" y2="302.00" stroke="#231f20" stroke-width="0.6" />
<line x1="187.30" y1="300.80" x2="187.30" y2="302.00" stroke="#231f20" stroke-width="0.6" />
<line x1="201.70" y1="300.80" x2="201.70" y2="302.00" stroke="#231f20" stroke-width="0.6" />
<line x1="215.30" y1="300.80" x2="215.30" y2="302.00" stroke="#231f20" stroke-width="0.6" />
<line x1="176.10" y1="301.80" x2="180.30" y2="301.80" stroke="#231f20" stroke-width="1.0" />
<text x="167.25" y="243.40" font-size="7.21" fill="#1b5592" stroke="#1b5592" stroke-width="0.08" textLength="54.50" lengthAdjust="spacingAndGlyphs"><tspan font-style="italic">Mx1-Cre Sf3b1</tspan><tspan font-size="4.8" dy="-2.4">K700E</tspan></text>
<ellipse cx="248.6" cy="287.7" rx="6.4" ry="10.1" fill="url(#haze)" fill-opacity="0.16"/>
<ellipse cx="248.6" cy="271.4" rx="8.3" ry="6.4" fill="url(#haze)" fill-opacity="0.20"/>
<ellipse cx="269.6" cy="269.8" rx="17.5" ry="4.6" fill="url(#haze)" fill-opacity="0.23"/>
<path d="M252.0,292.0h.9v.9h-.9zM244.8,279.2h.9v.9h-.9zM248.3,291.1h.9v.9h-.9zM248.2,281.3h.9v.9h-.9zM247.2,294.0h.9v.9h-.9zM244.7,292.3h.9v.9h-.9zM250.1,289.8h.9v.9h-.9zM250.7,285.3h.9v.9h-.9zM248.3,295.6h.9v.9h-.9zM247.5,285.9h.9v.9h-.9zM244.7,285.6h.9v.9h-.9zM250.7,293.2h.9v.9h-.9zM250.4,290.5h.9v.9h-.9zM250.2,289.2h.9v.9h-.9zM251.4,287.1h.9v.9h-.9zM251.6,287.4h.9v.9h-.9zM244.2,282.1h.9v.9h-.9zM248.1,285.7h.9v.9h-.9zM245.2,284.4h.9v.9h-.9zM249.1,289.5h.9v.9h-.9zM251.0,284.0h.9v.9h-.9zM249.7,292.2h.9v.9h-.9zM249.6,295.4h.9v.9h-.9zM247.3,287.7h.9v.9h-.9zM249.1,286.0h.9v.9h-.9zM248.5,288.7h.9v.9h-.9zM248.5,285.5h.9v.9h-.9zM247.4,287.4h.9v.9h-.9zM244.4,288.5h.9v.9h-.9zM245.6,286.6h.9v.9h-.9zM245.6,288.1h.9v.9h-.9zM247.6,286.6h.9v.9h-.9zM246.6,288.2h.9v.9h-.9zM253.0,279.9h.9v.9h-.9zM250.0,288.7h.9v.9h-.9zM247.5,282.2h.9v.9h-.9zM252.9,288.5h.9v.9h-.9zM251.4,286.1h.9v.9h-.9zM246.5,292.4h.9v.9h-.9zM250.6,286.4h.9v.9h-.9zM248.0,290.4h.9v.9h-.9zM246.4,284.1h.9v.9h-.9zM248.5,292.1h.9v.9h-.9zM251.0,288.5h.9v.9h-.9zM252.3,287.1h.9v.9h-.9zM247.3,297.8h.9v.9h-.9zM247.3,290.3h.9v.9h-.9zM250.1,288.2h.9v.9h-.9zM249.2,290.7h.9v.9h-.9zM250.1,285.2h.9v.9h-.9zM248.6,293.7h.9v.9h-.9zM250.6,285.9h.9v.9h-.9zM248.8,283.5h.9v.9h-.9zM245.1,285.5h.9v.9h-.9zM253.0,285.1h.9v.9h-.9zM243.2,287.3h.9v.9h-.9zM246.8,290.9h.9v.9h-.9zM252.0,286.3h.9v.9h-.9zM249.0,283.9h.9v.9h-.9zM251.9,284.6h.9v.9h-.9zM248.7,297.9h.9v.9h-.9zM246.1,288.5h.9v.9h-.9zM248.5,289.7h.9v.9h-.9zM249.9,294.1h.9v.9h-.9zM250.0,290.3h.9v.9h-.9zM245.3,289.5h.9v.9h-.9zM245.0,293.0h.9v.9h-.9zM248.5,291.9h.9v.9h-.9zM247.3,288.7h.9v.9h-.9zM248.9,290.1h.9v.9h-.9zM248.4,285.3h.9v.9h-.9zM247.6,285.0h.9v.9h-.9zM246.1,282.6h.9v.9h-.9zM244.7,295.8h.9v.9h-.9zM246.6,283.0h.9v.9h-.9zM251.3,289.0h.9v.9h-.9zM248.3,292.6h.9v.9h-.9zM253.7,284.1h.9v.9h-.9zM252.5,290.2h.9v.9h-.9zM251.8,285.5h.9v.9h-.9zM253.2,292.7h.9v.9h-.9zM241.6,293.2h.9v.9h-.9zM252.3,281.8h.9v.9h-.9zM249.6,287.0h.9v.9h-.9zM249.2,284.1h.9v.9h-.9zM250.4,290.9h.9v.9h-.9zM248.4,287.5h.9v.9h-.9zM243.9,290.1h.9v.9h-.9zM245.2,287.9h.9v.9h-.9zM246.5,298.9h.9v.9h-.9zM248.6,294.4h.9v.9h-.9zM248.5,287.6h.9v.9h-.9zM250.7,287.6h.9v.9h-.9zM255.0,287.0h.9v.9h-.9zM253.1,282.7h.9v.9h-.9zM246.2,290.6h.9v.9h-.9zM244.9,296.2h.9v.9h-.9zM250.1,288.1h.9v.9h-.9zM253.5,285.5h.9v.9h-.9zM246.6,276.6h.9v.9h-.9zM243.3,286.5h.9v.9h-.9zM243.0,291.0h.9v.9h-.9zM251.3,289.7h.9v.9h-.9zM244.2,284.1h.9v.9h-.9zM244.9,290.8h.9v.9h-.9zM251.5,286.8h.9v.9h-.9zM248.8,288.7h.9v.9h-.9zM250.7,283.9h.9v.9h-.9zM246.0,291.1h.9v.9h-.9zM250.0,289.8h.9v.9h-.9zM248.8,291.1h.9v.9h-.9zM249.9,285.1h.9v.9h-.9zM253.3,292.5h.9v.9h-.9zM248.0,287.3h.9v.9h-.9zM246.7,281.7h.9v.9h-.9zM245.7,281.6h.9v.9h-.9zM246.8,289.1h.9v.9h-.9zM248.5,281.5h.9v.9h-.9zM248.1,285.0h.9v.9h-.9zM245.6,292.5h.9v.9h-.9zM245.8,291.7h.9v.9h-.9zM244.0,288.9h.9v.9h-.9zM246.7,291.9h.9v.9h-.9zM249.7,284.4h.9v.9h-.9zM250.4,293.3h.9v.9h-.9zM252.3,294.1h.9v.9h-.9zM247.7,297.1h.9v.9h-.9zM247.0,287.2h.9v.9h-.9zM244.4,286.8h.9v.9h-.9zM244.6,288.2h.9v.9h-.9zM243.8,295.9h.9v.9h-.9zM250.9,294.7h.9v.9h-.9zM251.9,288.5h.9v.9h-.9zM250.0,288.6h.9v.9h-.9zM243.4,282.7h.9v.9h-.9zM247.6,291.9h.9v.9h-.9zM244.8,288.6h.9v.9h-.9zM247.1,291.0h.9v.9h-.9zM250.8,283.2h.9v.9h-.9zM245.5,294.2h.9v.9h-.9zM250.6,276.1h.9v.9h-.9zM253.9,275.0h.9v.9h-.9zM249.4,266.7h.9v.9h-.9zM254.5,273.8h.9v.9h-.9zM242.8,270.3h.9v.9h-.9zM253.5,275.5h.9v.9h-.9zM243.8,267.6h.9v.9h-.9zM253.8,273.6h.9v.9h-.9zM249.5,277.4h.9v.9h-.9zM253.5,273.0h.9v.9h-.9zM248.0,274.5h.9v.9h-.9zM254.8,270.6h.9v.9h-.9zM242.3,271.0h.9v.9h-.9zM255.8,268.6h.9v.9h-.9zM244.9,275.8h.9v.9h-.9zM240.3,268.9h.9v.9h-.9zM246.0,265.0h.9v.9h-.9zM253.5,276.9h.9v.9h-.9zM243.2,270.3h.9v.9h-.9zM248.8,275.4h.9v.9h-.9zM254.5,271.7h.9v.9h-.9zM252.3,269.3h.9v.9h-.9zM250.3,278.5h.9v.9h-.9zM249.4,276.5h.9v.9h-.9zM239.9,271.3h.9v.9h-.9zM255.7,273.2h.9v.9h-.9zM243.2,272.6h.9v.9h-.9zM242.2,265.3h.9v.9h-.9zM256.4,268.8h.9v.9h-.9zM240.7,271.2h.9v.9h-.9zM246.6,274.5h.9v.9h-.9zM240.6,273.7h.9v.9h-.9zM243.9,271.2h.9v.9h-.9zM249.2,266.8h.9v.9h-.9zM239.9,272.2h.9v.9h-.9zM256.6,269.2h.9v.9h-.9zM244.1,275.7h.9v.9h-.9zM242.7,272.2h.9v.9h-.9zM254.4,271.9h.9v.9h-.9zM247.6,274.6h.9v.9h-.9zM247.6,266.2h.9v.9h-.9zM253.6,270.0h.9v.9h-.9zM249.5,277.8h.9v.9h-.9zM254.8,268.9h.9v.9h-.9zM242.6,268.2h.9v.9h-.9zM246.2,277.6h.9v.9h-.9zM259.3,276.4h.9v.9h-.9zM242.4,274.5h.9v.9h-.9zM246.2,274.5h.9v.9h-.9zM250.3,267.7h.9v.9h-.9zM247.6,266.2h.9v.9h-.9zM248.6,278.6h.9v.9h-.9zM252.5,264.7h.9v.9h-.9zM242.2,274.3h.9v.9h-.9zM245.8,267.0h.9v.9h-.9zM242.3,271.0h.9v.9h-.9zM251.3,275.9h.9v.9h-.9zM256.1,268.3h.9v.9h-.9zM244.6,273.0h.9v.9h-.9zM252.9,271.1h.9v.9h-.9zM254.0,273.5h.9v.9h-.9zM254.7,271.0h.9v.9h-.9zM250.2,268.2h.9v.9h-.9zM243.5,275.2h.9v.9h-.9zM246.3,276.8h.9v.9h-.9zM247.6,267.5h.9v.9h-.9zM244.4,269.2h.9v.9h-.9zM258.3,266.1h.9v.9h-.9zM240.1,268.8h.9v.9h-.9zM248.9,277.8h.9v.9h-.9zM252.4,268.7h.9v.9h-.9zM254.4,275.1h.9v.9h-.9zM242.8,272.6h.9v.9h-.9zM247.4,274.8h.9v.9h-.9zM251.0,267.5h.9v.9h-.9zM248.4,274.6h.9v.9h-.9zM243.7,266.4h.9v.9h-.9zM248.0,275.3h.9v.9h-.9zM249.9,274.5h.9v.9h-.9zM247.9,274.2h.9v.9h-.9zM244.7,270.5h.9v.9h-.9zM250.4,273.9h.9v.9h-.9zM253.2,272.1h.9v.9h-.9zM251.1,266.0h.9v.9h-.9zM246.2,268.2h.9v.9h-.9zM247.3,277.8h.9v.9h-.9zM250.3,278.0h.9v.9h-.9zM254.3,272.0h.9v.9h-.9zM242.6,268.9h.9v.9h-.9zM250.5,272.8h.9v.9h-.9zM247.1,267.9h.9v.9h-.9zM253.1,270.5h.9v.9h-.9zM249.5,275.9h.9v.9h-.9zM249.8,274.5h.9v.9h-.9zM254.0,269.0h.9v.9h-.9zM239.2,270.0h.9v.9h-.9zM244.9,273.6h.9v.9h-.9zM274.6,267.1h.9v.9h-.9zM244.0,271.2h.9v.9h-.9zM282.4,268.6h.9v.9h-.9zM278.1,269.7h.9v.9h-.9zM274.6,265.5h.9v.9h-.9zM257.9,267.4h.9v.9h-.9zM259.2,271.9h.9v.9h-.9zM278.8,270.0h.9v.9h-.9zM285.9,272.9h.9v.9h-.9zM260.7,267.7h.9v.9h-.9zM263.0,268.5h.9v.9h-.9zM277.4,272.6h.9v.9h-.9zM287.7,271.8h.9v.9h-.9zM283.7,271.7h.9v.9h-.9zM277.2,265.5h.9v.9h-.9zM262.7,273.9h.9v.9h-.9zM256.5,269.7h.9v.9h-.9zM278.2,269.0h.9v.9h-.9zM272.1,272.8h.9v.9h-.9zM280.5,268.1h.9v.9h-.9zM277.2,270.9h.9v.9h-.9zM259.6,270.3h.9v.9h-.9zM265.3,268.0h.9v.9h-.9zM258.4,267.7h.9v.9h-.9zM279.4,269.4h.9v.9h-.9zM260.9,269.1h.9v.9h-.9zM262.0,271.5h.9v.9h-.9zM256.5,268.9h.9v.9h-.9zM282.2,270.0h.9v.9h-.9zM284.1,271.3h.9v.9h-.9zM259.8,269.5h.9v.9h-.9zM262.3,271.4h.9v.9h-.9zM280.5,269.4h.9v.9h-.9zM280.7,270.2h.9v.9h-.9zM259.0,273.0h.9v.9h-.9zM275.5,268.0h.9v.9h-.9zM276.7,272.3h.9v.9h-.9zM277.1,267.5h.9v.9h-.9zM287.6,271.9h.9v.9h-.9zM264.9,267.0h.9v.9h-.9zM260.1,268.3h.9v.9h-.9zM270.3,264.0h.9v.9h-.9zM267.8,266.1h.9v.9h-.9zM262.2,268.7h.9v.9h-.9zM284.2,268.3h.9v.9h-.9zM279.3,270.5h.9v.9h-.9zM272.0,264.3h.9v.9h-.9zM281.5,273.1h.9v.9h-.9zM257.9,272.7h.9v.9h-.9zM276.4,273.1h.9v.9h-.9zM284.2,269.5h.9v.9h-.9zM255.6,270.7h.9v.9h-.9zM261.8,265.2h.9v.9h-.9zM278.6,270.5h.9v.9h-.9zM284.7,272.8h.9v.9h-.9zM279.1,267.6h.9v.9h-.9zM258.3,269.8h.9v.9h-.9zM262.4,271.2h.9v.9h-.9zM273.8,266.4h.9v.9h-.9zM278.0,271.6h.9v.9h-.9zM275.3,267.5h.9v.9h-.9zM275.5,269.5h.9v.9h-.9zM277.2,272.6h.9v.9h-.9zM284.5,265.4h.9v.9h-.9zM260.0,269.6h.9v.9h-.9zM257.8,269.7h.9v.9h-.9zM284.0,267.4h.9v.9h-.9zM261.9,268.9h.9v.9h-.9zM276.5,267.4h.9v.9h-.9zM268.5,266.2h.9v.9h-.9zM259.1,274.4h.9v.9h-.9zM275.9,269.6h.9v.9h-.9zM279.7,270.7h.9v.9h-.9zM275.6,267.2h.9v.9h-.9zM252.1,267.4h.9v.9h-.9zM259.2,270.2h.9v.9h-.9zM259.5,271.1h.9v.9h-.9zM271.1,266.6h.9v.9h-.9zM277.9,270.8h.9v.9h-.9zM282.4,267.6h.9v.9h-.9zM280.2,266.8h.9v.9h-.9zM289.5,268.0h.9v.9h-.9zM275.1,274.0h.9v.9h-.9zM262.8,273.1h.9v.9h-.9zM280.6,270.6h.9v.9h-.9zM256.1,269.7h.9v.9h-.9zM277.0,273.9h.9v.9h-.9zM278.3,270.1h.9v.9h-.9zM277.6,268.7h.9v.9h-.9zM276.3,267.6h.9v.9h-.9zM258.0,268.3h.9v.9h-.9zM259.3,264.1h.9v.9h-.9zM265.4,267.4h.9v.9h-.9zM270.1,272.8h.9v.9h-.9zM274.2,266.4h.9v.9h-.9zM261.9,272.1h.9v.9h-.9zM278.9,267.2h.9v.9h-.9zM253.2,272.0h.9v.9h-.9zM269.2,272.9h.9v.9h-.9zM263.1,272.0h.9v.9h-.9zM270.2,265.6h.9v.9h-.9zM259.4,268.3h.9v.9h-.9zM270.0,265.3h.9v.9h-.9zM280.1,269.1h.9v.9h-.9zM277.3,272.3h.9v.9h-.9zM274.5,271.6h.9v.9h-.9zM276.7,270.5h.9v.9h-.9zM258.7,273.7h.9v.9h-.9zM264.5,273.0h.9v.9h-.9zM280.2,270.7h.9v.9h-.9zM259.0,267.8h.9v.9h-.9zM276.6,271.3h.9v.9h-.9zM283.0,270.8h.9v.9h-.9zM275.3,264.8h.9v.9h-.9zM280.8,272.3h.9v.9h-.9zM260.8,268.8h.9v.9h-.9zM280.9,271.6h.9v.9h-.9zM257.9,270.6h.9v.9h-.9zM275.2,266.5h.9v.9h-.9zM277.8,271.7h.9v.9h-.9zM276.8,271.3h.9v.9h-.9zM265.9,266.6h.9v.9h-.9zM267.0,266.3h.9v.9h-.9zM258.3,272.1h.9v.9h-.9zM261.9,267.7h.9v.9h-.9zM274.0,271.7h.9v.9h-.9zM272.0,273.3h.9v.9h-.9zM264.9,268.0h.9v.9h-.9zM256.9,269.1h.9v.9h-.9zM265.0,268.1h.9v.9h-.9zM261.9,269.1h.9v.9h-.9zM260.3,267.1h.9v.9h-.9zM272.0,264.9h.9v.9h-.9zM283.6,273.0h.9v.9h-.9zM263.4,271.5h.9v.9h-.9zM264.6,267.3h.9v.9h-.9zM274.5,268.0h.9v.9h-.9zM283.3,270.2h.9v.9h-.9zM278.1,267.3h.9v.9h-.9zM277.0,271.2h.9v.9h-.9zM262.6,265.7h.9v.9h-.9zM277.5,267.1h.9v.9h-.9zM263.7,273.7h.9v.9h-.9zM281.6,269.4h.9v.9h-.9zM276.4,268.8h.9v.9h-.9zM261.5,269.6h.9v.9h-.9zM262.7,269.4h.9v.9h-.9zM278.9,272.5h.9v.9h-.9zM279.7,266.2h.9v.9h-.9zM279.3,271.7h.9v.9h-.9zM259.0,270.3h.9v.9h-.9zM259.4,268.9h.9v.9h-.9zM256.1,268.7h.9v.9h-.9zM275.5,268.0h.9v.9h-.9zM276.4,273.7h.9v.9h-.9zM276.9,271.6h.9v.9h-.9zM259.8,268.2h.9v.9h-.9zM280.8,269.3h.9v.9h-.9zM280.2,271.9h.9v.9h-.9zM254.3,270.8h.9v.9h-.9zM274.7,292.8h.9v.9h-.9zM285.1,288.1h.9v.9h-.9zM279.1,281.6h.9v.9h-.9zM277.3,284.7h.9v.9h-.9zM282.9,291.5h.9v.9h-.9zM263.5,289.3h.9v.9h-.9zM282.8,296.2h.9v.9h-.9zM274.7,289.3h.9v.9h-.9zM276.6,279.5h.9v.9h-.9zM259.2,286.4h.9v.9h-.9zM256.6,289.4h.9v.9h-.9zM262.9,288.4h.9v.9h-.9zM272.0,285.6h.9v.9h-.9zM263.4,291.2h.9v.9h-.9zM272.2,294.2h.9v.9h-.9zM273.0,288.0h.9v.9h-.9zM267.5,281.2h.9v.9h-.9zM248.0,286.7h.9v.9h-.9zM279.1,285.8h.9v.9h-.9zM269.3,284.9h.9v.9h-.9zM275.3,292.1h.9v.9h-.9zM260.4,289.9h.9v.9h-.9zM270.1,293.3h.9v.9h-.9zM277.2,295.9h.9v.9h-.9zM264.8,293.1h.9v.9h-.9zM278.7,285.2h.9v.9h-.9zM270.8,287.8h.9v.9h-.9zM260.6,289.5h.9v.9h-.9zM267.4,288.2h.9v.9h-.9zM253.4,291.8h.9v.9h-.9zM260.2,284.9h.9v.9h-.9zM273.9,289.2h.9v.9h-.9zM261.4,288.5h.9v.9h-.9zM265.1,294.8h.9v.9h-.9zM258.7,286.9h.9v.9h-.9zM277.1,291.6h.9v.9h-.9zM254.0,287.2h.9v.9h-.9zM261.9,286.9h.9v.9h-.9zM254.6,286.3h.9v.9h-.9zM262.0,296.5h.9v.9h-.9zM285.6,299.3h.9v.9h-.9zM277.8,289.5h.9v.9h-.9zM281.0,292.7h.9v.9h-.9zM253.8,285.9h.9v.9h-.9zM267.3,288.6h.9v.9h-.9zM282.4,281.4h.9v.9h-.9zM261.6,287.1h.9v.9h-.9zM279.4,287.7h.9v.9h-.9zM278.9,286.0h.9v.9h-.9zM279.9,288.7h.9v.9h-.9zM267.6,289.9h.9v.9h-.9zM273.4,291.2h.9v.9h-.9zM260.4,297.6h.9v.9h-.9zM272.9,291.6h.9v.9h-.9zM257.4,287.3h.9v.9h-.9zM265.3,289.5h.9v.9h-.9zM273.2,291.7h.9v.9h-.9zM276.6,284.8h.9v.9h-.9zM268.8,286.9h.9v.9h-.9zM286.1,287.7h.9v.9h-.9zM244.2,293.2h.9v.9h-.9zM258.8,289.7h.9v.9h-.9zM266.7,286.9h.9v.9h-.9zM265.7,286.8h.9v.9h-.9zM280.3,286.7h.9v.9h-.9zM281.9,283.0h.9v.9h-.9zM261.2,284.6h.9v.9h-.9zM264.7,292.0h.9v.9h-.9zM266.5,273.1h.9v.9h-.9zM271.3,281.2h.9v.9h-.9zM247.0,274.6h.9v.9h-.9zM262.7,279.4h.9v.9h-.9zM256.2,275.6h.9v.9h-.9zM256.6,291.4h.9v.9h-.9zM249.9,283.8h.9v.9h-.9zM272.1,278.9h.9v.9h-.9zM255.3,281.0h.9v.9h-.9zM258.1,289.4h.9v.9h-.9zM251.3,281.4h.9v.9h-.9zM257.1,286.8h.9v.9h-.9zM255.7,277.1h.9v.9h-.9zM253.4,282.8h.9v.9h-.9zM249.8,285.9h.9v.9h-.9zM253.2,283.5h.9v.9h-.9zM264.7,284.7h.9v.9h-.9zM255.6,280.1h.9v.9h-.9zM265.5,294.0h.9v.9h-.9zM272.4,292.5h.9v.9h-.9zM251.9,278.1h.9v.9h-.9zM256.8,282.8h.9v.9h-.9zM263.6,274.8h.9v.9h-.9zM239.1,279.0h.9v.9h-.9zM251.6,276.5h.9v.9h-.9zM252.1,267.5h.9v.9h-.9zM248.5,279.8h.9v.9h-.9zM255.5,278.5h.9v.9h-.9zM265.5,283.6h.9v.9h-.9zM271.1,264.8h.9v.9h-.9zM260.1,280.8h.9v.9h-.9zM265.0,279.8h.9v.9h-.9zM275.7,278.9h.9v.9h-.9zM267.8,277.1h.9v.9h-.9zM246.7,278.3h.9v.9h-.9zM286.8,265.9h.9v.9h-.9zM274.7,288.4h.9v.9h-.9zM283.6,288.5h.9v.9h-.9zM274.7,278.7h.9v.9h-.9zM250.2,280.5h.9v.9h-.9zM251.9,278.2h.9v.9h-.9zM259.0,283.7h.9v.9h-.9zM261.4,278.0h.9v.9h-.9zM265.1,281.9h.9v.9h-.9zM257.5,278.8h.9v.9h-.9zM270.5,288.0h.9v.9h-.9zM271.8,273.7h.9v.9h-.9zM256.7,277.4h.9v.9h-.9zM283.3,283.0h.9v.9h-.9zM243.5,281.7h.9v.9h-.9zM263.0,274.6h.9v.9h-.9zM261.1,276.0h.9v.9h-.9zM281.8,277.8h.9v.9h-.9z" fill="#95a1cf" fill-opacity="0.42"/>
<path d="M252.4,271.4h.9v.9h-.9zM251.7,271.6h.9v.9h-.9zM250.4,270.4h.9v.9h-.9zM249.1,274.1h.9v.9h-.9zM247.1,270.6h.9v.9h-.9zM249.2,268.4h.9v.9h-.9zM249.8,269.5h.9v.9h-.9zM246.5,270.4h.9v.9h-.9zM245.4,273.8h.9v.9h-.9zM252.5,273.3h.9v.9h-.9zM251.8,273.4h.9v.9h-.9zM245.1,271.9h.9v.9h-.9zM252.0,270.9h.9v.9h-.9zM251.2,269.9h.9v.9h-.9zM247.9,270.8h.9v.9h-.9zM248.0,271.5h.9v.9h-.9zM251.8,272.4h.9v.9h-.9zM248.7,272.7h.9v.9h-.9zM246.6,272.2h.9v.9h-.9zM252.3,270.7h.9v.9h-.9zM247.8,273.4h.9v.9h-.9zM248.0,273.0h.9v.9h-.9zM250.4,271.1h.9v.9h-.9zM249.3,273.3h.9v.9h-.9zM248.6,273.4h.9v.9h-.9zM246.9,269.4h.9v.9h-.9zM248.7,271.2h.9v.9h-.9zM250.8,269.0h.9v.9h-.9zM246.0,272.0h.9v.9h-.9zM248.0,272.8h.9v.9h-.9zM248.0,270.9h.9v.9h-.9zM251.7,271.0h.9v.9h-.9zM245.9,272.5h.9v.9h-.9zM248.8,270.9h.9v.9h-.9zM247.1,273.2h.9v.9h-.9zM252.3,270.6h.9v.9h-.9zM245.9,273.2h.9v.9h-.9zM246.5,272.6h.9v.9h-.9zM247.8,269.2h.9v.9h-.9zM247.7,268.4h.9v.9h-.9zM246.0,273.1h.9v.9h-.9zM252.1,272.4h.9v.9h-.9zM249.1,272.1h.9v.9h-.9zM251.7,272.0h.9v.9h-.9zM246.2,271.3h.9v.9h-.9zM249.8,270.4h.9v.9h-.9zM251.1,271.6h.9v.9h-.9zM248.9,271.0h.9v.9h-.9zM247.9,271.3h.9v.9h-.9zM249.1,270.9h.9v.9h-.9zM251.8,273.1h.9v.9h-.9zM248.2,271.1h.9v.9h-.9zM247.5,270.4h.9v.9h-.9zM248.1,272.1h.9v.9h-.9zM249.0,268.9h.9v.9h-.9zM245.7,271.4h.9v.9h-.9zM247.6,271.5h.9v.9h-.9zM247.1,269.2h.9v.9h-.9zM245.5,271.0h.9v.9h-.9zM252.0,271.4h.9v.9h-.9zM249.5,271.4h.9v.9h-.9zM249.9,271.5h.9v.9h-.9zM245.8,269.7h.9v.9h-.9zM247.2,272.4h.9v.9h-.9zM247.1,272.3h.9v.9h-.9zM246.3,273.1h.9v.9h-.9zM250.1,271.0h.9v.9h-.9zM247.0,269.8h.9v.9h-.9zM250.3,270.0h.9v.9h-.9zM251.9,273.4h.9v.9h-.9zM248.0,273.7h.9v.9h-.9zM251.7,274.0h.9v.9h-.9zM252.0,273.2h.9v.9h-.9zM248.6,271.3h.9v.9h-.9zM248.0,273.8h.9v.9h-.9zM247.7,269.9h.9v.9h-.9zM246.4,271.2h.9v.9h-.9zM250.2,270.0h.9v.9h-.9zM246.8,268.2h.9v.9h-.9zM249.3,270.2h.9v.9h-.9zM251.5,273.2h.9v.9h-.9zM251.1,270.5h.9v.9h-.9zM249.7,268.9h.9v.9h-.9zM247.7,268.3h.9v.9h-.9zM248.4,268.6h.9v.9h-.9zM252.5,270.6h.9v.9h-.9zM249.3,269.7h.9v.9h-.9zM248.3,269.5h.9v.9h-.9zM245.6,272.9h.9v.9h-.9zM252.6,272.2h.9v.9h-.9zM249.8,272.4h.9v.9h-.9zM249.7,270.2h.9v.9h-.9zM250.4,270.7h.9v.9h-.9zM247.7,269.6h.9v.9h-.9zM245.4,271.8h.9v.9h-.9zM247.4,268.5h.9v.9h-.9zM249.8,272.2h.9v.9h-.9zM247.6,272.7h.9v.9h-.9zM245.7,273.8h.9v.9h-.9zM245.9,272.3h.9v.9h-.9zM248.8,274.0h.9v.9h-.9zM250.7,272.2h.9v.9h-.9zM249.3,271.6h.9v.9h-.9zM251.4,270.3h.9v.9h-.9zM261.5,271.0h.9v.9h-.9zM268.0,268.2h.9v.9h-.9zM269.3,267.7h.9v.9h-.9zM273.2,268.0h.9v.9h-.9zM272.4,271.3h.9v.9h-.9zM274.5,269.3h.9v.9h-.9zM268.2,272.0h.9v.9h-.9zM272.5,267.6h.9v.9h-.9zM275.2,269.8h.9v.9h-.9zM272.8,268.2h.9v.9h-.9zM268.9,272.0h.9v.9h-.9zM264.9,272.3h.9v.9h-.9zM245.2,270.5h.9v.9h-.9zM266.1,270.5h.9v.9h-.9zM273.9,268.9h.9v.9h-.9zM260.9,270.8h.9v.9h-.9zM272.6,272.1h.9v.9h-.9zM265.0,271.6h.9v.9h-.9zM263.3,269.4h.9v.9h-.9zM260.7,269.7h.9v.9h-.9zM271.8,267.7h.9v.9h-.9zM267.2,272.0h.9v.9h-.9zM268.0,267.5h.9v.9h-.9zM263.9,270.1h.9v.9h-.9zM260.1,269.9h.9v.9h-.9zM265.7,270.8h.9v.9h-.9zM268.4,267.8h.9v.9h-.9zM273.6,269.8h.9v.9h-.9zM266.2,272.2h.9v.9h-.9zM270.3,266.9h.9v.9h-.9zM269.7,268.1h.9v.9h-.9zM273.2,266.9h.9v.9h-.9zM275.3,271.1h.9v.9h-.9zM275.3,270.9h.9v.9h-.9zM266.0,270.5h.9v.9h-.9zM264.9,269.3h.9v.9h-.9zM261.5,270.2h.9v.9h-.9zM264.4,269.7h.9v.9h-.9zM268.4,271.6h.9v.9h-.9zM264.5,270.1h.9v.9h-.9zM266.6,268.0h.9v.9h-.9zM274.8,269.5h.9v.9h-.9zM265.7,269.6h.9v.9h-.9zM268.7,271.6h.9v.9h-.9zM265.2,270.2h.9v.9h-.9zM248.8,271.1h.9v.9h-.9zM269.0,271.7h.9v.9h-.9zM270.0,268.0h.9v.9h-.9zM268.9,267.3h.9v.9h-.9zM265.5,271.3h.9v.9h-.9zM261.8,270.6h.9v.9h-.9zM272.5,271.8h.9v.9h-.9zM250.7,271.4h.9v.9h-.9zM274.9,268.5h.9v.9h-.9zM267.0,266.8h.9v.9h-.9zM264.5,270.7h.9v.9h-.9zM263.8,269.6h.9v.9h-.9zM269.4,267.7h.9v.9h-.9zM266.3,272.1h.9v.9h-.9zM264.2,269.9h.9v.9h-.9zM276.6,269.8h.9v.9h-.9zM260.6,270.7h.9v.9h-.9zM274.8,269.8h.9v.9h-.9zM272.3,271.7h.9v.9h-.9zM269.1,266.9h.9v.9h-.9zM276.1,269.8h.9v.9h-.9zM268.4,267.8h.9v.9h-.9zM249.7,271.3h.9v.9h-.9zM265.9,271.7h.9v.9h-.9zM270.9,267.4h.9v.9h-.9zM272.6,267.6h.9v.9h-.9zM274.9,270.8h.9v.9h-.9zM273.8,271.1h.9v.9h-.9zM269.0,272.3h.9v.9h-.9zM274.1,269.7h.9v.9h-.9zM268.0,266.7h.9v.9h-.9zM261.4,269.9h.9v.9h-.9zM264.9,268.3h.9v.9h-.9zM269.6,267.9h.9v.9h-.9zM268.1,272.6h.9v.9h-.9zM272.7,271.5h.9v.9h-.9zM265.5,270.2h.9v.9h-.9zM265.0,271.6h.9v.9h-.9zM268.2,271.6h.9v.9h-.9zM263.4,270.2h.9v.9h-.9zM272.2,271.4h.9v.9h-.9zM265.1,270.1h.9v.9h-.9zM266.0,269.1h.9v.9h-.9zM261.5,270.5h.9v.9h-.9zM263.5,270.2h.9v.9h-.9zM263.3,270.9h.9v.9h-.9zM273.5,272.3h.9v.9h-.9zM274.8,270.4h.9v.9h-.9zM262.9,270.6h.9v.9h-.9zM268.5,271.7h.9v.9h-.9zM265.9,268.6h.9v.9h-.9zM265.9,271.0h.9v.9h-.9zM272.0,267.9h.9v.9h-.9zM273.1,271.4h.9v.9h-.9zM268.4,272.1h.9v.9h-.9zM274.6,268.8h.9v.9h-.9zM270.4,266.8h.9v.9h-.9zM264.6,269.1h.9v.9h-.9zM262.1,271.2h.9v.9h-.9zM275.4,270.5h.9v.9h-.9zM267.5,272.5h.9v.9h-.9zM267.3,268.0h.9v.9h-.9zM266.2,271.5h.9v.9h-.9zM264.7,270.5h.9v.9h-.9zM261.7,270.9h.9v.9h-.9zM249.1,268.7h.9v.9h-.9zM248.0,269.1h.9v.9h-.9zM264.8,271.0h.9v.9h-.9zM266.9,268.1h.9v.9h-.9z" fill="#7389bf" fill-opacity="0.55"/>
<path d="M268.3,269.7h.9v.9h-.9zM267.6,268.9h.9v.9h-.9zM267.7,270.0h.9v.9h-.9zM268.9,270.7h.9v.9h-.9zM270.8,269.1h.9v.9h-.9zM271.9,268.3h.9v.9h-.9zM269.0,268.6h.9v.9h-.9zM273.6,270.3h.9v.9h-.9zM267.0,269.4h.9v.9h-.9zM270.6,272.4h.9v.9h-.9zM268.7,268.9h.9v.9h-.9zM270.8,269.3h.9v.9h-.9zM271.6,271.8h.9v.9h-.9zM271.6,271.5h.9v.9h-.9zM270.8,269.1h.9v.9h-.9zM273.0,269.4h.9v.9h-.9zM270.7,269.4h.9v.9h-.9zM269.0,269.7h.9v.9h-.9zM269.3,272.7h.9v.9h-.9zM271.0,269.0h.9v.9h-.9zM272.4,268.2h.9v.9h-.9zM273.2,270.5h.9v.9h-.9zM267.6,271.0h.9v.9h-.9zM273.5,270.9h.9v.9h-.9zM273.2,269.7h.9v.9h-.9zM271.3,272.0h.9v.9h-.9zM270.6,272.2h.9v.9h-.9zM266.2,268.4h.9v.9h-.9zM272.3,270.5h.9v.9h-.9zM271.9,268.4h.9v.9h-.9zM268.6,269.0h.9v.9h-.9zM270.9,269.4h.9v.9h-.9zM270.8,271.3h.9v.9h-.9zM269.5,272.4h.9v.9h-.9zM266.1,268.9h.9v.9h-.9zM273.1,269.7h.9v.9h-.9zM269.0,270.0h.9v.9h-.9zM271.5,269.1h.9v.9h-.9zM273.0,268.3h.9v.9h-.9zM266.3,270.8h.9v.9h-.9zM271.6,269.0h.9v.9h-.9zM267.6,271.1h.9v.9h-.9zM267.5,269.8h.9v.9h-.9zM273.1,270.2h.9v.9h-.9zM270.9,269.5h.9v.9h-.9zM273.2,271.0h.9v.9h-.9zM270.7,269.0h.9v.9h-.9zM267.6,268.5h.9v.9h-.9zM268.8,269.3h.9v.9h-.9zM268.6,268.9h.9v.9h-.9zM271.2,269.0h.9v.9h-.9zM267.0,270.1h.9v.9h-.9zM268.8,269.0h.9v.9h-.9zM266.9,270.5h.9v.9h-.9zM270.7,272.4h.9v.9h-.9zM269.7,271.7h.9v.9h-.9zM268.7,269.4h.9v.9h-.9zM268.8,268.3h.9v.9h-.9zM272.5,269.9h.9v.9h-.9zM271.9,272.0h.9v.9h-.9zM269.8,272.6h.9v.9h-.9zM267.6,269.2h.9v.9h-.9zM272.5,268.8h.9v.9h-.9zM268.9,270.7h.9v.9h-.9zM271.8,269.5h.9v.9h-.9zM272.9,270.1h.9v.9h-.9zM268.1,270.2h.9v.9h-.9zM272.4,268.8h.9v.9h-.9zM269.1,269.0h.9v.9h-.9zM269.0,270.4h.9v.9h-.9zM268.9,268.5h.9v.9h-.9z" fill="#6fa098" fill-opacity="0.7"/>
<path d="M270.2,270.6h.9v.9h-.9zM269.9,269.2h.9v.9h-.9zM271.4,270.0h.9v.9h-.9zM271.2,270.3h.9v.9h-.9zM269.3,270.9h.9v.9h-.9zM270.1,270.9h.9v.9h-.9zM270.5,271.1h.9v.9h-.9zM270.7,270.4h.9v.9h-.9zM271.3,269.8h.9v.9h-.9zM271.4,270.3h.9v.9h-.9zM269.8,270.7h.9v.9h-.9zM270.4,270.0h.9v.9h-.9zM270.1,270.8h.9v.9h-.9zM270.3,270.6h.9v.9h-.9zM270.3,271.1h.9v.9h-.9zM269.6,268.4h.9v.9h-.9zM269.4,271.0h.9v.9h-.9zM269.8,268.9h.9v.9h-.9zM270.7,270.8h.9v.9h-.9zM270.6,269.9h.9v.9h-.9zM269.3,269.2h.9v.9h-.9zM271.2,269.8h.9v.9h-.9zM269.1,271.2h.9v.9h-.9zM269.4,269.1h.9v.9h-.9zM270.2,270.2h.9v.9h-.9zM271.0,271.0h.9v.9h-.9zM270.0,271.0h.9v.9h-.9zM270.3,270.1h.9v.9h-.9zM269.5,270.7h.9v.9h-.9zM269.6,270.5h.9v.9h-.9zM270.4,268.6h.9v.9h-.9zM271.7,270.3h.9v.9h-.9zM269.6,271.0h.9v.9h-.9zM269.5,269.3h.9v.9h-.9zM269.8,268.7h.9v.9h-.9zM270.0,271.0h.9v.9h-.9zM270.0,271.0h.9v.9h-.9z" fill="#8fae62" fill-opacity="0.8"/>
<rect x="237.60" y="247.20" width="53.60" height="53.60" fill="none" stroke="#231f20" stroke-width="0.9" />
<rect x="238.50" y="259.20" width="18.60" height="18.90" fill="none" stroke="#231f20" stroke-width="0.9" />
<rect x="257.50" y="259.20" width="27.20" height="18.90" fill="none" stroke="#231f20" stroke-width="0.9" />
<text x="242.40" y="255.80" font-size="6.78" fill="#231f20" stroke="#231f20" stroke-width="0.1" textLength="11.20" lengthAdjust="spacingAndGlyphs">26.0</text>
<text x="265.60" y="255.80" font-size="6.78" fill="#231f20" stroke="#231f20" stroke-width="0.1" textLength="11.20" lengthAdjust="spacingAndGlyphs">47.0</text>
<text x="234.20" y="254.20" font-size="6.0" text-anchor="end" fill="#231f20" stroke="#231f20" stroke-width="0.1">10<tspan font-size="3.6" dy="-2.4">5</tspan></text>
<text x="234.20" y="266.40" font-size="6.0" text-anchor="end" fill="#231f20" stroke="#231f20" stroke-width="0.1">10<tspan font-size="3.6" dy="-2.4">4</tspan></text>
<text x="234.20" y="280.20" font-size="6.0" text-anchor="end" fill="#231f20" stroke="#231f20" stroke-width="0.1">10<tspan font-size="3.6" dy="-2.4">3</tspan></text>
<text x="233.00" y="293.20" font-size="6.0" text-anchor="end" fill="#231f20" stroke="#231f20" stroke-width="0.1">0</text>
<line x1="236.40" y1="252.00" x2="237.60" y2="252.00" stroke="#231f20" stroke-width="0.6" />
<line x1="236.40" y1="264.20" x2="237.60" y2="264.20" stroke="#231f20" stroke-width="0.6" />
<line x1="236.40" y1="278.00" x2="237.60" y2="278.00" stroke="#231f20" stroke-width="0.6" />
<line x1="236.40" y1="291.00" x2="237.60" y2="291.00" stroke="#231f20" stroke-width="0.6" />
<text x="248.60" y="310.20" font-size="6.0" text-anchor="middle" fill="#231f20" stroke="#231f20" stroke-width="0.1">0</text>
<text x="261.20" y="310.20" font-size="6.0" text-anchor="middle" fill="#231f20" stroke="#231f20" stroke-width="0.1">10<tspan font-size="3.6" dy="-2.4">3</tspan></text>
<text x="274.60" y="310.20" font-size="6.0" text-anchor="middle" fill="#231f20" stroke="#231f20" stroke-width="0.1">10<tspan font-size="3.6" dy="-2.4">4</tspan></text>
<text x="287.20" y="310.20" font-size="6.0" text-anchor="middle" fill="#231f20" stroke="#231f20" stroke-width="0.1">10<tspan font-size="3.6" dy="-2.4">5</tspan></text>
<line x1="248.60" y1="300.80" x2="248.60" y2="302.00" stroke="#231f20" stroke-width="0.6" />
<line x1="257.20" y1="300.80" x2="257.20" y2="302.00" stroke="#231f20" stroke-width="0.6" />
<line x1="271.60" y1="300.80" x2="271.60" y2="302.00" stroke="#231f20" stroke-width="0.6" />
<line x1="285.20" y1="300.80" x2="285.20" y2="302.00" stroke="#231f20" stroke-width="0.6" />
<line x1="246.00" y1="301.80" x2="250.20" y2="301.80" stroke="#231f20" stroke-width="1.0" />
<text x="227.05" y="243.40" font-size="7.21" fill="#c8102e" stroke="#c8102e" stroke-width="0.08" textLength="71.50" lengthAdjust="spacingAndGlyphs"><tspan font-style="italic">Mx1</tspan>-Cre inv(3) <tspan font-style="italic">Sf3b1</tspan><tspan font-size="4.8" dy="-2.4">K700E</tspan></text>
<line x1="10.80" y1="322.50" x2="10.80" y2="287.00" stroke="#111" stroke-width="1.0" />
<path d="M10.8,282.8 L8.4,287.8 L13.2,287.8 Z" fill="#111" />
<line x1="10.30" y1="322.50" x2="42.00" y2="322.50" stroke="#111" stroke-width="1.0" />
<path d="M46.4,322.5 L41.4,320.1 L41.4,324.9 Z" fill="#111" />
<text transform="translate(13.60 273.80) rotate(-90)" x="-6.10" y="0" font-size="7.21" fill="#231f20" stroke="#231f20" stroke-width="0.1" textLength="12.20" lengthAdjust="spacingAndGlyphs">c-Kit</text>
<text x="49.80" y="325.20" font-size="8.06" fill="#231f20" stroke="#231f20" stroke-width="0.1" textLength="80.80" lengthAdjust="spacingAndGlyphs">ScaI in CD45.2<tspan font-size="4.6" dy="-2.6">+</tspan><tspan dy="2.6">lineage</tspan><tspan font-size="4.6" dy="-2.6">−</tspan><tspan dy="2.6"> cells</tspan></text>
<text x="6.40" y="357.20" font-size="12.6" fill="#000" stroke="#000" stroke-width="0.45" font-weight="bold">E</text>
<circle cx="42.60" cy="429.11" r="2.25" fill="#3db54a" />
<circle cx="41.60" cy="430.86" r="2.25" fill="#3db54a" />
<circle cx="43.80" cy="431.30" r="2.25" fill="#3db54a" />
<circle cx="42.80" cy="431.74" r="2.25" fill="#3db54a" />
<circle cx="41.00" cy="431.96" r="2.25" fill="#3db54a" />
<circle cx="44.40" cy="432.40" r="2.25" fill="#3db54a" />
<line x1="53.10" y1="408.68" x2="53.10" y2="428.67" stroke="#3a3a3c" stroke-width="0.9" />
<rect x="49.30" y="413.73" width="7.60" height="13.18" fill="#fbc88a" />
<circle cx="53.10" cy="408.68" r="2.25" fill="#f7941d" />
<circle cx="53.90" cy="413.29" r="2.25" fill="#f7941d" />
<circle cx="54.70" cy="417.68" r="2.25" fill="#f7941d" />
<circle cx="51.70" cy="419.88" r="2.25" fill="#f7941d" />
<circle cx="53.10" cy="420.76" r="2.25" fill="#f7941d" />
<circle cx="54.70" cy="426.91" r="2.25" fill="#f7941d" />
<circle cx="51.90" cy="428.67" r="2.25" fill="#f7941d" />
<circle cx="65.30" cy="432.18" r="2.25" fill="#1b5592" />
<circle cx="64.10" cy="432.40" r="2.25" fill="#1b5592" />
<circle cx="62.90" cy="432.62" r="2.25" fill="#1b5592" />
<circle cx="61.90" cy="432.84" r="2.25" fill="#1b5592" />
<circle cx="63.70" cy="433.06" r="2.25" fill="#1b5592" />
<line x1="74.30" y1="381.88" x2="74.30" y2="428.45" stroke="#3a3a3c" stroke-width="0.9" />
<rect x="70.50" y="389.57" width="7.60" height="29.66" fill="#e58e9c" />
<line x1="71.10" y1="407.14" x2="77.50" y2="407.14" stroke="#231f20" stroke-width="0.7" />
<circle cx="74.30" cy="381.88" r="2.25" fill="#c8102e" />
<circle cx="73.90" cy="388.47" r="2.25" fill="#c8102e" />
<circle cx="74.70" cy="394.40" r="2.25" fill="#c8102e" />
<circle cx="74.30" cy="407.14" r="2.25" fill="#c8102e" />
<circle cx="74.30" cy="410.44" r="2.25" fill="#c8102e" />
<circle cx="74.30" cy="418.56" r="2.25" fill="#c8102e" />
<circle cx="74.30" cy="428.45" r="2.25" fill="#c8102e" />
<line x1="37.30" y1="363.30" x2="37.30" y2="434.20" stroke="#111" stroke-width="1.5" />
<line x1="36.60" y1="433.50" x2="82.80" y2="433.50" stroke="#111" stroke-width="1.4" />
<line x1="34.00" y1="433.50" x2="37.20" y2="433.50" stroke="#111" stroke-width="1.2" />
<text x="20.48" y="436.60" font-size="9.33" fill="#231f20" stroke="#231f20" stroke-width="0.1" textLength="11.12" lengthAdjust="spacingAndGlyphs">0.0</text>
<line x1="34.00" y1="422.52" x2="37.20" y2="422.52" stroke="#111" stroke-width="1.2" />
<text x="20.48" y="425.62" font-size="9.33" fill="#231f20" stroke="#231f20" stroke-width="0.1" textLength="11.12" lengthAdjust="spacingAndGlyphs">0.5</text>
<line x1="34.00" y1="411.53" x2="37.20" y2="411.53" stroke="#111" stroke-width="1.2" />
<text x="20.48" y="414.63" font-size="9.33" fill="#231f20" stroke="#231f20" stroke-width="0.1" textLength="11.12" lengthAdjust="spacingAndGlyphs">1.0</text>
<line x1="34.00" y1="400.55" x2="37.20" y2="400.55" stroke="#111" stroke-width="1.2" />
<text x="20.48" y="403.65" font-size="9.33" fill="#231f20" stroke="#231f20" stroke-width="0.1" textLength="11.12" lengthAdjust="spacingAndGlyphs">1.5</text>
<line x1="34.00" y1="389.57" x2="37.20" y2="389.57" stroke="#111" stroke-width="1.2" />
<text x="20.48" y="392.67" font-size="9.33" fill="#231f20" stroke="#231f20" stroke-width="0.1" textLength="11.12" lengthAdjust="spacingAndGlyphs">2.0</text>
<line x1="34.00" y1="378.58" x2="37.20" y2="378.58" stroke="#111" stroke-width="1.2" />
<text x="20.48" y="381.68" font-size="9.33" fill="#231f20" stroke="#231f20" stroke-width="0.1" textLength="11.12" lengthAdjust="spacingAndGlyphs">2.5</text>
<line x1="34.00" y1="367.60" x2="37.20" y2="367.60" stroke="#111" stroke-width="1.2" />
<text x="20.48" y="370.70" font-size="9.33" fill="#231f20" stroke="#231f20" stroke-width="0.1" textLength="11.12" lengthAdjust="spacingAndGlyphs">3.0</text>
<line x1="42.60" y1="433.50" x2="42.60" y2="436.70" stroke="#111" stroke-width="1.2" />
<line x1="53.10" y1="433.50" x2="53.10" y2="436.70" stroke="#111" stroke-width="1.2" />
<line x1="63.70" y1="433.50" x2="63.70" y2="436.70" stroke="#111" stroke-width="1.2" />
<line x1="74.30" y1="433.50" x2="74.30" y2="436.70" stroke="#111" stroke-width="1.2" />
<text x="46.50" y="357.00" font-size="8.69" fill="#231f20" stroke="#231f20" stroke-width="0.1" textLength="26.60" lengthAdjust="spacingAndGlyphs">LSK (%)</text>
<line x1="41.80" y1="371.80" x2="75.40" y2="371.80" stroke="#58595b" stroke-width="1.1" />
<text x="56.00" y="371.50" font-size="7.0" fill="#231f20" font-weight="bold" textLength="5.20" lengthAdjust="spacingAndGlyphs">**</text>
<line x1="64.70" y1="378.20" x2="77.20" y2="378.20" stroke="#58595b" stroke-width="1.1" />
<text x="68.35" y="377.90" font-size="7.0" fill="#231f20" font-weight="bold" textLength="5.20" lengthAdjust="spacingAndGlyphs">**</text>
<line x1="52.40" y1="401.40" x2="65.20" y2="401.40" stroke="#58595b" stroke-width="1.1" />
<text x="56.20" y="401.10" font-size="7.0" fill="#231f20" font-weight="bold" textLength="5.20" lengthAdjust="spacingAndGlyphs">**</text>
<line x1="41.80" y1="406.40" x2="55.20" y2="406.40" stroke="#58595b" stroke-width="1.1" />
<text x="45.90" y="406.10" font-size="7.0" fill="#231f20" font-weight="bold" textLength="5.20" lengthAdjust="spacingAndGlyphs">**</text>
<circle cx="116.10" cy="426.91" r="2.25" fill="#3db54a" />
<circle cx="115.10" cy="429.55" r="2.25" fill="#3db54a" />
<circle cx="117.10" cy="430.86" r="2.25" fill="#3db54a" />
<circle cx="114.50" cy="431.85" r="2.25" fill="#3db54a" />
<circle cx="117.50" cy="432.51" r="2.25" fill="#3db54a" />
<line x1="126.70" y1="413.73" x2="126.70" y2="431.85" stroke="#3a3a3c" stroke-width="0.9" />
<rect x="122.90" y="418.67" width="7.60" height="6.59" fill="#fbc88a" />
<circle cx="126.70" cy="413.73" r="2.25" fill="#f7941d" />
<circle cx="126.70" cy="419.33" r="2.25" fill="#f7941d" />
<circle cx="125.30" cy="421.97" r="2.25" fill="#f7941d" />
<circle cx="127.90" cy="423.62" r="2.25" fill="#f7941d" />
<circle cx="125.10" cy="424.60" r="2.25" fill="#f7941d" />
<circle cx="128.50" cy="425.26" r="2.25" fill="#f7941d" />
<circle cx="126.70" cy="431.52" r="2.25" fill="#f7941d" />
<circle cx="137.30" cy="430.20" r="2.25" fill="#1b5592" />
<circle cx="136.10" cy="431.52" r="2.25" fill="#1b5592" />
<circle cx="138.50" cy="432.18" r="2.25" fill="#1b5592" />
<circle cx="137.30" cy="432.84" r="2.25" fill="#1b5592" />
<line x1="147.60" y1="373.53" x2="147.60" y2="431.85" stroke="#3a3a3c" stroke-width="0.9" />
<rect x="143.80" y="378.47" width="7.60" height="49.43" fill="#e58e9c" />
<circle cx="147.60" cy="373.53" r="2.25" fill="#c8102e" />
<circle cx="147.60" cy="378.47" r="2.25" fill="#c8102e" />
<circle cx="147.60" cy="390.34" r="2.25" fill="#c8102e" />
<circle cx="149.60" cy="409.12" r="2.25" fill="#c8102e" />
<circle cx="145.60" cy="410.11" r="2.25" fill="#c8102e" />
<circle cx="147.60" cy="427.90" r="2.25" fill="#c8102e" />
<circle cx="147.60" cy="430.86" r="2.25" fill="#c8102e" />
<line x1="110.80" y1="363.30" x2="110.80" y2="434.20" stroke="#111" stroke-width="1.5" />
<line x1="110.10" y1="433.50" x2="156.40" y2="433.50" stroke="#111" stroke-width="1.4" />
<line x1="107.50" y1="433.50" x2="110.70" y2="433.50" stroke="#111" stroke-width="1.2" />
<text x="89.53" y="436.60" font-size="9.33" fill="#231f20" stroke="#231f20" stroke-width="0.1" textLength="15.58" lengthAdjust="spacingAndGlyphs">0.00</text>
<line x1="107.50" y1="417.02" x2="110.70" y2="417.02" stroke="#111" stroke-width="1.2" />
<text x="89.53" y="420.12" font-size="9.33" fill="#231f20" stroke="#231f20" stroke-width="0.1" textLength="15.58" lengthAdjust="spacingAndGlyphs">0.05</text>
<line x1="107.50" y1="400.55" x2="110.70" y2="400.55" stroke="#111" stroke-width="1.2" />
<text x="89.53" y="403.65" font-size="9.33" fill="#231f20" stroke="#231f20" stroke-width="0.1" textLength="15.58" lengthAdjust="spacingAndGlyphs">0.10</text>
<line x1="107.50" y1="384.08" x2="110.70" y2="384.08" stroke="#111" stroke-width="1.2" />
<text x="89.53" y="387.18" font-size="9.33" fill="#231f20" stroke="#231f20" stroke-width="0.1" textLength="15.58" lengthAdjust="spacingAndGlyphs">0.15</text>
<line x1="107.50" y1="367.60" x2="110.70" y2="367.60" stroke="#111" stroke-width="1.2" />
<text x="89.53" y="370.70" font-size="9.33" fill="#231f20" stroke="#231f20" stroke-width="0.1" textLength="15.58" lengthAdjust="spacingAndGlyphs">0.20</text>
<line x1="116.10" y1="433.50" x2="116.10" y2="436.70" stroke="#111" stroke-width="1.2" />
<line x1="126.70" y1="433.50" x2="126.70" y2="436.70" stroke="#111" stroke-width="1.2" />
<line x1="137.30" y1="433.50" x2="137.30" y2="436.70" stroke="#111" stroke-width="1.2" />
<line x1="147.60" y1="433.50" x2="147.60" y2="436.70" stroke="#111" stroke-width="1.2" />
<text x="116.60" y="357.00" font-size="8.69" fill="#231f20" stroke="#231f20" stroke-width="0.1" textLength="33.60" lengthAdjust="spacingAndGlyphs">MPP2 (%)</text>
<line x1="117.60" y1="365.50" x2="150.80" y2="365.50" stroke="#58595b" stroke-width="1.1" />
<text x="134.20" y="365.20" font-size="7.0" text-anchor="middle" fill="#231f20" font-weight="bold">*</text>
<line x1="136.30" y1="371.10" x2="149.40" y2="371.10" stroke="#58595b" stroke-width="1.1" />
<text x="142.85" y="370.80" font-size="7.0" text-anchor="middle" fill="#231f20" font-weight="bold">*</text>
<line x1="126.00" y1="402.40" x2="139.20" y2="402.40" stroke="#58595b" stroke-width="1.1" />
<text x="130.00" y="402.10" font-size="7.0" fill="#231f20" font-weight="bold" textLength="5.20" lengthAdjust="spacingAndGlyphs">**</text>
<line x1="116.80" y1="407.80" x2="129.60" y2="407.80" stroke="#58595b" stroke-width="1.1" />
<text x="123.20" y="407.50" font-size="7.0" text-anchor="middle" fill="#231f20" font-weight="bold">*</text>
<circle cx="185.70" cy="429.22" r="2.25" fill="#3db54a" />
<circle cx="185.10" cy="430.86" r="2.25" fill="#3db54a" />
<circle cx="186.70" cy="431.85" r="2.25" fill="#3db54a" />
<circle cx="184.30" cy="432.51" r="2.25" fill="#3db54a" />
<line x1="196.30" y1="399.89" x2="196.30" y2="427.24" stroke="#3a3a3c" stroke-width="0.9" />
<rect x="192.50" y="407.14" width="7.60" height="19.11" fill="#fbc88a" />
<line x1="193.10" y1="414.39" x2="199.50" y2="414.39" stroke="#231f20" stroke-width="0.7" />
<circle cx="197.10" cy="399.89" r="2.25" fill="#f7941d" />
<circle cx="194.90" cy="409.78" r="2.25" fill="#f7941d" />
<circle cx="198.10" cy="413.07" r="2.25" fill="#f7941d" />
<circle cx="196.30" cy="417.02" r="2.25" fill="#f7941d" />
<circle cx="198.10" cy="424.27" r="2.25" fill="#f7941d" />
<circle cx="195.10" cy="426.91" r="2.25" fill="#f7941d" />
<circle cx="208.50" cy="432.18" r="2.25" fill="#1b5592" />
<circle cx="207.30" cy="432.51" r="2.25" fill="#1b5592" />
<circle cx="206.10" cy="432.51" r="2.25" fill="#1b5592" />
<circle cx="205.10" cy="432.84" r="2.25" fill="#1b5592" />
<line x1="217.20" y1="374.19" x2="217.20" y2="426.58" stroke="#3a3a3c" stroke-width="0.9" />
<rect x="213.40" y="375.84" width="7.60" height="38.55" fill="#e58e9c" />
<circle cx="215.60" cy="374.19" r="2.25" fill="#c8102e" />
<circle cx="219.00" cy="376.17" r="2.25" fill="#c8102e" />
<circle cx="217.20" cy="385.06" r="2.25" fill="#c8102e" />
<circle cx="215.40" cy="406.15" r="2.25" fill="#c8102e" />
<circle cx="219.00" cy="406.15" r="2.25" fill="#c8102e" />
<circle cx="217.20" cy="414.39" r="2.25" fill="#c8102e" />
<circle cx="217.20" cy="426.58" r="2.25" fill="#c8102e" />
<line x1="179.40" y1="363.30" x2="179.40" y2="434.20" stroke="#111" stroke-width="1.5" />
<line x1="178.70" y1="433.50" x2="225.00" y2="433.50" stroke="#111" stroke-width="1.4" />
<line x1="176.10" y1="433.50" x2="179.30" y2="433.50" stroke="#111" stroke-width="1.2" />
<text x="162.58" y="436.60" font-size="9.33" fill="#231f20" stroke="#231f20" stroke-width="0.1" textLength="11.12" lengthAdjust="spacingAndGlyphs">0.0</text>
<line x1="176.10" y1="417.02" x2="179.30" y2="417.02" stroke="#111" stroke-width="1.2" />
<text x="162.58" y="420.12" font-size="9.33" fill="#231f20" stroke="#231f20" stroke-width="0.1" textLength="11.12" lengthAdjust="spacingAndGlyphs">0.5</text>
<line x1="176.10" y1="400.55" x2="179.30" y2="400.55" stroke="#111" stroke-width="1.2" />
<text x="162.58" y="403.65" font-size="9.33" fill="#231f20" stroke="#231f20" stroke-width="0.1" textLength="11.12" lengthAdjust="spacingAndGlyphs">1.0</text>
<line x1="176.10" y1="384.08" x2="179.30" y2="384.08" stroke="#111" stroke-width="1.2" />
<text x="162.58" y="387.18" font-size="9.33" fill="#231f20" stroke="#231f20" stroke-width="0.1" textLength="11.12" lengthAdjust="spacingAndGlyphs">1.5</text>
<line x1="176.10" y1="367.60" x2="179.30" y2="367.60" stroke="#111" stroke-width="1.2" />
<text x="162.58" y="370.70" font-size="9.33" fill="#231f20" stroke="#231f20" stroke-width="0.1" textLength="11.12" lengthAdjust="spacingAndGlyphs">2.0</text>
<line x1="185.70" y1="433.50" x2="185.70" y2="436.70" stroke="#111" stroke-width="1.2" />
<line x1="196.30" y1="433.50" x2="196.30" y2="436.70" stroke="#111" stroke-width="1.2" />
<line x1="206.90" y1="433.50" x2="206.90" y2="436.70" stroke="#111" stroke-width="1.2" />
<line x1="217.20" y1="433.50" x2="217.20" y2="436.70" stroke="#111" stroke-width="1.2" />
<text x="185.00" y="357.00" font-size="8.69" fill="#231f20" stroke="#231f20" stroke-width="0.1" textLength="33.60" lengthAdjust="spacingAndGlyphs">MPP3 (%)</text>
<line x1="183.30" y1="366.20" x2="216.40" y2="366.20" stroke="#58595b" stroke-width="1.1" />
<text x="197.25" y="365.90" font-size="7.0" fill="#231f20" font-weight="bold" textLength="5.20" lengthAdjust="spacingAndGlyphs">**</text>
<line x1="205.40" y1="370.80" x2="218.60" y2="370.80" stroke="#58595b" stroke-width="1.1" />
<text x="209.40" y="370.50" font-size="7.0" fill="#231f20" font-weight="bold" textLength="5.20" lengthAdjust="spacingAndGlyphs">**</text>
<line x1="194.60" y1="392.00" x2="207.80" y2="392.00" stroke="#58595b" stroke-width="1.1" />
<text x="198.60" y="391.70" font-size="7.0" fill="#231f20" font-weight="bold" textLength="5.20" lengthAdjust="spacingAndGlyphs">**</text>
<line x1="183.30" y1="395.50" x2="197.00" y2="395.50" stroke="#58595b" stroke-width="1.1" />
<text x="187.55" y="395.20" font-size="7.0" fill="#231f20" font-weight="bold" textLength="5.20" lengthAdjust="spacingAndGlyphs">**</text>
<line x1="254.30" y1="405.82" x2="254.30" y2="423.62" stroke="#3a3a3c" stroke-width="0.9" />
<rect x="250.50" y="413.73" width="7.60" height="6.59" fill="#a5dcab" />
<circle cx="254.30" cy="405.82" r="2.25" fill="#3db54a" />
<circle cx="254.30" cy="414.39" r="2.25" fill="#3db54a" />
<circle cx="252.90" cy="415.71" r="2.25" fill="#3db54a" />
<circle cx="255.70" cy="416.37" r="2.25" fill="#3db54a" />
<circle cx="254.30" cy="417.02" r="2.25" fill="#3db54a" />
<circle cx="254.90" cy="420.98" r="2.25" fill="#3db54a" />
<circle cx="253.90" cy="423.62" r="2.25" fill="#3db54a" />
<line x1="264.90" y1="405.16" x2="264.90" y2="421.64" stroke="#3a3a3c" stroke-width="0.9" />
<rect x="261.10" y="409.12" width="7.60" height="6.59" fill="#fbc88a" />
<circle cx="264.90" cy="405.16" r="2.25" fill="#f7941d" />
<circle cx="264.30" cy="409.78" r="2.25" fill="#f7941d" />
<circle cx="266.50" cy="410.44" r="2.25" fill="#f7941d" />
<circle cx="263.30" cy="411.09" r="2.25" fill="#f7941d" />
<circle cx="264.90" cy="415.05" r="2.25" fill="#f7941d" />
<circle cx="264.90" cy="421.64" r="2.25" fill="#f7941d" />
<line x1="275.20" y1="417.02" x2="275.20" y2="432.84" stroke="#3a3a3c" stroke-width="0.9" />
<rect x="271.40" y="424.93" width="7.60" height="5.27" fill="#8eaaca" />
<circle cx="275.20" cy="417.02" r="2.25" fill="#1b5592" />
<circle cx="274.00" cy="426.25" r="2.25" fill="#1b5592" />
<circle cx="275.80" cy="426.91" r="2.25" fill="#1b5592" />
<circle cx="276.80" cy="427.57" r="2.25" fill="#1b5592" />
<circle cx="276.40" cy="429.55" r="2.25" fill="#1b5592" />
<circle cx="275.20" cy="432.18" r="2.25" fill="#1b5592" />
<line x1="285.70" y1="381.44" x2="285.70" y2="414.39" stroke="#3a3a3c" stroke-width="0.9" />
<rect x="281.90" y="384.08" width="7.60" height="29.65" fill="#e58e9c" />
<circle cx="284.30" cy="381.44" r="2.25" fill="#c8102e" />
<circle cx="287.50" cy="384.73" r="2.25" fill="#c8102e" />
<circle cx="286.10" cy="392.64" r="2.25" fill="#c8102e" />
<circle cx="287.50" cy="395.94" r="2.25" fill="#c8102e" />
<circle cx="284.10" cy="397.91" r="2.25" fill="#c8102e" />
<circle cx="287.50" cy="412.41" r="2.25" fill="#c8102e" />
<circle cx="284.30" cy="414.39" r="2.25" fill="#c8102e" />
<line x1="248.40" y1="363.30" x2="248.40" y2="434.20" stroke="#111" stroke-width="1.5" />
<line x1="247.70" y1="433.50" x2="293.40" y2="433.50" stroke="#111" stroke-width="1.4" />
<line x1="245.10" y1="433.50" x2="248.30" y2="433.50" stroke="#111" stroke-width="1.2" />
<text x="231.58" y="436.60" font-size="9.33" fill="#231f20" stroke="#231f20" stroke-width="0.1" textLength="11.12" lengthAdjust="spacingAndGlyphs">0.0</text>
<line x1="245.10" y1="420.32" x2="248.30" y2="420.32" stroke="#111" stroke-width="1.2" />
<text x="231.58" y="423.42" font-size="9.33" fill="#231f20" stroke="#231f20" stroke-width="0.1" textLength="11.12" lengthAdjust="spacingAndGlyphs">0.2</text>
<line x1="245.10" y1="407.14" x2="248.30" y2="407.14" stroke="#111" stroke-width="1.2" />
<text x="231.58" y="410.24" font-size="9.33" fill="#231f20" stroke="#231f20" stroke-width="0.1" textLength="11.12" lengthAdjust="spacingAndGlyphs">0.4</text>
<line x1="245.10" y1="393.96" x2="248.30" y2="393.96" stroke="#111" stroke-width="1.2" />
<text x="231.58" y="397.06" font-size="9.33" fill="#231f20" stroke="#231f20" stroke-width="0.1" textLength="11.12" lengthAdjust="spacingAndGlyphs">0.6</text>
<line x1="245.10" y1="380.78" x2="248.30" y2="380.78" stroke="#111" stroke-width="1.2" />
<text x="231.58" y="383.88" font-size="9.33" fill="#231f20" stroke="#231f20" stroke-width="0.1" textLength="11.12" lengthAdjust="spacingAndGlyphs">0.8</text>
<line x1="245.10" y1="367.60" x2="248.30" y2="367.60" stroke="#111" stroke-width="1.2" />
<text x="231.58" y="370.70" font-size="9.33" fill="#231f20" stroke="#231f20" stroke-width="0.1" textLength="11.12" lengthAdjust="spacingAndGlyphs">1.0</text>
<line x1="254.30" y1="433.50" x2="254.30" y2="436.70" stroke="#111" stroke-width="1.2" />
<line x1="264.90" y1="433.50" x2="264.90" y2="436.70" stroke="#111" stroke-width="1.2" />
<line x1="275.20" y1="433.50" x2="275.20" y2="436.70" stroke="#111" stroke-width="1.2" />
<line x1="285.70" y1="433.50" x2="285.70" y2="436.70" stroke="#111" stroke-width="1.2" />
<text x="255.60" y="357.00" font-size="8.69" fill="#231f20" stroke="#231f20" stroke-width="0.1" textLength="30.00" lengthAdjust="spacingAndGlyphs">CMP (%)</text>
<line x1="254.00" y1="367.30" x2="286.80" y2="367.30" stroke="#58595b" stroke-width="1.1" />
<text x="267.80" y="367.00" font-size="7.0" fill="#231f20" font-weight="bold" textLength="5.20" lengthAdjust="spacingAndGlyphs">**</text>
<line x1="263.90" y1="371.80" x2="287.60" y2="371.80" stroke="#58595b" stroke-width="1.1" />
<text x="275.75" y="371.50" font-size="7.0" text-anchor="middle" fill="#231f20" font-weight="bold">*</text>
<line x1="274.50" y1="377.70" x2="287.20" y2="377.70" stroke="#58595b" stroke-width="1.1" />
<text x="276.95" y="377.40" font-size="7.0" fill="#231f20" font-weight="bold" textLength="7.80" lengthAdjust="spacingAndGlyphs">***</text>
<line x1="262.20" y1="399.60" x2="275.20" y2="399.60" stroke="#58595b" stroke-width="1.1" />
<text x="264.80" y="399.30" font-size="7.0" fill="#231f20" font-weight="bold" textLength="7.80" lengthAdjust="spacingAndGlyphs">***</text>
<rect x="33.20" y="450.40" width="5.20" height="5.20" fill="#3db54a" />
<text x="41.40" y="455.20" font-size="6.57" fill="#231f20" stroke="#231f20" stroke-width="0.1" textLength="24.40" lengthAdjust="spacingAndGlyphs"><tspan font-style="italic">Mx1-Cre</tspan></text>
<rect x="71.70" y="450.40" width="5.20" height="5.20" fill="#1b5592" />
<text x="80.00" y="455.20" font-size="6.57" fill="#231f20" stroke="#231f20" stroke-width="0.1" textLength="63.50" lengthAdjust="spacingAndGlyphs"><tspan font-style="italic">Mx1-Cre Sf3b1</tspan><tspan font-size="4.3" dy="-2.2">K700E/WT</tspan></text>
<rect x="149.40" y="450.40" width="5.20" height="5.20" fill="#f7941d" />
<text x="157.40" y="455.20" font-size="6.57" fill="#231f20" stroke="#231f20" stroke-width="0.1" textLength="41.40" lengthAdjust="spacingAndGlyphs"><tspan font-style="italic">Mx1</tspan>-Cre inv(3)</text>
<rect x="204.50" y="450.40" width="5.20" height="5.20" fill="#c8102e" />
<text x="213.00" y="455.20" font-size="6.57" fill="#231f20" stroke="#231f20" stroke-width="0.1" textLength="80.60" lengthAdjust="spacingAndGlyphs"><tspan font-style="italic">Mx1</tspan>-Cre inv(3) <tspan font-style="italic">Sf3b1</tspan><tspan font-size="4.3" dy="-2.2">K700E/WT</tspan></text>
<text x="305.60" y="231.00" font-size="12.6" fill="#000" stroke="#000" stroke-width="0.45" font-weight="bold">F</text>
<line x1="349.04" y1="276.20" x2="349.04" y2="268.86" stroke="#111" stroke-width="1.05" />
<line x1="347.04" y1="276.20" x2="351.04" y2="276.20" stroke="#111" stroke-width="1.05" />
<line x1="347.04" y1="268.86" x2="351.04" y2="268.86" stroke="#111" stroke-width="1.05" />
<line x1="349.04" y1="279.87" x2="349.04" y2="272.53" stroke="#111" stroke-width="1.05" />
<line x1="347.04" y1="279.87" x2="351.04" y2="279.87" stroke="#111" stroke-width="1.05" />
<line x1="347.04" y1="272.53" x2="351.04" y2="272.53" stroke="#111" stroke-width="1.05" />
<line x1="349.04" y1="291.62" x2="349.04" y2="283.54" stroke="#111" stroke-width="1.05" />
<line x1="347.04" y1="291.62" x2="351.04" y2="291.62" stroke="#111" stroke-width="1.05" />
<line x1="347.04" y1="283.54" x2="351.04" y2="283.54" stroke="#111" stroke-width="1.05" />
<line x1="349.04" y1="295.29" x2="349.04" y2="287.95" stroke="#111" stroke-width="1.05" />
<line x1="347.04" y1="295.29" x2="351.04" y2="295.29" stroke="#111" stroke-width="1.05" />
<line x1="347.04" y1="287.95" x2="351.04" y2="287.95" stroke="#111" stroke-width="1.05" />
<line x1="365.45" y1="284.28" x2="365.45" y2="254.18" stroke="#111" stroke-width="1.05" />
<line x1="363.45" y1="284.28" x2="367.45" y2="284.28" stroke="#111" stroke-width="1.05" />
<line x1="363.45" y1="254.18" x2="367.45" y2="254.18" stroke="#111" stroke-width="1.05" />
<line x1="365.45" y1="296.02" x2="365.45" y2="286.48" stroke="#111" stroke-width="1.05" />
<line x1="363.45" y1="296.02" x2="367.45" y2="296.02" stroke="#111" stroke-width="1.05" />
<line x1="363.45" y1="286.48" x2="367.45" y2="286.48" stroke="#111" stroke-width="1.05" />
<line x1="365.45" y1="299.69" x2="365.45" y2="292.35" stroke="#111" stroke-width="1.05" />
<line x1="363.45" y1="299.69" x2="367.45" y2="299.69" stroke="#111" stroke-width="1.05" />
<line x1="363.45" y1="292.35" x2="367.45" y2="292.35" stroke="#111" stroke-width="1.05" />
<line x1="365.45" y1="307.03" x2="365.45" y2="298.96" stroke="#111" stroke-width="1.05" />
<line x1="363.45" y1="307.03" x2="367.45" y2="307.03" stroke="#111" stroke-width="1.05" />
<line x1="363.45" y1="298.96" x2="367.45" y2="298.96" stroke="#111" stroke-width="1.05" />
<line x1="381.86" y1="304.83" x2="381.86" y2="246.11" stroke="#111" stroke-width="1.05" />
<line x1="379.86" y1="304.83" x2="383.86" y2="304.83" stroke="#111" stroke-width="1.05" />
<line x1="379.86" y1="246.11" x2="383.86" y2="246.11" stroke="#111" stroke-width="1.05" />
<line x1="381.86" y1="293.08" x2="381.86" y2="280.61" stroke="#111" stroke-width="1.05" />
<line x1="379.86" y1="293.08" x2="383.86" y2="293.08" stroke="#111" stroke-width="1.05" />
<line x1="379.86" y1="280.61" x2="383.86" y2="280.61" stroke="#111" stroke-width="1.05" />
<line x1="381.86" y1="298.22" x2="381.86" y2="292.35" stroke="#111" stroke-width="1.05" />
<line x1="379.86" y1="298.22" x2="383.86" y2="298.22" stroke="#111" stroke-width="1.05" />
<line x1="379.86" y1="292.35" x2="383.86" y2="292.35" stroke="#111" stroke-width="1.05" />
<line x1="381.86" y1="309.23" x2="381.86" y2="296.75" stroke="#111" stroke-width="1.05" />
<line x1="379.86" y1="309.23" x2="383.86" y2="309.23" stroke="#111" stroke-width="1.05" />
<line x1="379.86" y1="296.75" x2="383.86" y2="296.75" stroke="#111" stroke-width="1.05" />
<line x1="398.27" y1="279.14" x2="398.27" y2="248.31" stroke="#111" stroke-width="1.05" />
<line x1="396.27" y1="279.14" x2="400.27" y2="279.14" stroke="#111" stroke-width="1.05" />
<line x1="396.27" y1="248.31" x2="400.27" y2="248.31" stroke="#111" stroke-width="1.05" />
<line x1="398.27" y1="288.68" x2="398.27" y2="268.86" stroke="#111" stroke-width="1.05" />
<line x1="396.27" y1="288.68" x2="400.27" y2="288.68" stroke="#111" stroke-width="1.05" />
<line x1="396.27" y1="268.86" x2="400.27" y2="268.86" stroke="#111" stroke-width="1.05" />
<line x1="398.27" y1="298.96" x2="398.27" y2="290.88" stroke="#111" stroke-width="1.05" />
<line x1="396.27" y1="298.96" x2="400.27" y2="298.96" stroke="#111" stroke-width="1.05" />
<line x1="396.27" y1="290.88" x2="400.27" y2="290.88" stroke="#111" stroke-width="1.05" />
<line x1="398.27" y1="307.03" x2="398.27" y2="298.96" stroke="#111" stroke-width="1.05" />
<line x1="396.27" y1="307.03" x2="400.27" y2="307.03" stroke="#111" stroke-width="1.05" />
<line x1="396.27" y1="298.96" x2="400.27" y2="298.96" stroke="#111" stroke-width="1.05" />
<line x1="414.68" y1="273.27" x2="414.68" y2="251.25" stroke="#111" stroke-width="1.05" />
<line x1="412.68" y1="273.27" x2="416.68" y2="273.27" stroke="#111" stroke-width="1.05" />
<line x1="412.68" y1="251.25" x2="416.68" y2="251.25" stroke="#111" stroke-width="1.05" />
<line x1="414.68" y1="290.15" x2="414.68" y2="270.33" stroke="#111" stroke-width="1.05" />
<line x1="412.68" y1="290.15" x2="416.68" y2="290.15" stroke="#111" stroke-width="1.05" />
<line x1="412.68" y1="270.33" x2="416.68" y2="270.33" stroke="#111" stroke-width="1.05" />
<line x1="414.68" y1="298.22" x2="414.68" y2="288.68" stroke="#111" stroke-width="1.05" />
<line x1="412.68" y1="298.22" x2="416.68" y2="298.22" stroke="#111" stroke-width="1.05" />
<line x1="412.68" y1="288.68" x2="416.68" y2="288.68" stroke="#111" stroke-width="1.05" />
<line x1="414.68" y1="305.56" x2="414.68" y2="284.28" stroke="#111" stroke-width="1.05" />
<line x1="412.68" y1="305.56" x2="416.68" y2="305.56" stroke="#111" stroke-width="1.05" />
<line x1="412.68" y1="284.28" x2="416.68" y2="284.28" stroke="#111" stroke-width="1.05" />
<line x1="431.09" y1="268.13" x2="431.09" y2="254.18" stroke="#111" stroke-width="1.05" />
<line x1="429.09" y1="268.13" x2="433.09" y2="268.13" stroke="#111" stroke-width="1.05" />
<line x1="429.09" y1="254.18" x2="433.09" y2="254.18" stroke="#111" stroke-width="1.05" />
<line x1="431.09" y1="288.68" x2="431.09" y2="271.06" stroke="#111" stroke-width="1.05" />
<line x1="429.09" y1="288.68" x2="433.09" y2="288.68" stroke="#111" stroke-width="1.05" />
<line x1="429.09" y1="271.06" x2="433.09" y2="271.06" stroke="#111" stroke-width="1.05" />
<line x1="431.09" y1="296.75" x2="431.09" y2="287.95" stroke="#111" stroke-width="1.05" />
<line x1="429.09" y1="296.75" x2="433.09" y2="296.75" stroke="#111" stroke-width="1.05" />
<line x1="429.09" y1="287.95" x2="433.09" y2="287.95" stroke="#111" stroke-width="1.05" />
<line x1="431.09" y1="304.83" x2="431.09" y2="281.34" stroke="#111" stroke-width="1.05" />
<line x1="429.09" y1="304.83" x2="433.09" y2="304.83" stroke="#111" stroke-width="1.05" />
<line x1="429.09" y1="281.34" x2="433.09" y2="281.34" stroke="#111" stroke-width="1.05" />
<path d="M349.04,291.62 L365.45,303.36 L381.86,303.36 L398.27,303.36 L414.68,294.55 L431.09,292.35" fill="none" stroke="#1b5592" stroke-width="1.5" stroke-linejoin="round"/>
<circle cx="349.04" cy="291.62" r="2.2" fill="#1b5592" />
<circle cx="365.45" cy="303.36" r="2.2" fill="#1b5592" />
<circle cx="381.86" cy="303.36" r="2.2" fill="#1b5592" />
<circle cx="398.27" cy="303.36" r="2.2" fill="#1b5592" />
<circle cx="414.68" cy="294.55" r="2.2" fill="#1b5592" />
<circle cx="431.09" cy="292.35" r="2.2" fill="#1b5592" />
<path d="M349.04,288.68 L365.45,296.02 L381.86,295.29 L398.27,294.55 L414.68,293.08 L431.09,292.35" fill="none" stroke="#3db54a" stroke-width="1.5" stroke-linejoin="round"/>
<circle cx="349.04" cy="288.68" r="2.2" fill="#3db54a" />
<circle cx="365.45" cy="296.02" r="2.2" fill="#3db54a" />
<circle cx="381.86" cy="295.29" r="2.2" fill="#3db54a" />
<circle cx="398.27" cy="294.55" r="2.2" fill="#3db54a" />
<circle cx="414.68" cy="293.08" r="2.2" fill="#3db54a" />
<circle cx="431.09" cy="292.35" r="2.2" fill="#3db54a" />
<path d="M349.04,276.20 L365.45,290.88 L381.86,285.01 L398.27,278.40 L414.68,280.61 L431.09,279.87" fill="none" stroke="#f7941d" stroke-width="1.5" stroke-linejoin="round"/>
<circle cx="349.04" cy="276.20" r="2.2" fill="#f7941d" />
<circle cx="365.45" cy="290.88" r="2.2" fill="#f7941d" />
<circle cx="381.86" cy="285.01" r="2.2" fill="#f7941d" />
<circle cx="398.27" cy="278.40" r="2.2" fill="#f7941d" />
<circle cx="414.68" cy="280.61" r="2.2" fill="#f7941d" />
<circle cx="431.09" cy="279.87" r="2.2" fill="#f7941d" />
<path d="M349.04,272.53 L365.45,269.60 L381.86,265.19 L398.27,263.72 L414.68,262.26 L431.09,261.52" fill="none" stroke="#c8102e" stroke-width="1.5" stroke-linejoin="round"/>
<circle cx="349.04" cy="272.53" r="2.2" fill="#c8102e" />
<circle cx="365.45" cy="269.60" r="2.2" fill="#c8102e" />
<circle cx="381.86" cy="265.19" r="2.2" fill="#c8102e" />
<circle cx="398.27" cy="263.72" r="2.2" fill="#c8102e" />
<circle cx="414.68" cy="262.26" r="2.2" fill="#c8102e" />
<circle cx="431.09" cy="261.52" r="2.2" fill="#c8102e" />
<line x1="338.10" y1="233.60" x2="338.10" y2="311.20" stroke="#111" stroke-width="1.45" />
<line x1="337.60" y1="310.70" x2="451.40" y2="310.70" stroke="#111" stroke-width="1.45" />
<line x1="334.90" y1="310.70" x2="338.10" y2="310.70" stroke="#111" stroke-width="1.2" />
<text x="327.25" y="313.80" font-size="9.33" fill="#231f20" stroke="#231f20" stroke-width="0.1" textLength="4.45" lengthAdjust="spacingAndGlyphs">0</text>
<line x1="334.90" y1="296.02" x2="338.10" y2="296.02" stroke="#111" stroke-width="1.2" />
<text x="322.80" y="299.12" font-size="9.33" fill="#231f20" stroke="#231f20" stroke-width="0.1" textLength="8.90" lengthAdjust="spacingAndGlyphs">20</text>
<line x1="334.90" y1="281.34" x2="338.10" y2="281.34" stroke="#111" stroke-width="1.2" />
<text x="322.80" y="284.44" font-size="9.33" fill="#231f20" stroke="#231f20" stroke-width="0.1" textLength="8.90" lengthAdjust="spacingAndGlyphs">40</text>
<line x1="334.90" y1="266.66" x2="338.10" y2="266.66" stroke="#111" stroke-width="1.2" />
<text x="322.80" y="269.76" font-size="9.33" fill="#231f20" stroke="#231f20" stroke-width="0.1" textLength="8.90" lengthAdjust="spacingAndGlyphs">60</text>
<line x1="334.90" y1="251.98" x2="338.10" y2="251.98" stroke="#111" stroke-width="1.2" />
<text x="322.80" y="255.08" font-size="9.33" fill="#231f20" stroke="#231f20" stroke-width="0.1" textLength="8.90" lengthAdjust="spacingAndGlyphs">80</text>
<line x1="334.90" y1="237.30" x2="338.10" y2="237.30" stroke="#111" stroke-width="1.2" />
<text x="318.35" y="240.40" font-size="9.33" fill="#231f20" stroke="#231f20" stroke-width="0.1" textLength="13.35" lengthAdjust="spacingAndGlyphs">100</text>
<line x1="338.10" y1="310.70" x2="338.10" y2="313.70" stroke="#111" stroke-width="1.2" />
<text x="335.88" y="321.90" font-size="9.33" fill="#231f20" stroke="#231f20" stroke-width="0.1" textLength="4.45" lengthAdjust="spacingAndGlyphs">0</text>
<line x1="359.98" y1="310.70" x2="359.98" y2="313.70" stroke="#111" stroke-width="1.2" />
<text x="357.75" y="321.90" font-size="9.33" fill="#231f20" stroke="#231f20" stroke-width="0.1" textLength="4.45" lengthAdjust="spacingAndGlyphs">2</text>
<line x1="381.86" y1="310.70" x2="381.86" y2="313.70" stroke="#111" stroke-width="1.2" />
<text x="379.63" y="321.90" font-size="9.33" fill="#231f20" stroke="#231f20" stroke-width="0.1" textLength="4.45" lengthAdjust="spacingAndGlyphs">4</text>
<line x1="403.74" y1="310.70" x2="403.74" y2="313.70" stroke="#111" stroke-width="1.2" />
<text x="401.51" y="321.90" font-size="9.33" fill="#231f20" stroke="#231f20" stroke-width="0.1" textLength="4.45" lengthAdjust="spacingAndGlyphs">6</text>
<line x1="425.62" y1="310.70" x2="425.62" y2="313.70" stroke="#111" stroke-width="1.2" />
<text x="423.39" y="321.90" font-size="9.33" fill="#231f20" stroke="#231f20" stroke-width="0.1" textLength="4.45" lengthAdjust="spacingAndGlyphs">8</text>
<line x1="447.50" y1="310.70" x2="447.50" y2="313.70" stroke="#111" stroke-width="1.2" />
<text x="443.05" y="321.90" font-size="9.33" fill="#231f20" stroke="#231f20" stroke-width="0.1" textLength="8.90" lengthAdjust="spacingAndGlyphs">10</text>
<text x="381.90" y="335.80" font-size="8.9" fill="#231f20" stroke="#231f20" stroke-width="0.1" textLength="25.40" lengthAdjust="spacingAndGlyphs">Months</text>
<text transform="translate(314.40 271.95) rotate(-90)" x="-21.90" y="0" font-size="9.33" fill="#231f20" stroke="#231f20" stroke-width="0.1" textLength="43.80" lengthAdjust="spacingAndGlyphs">% Blood cells</text>
<text x="340.85" y="229.60" font-size="8.48" fill="#231f20" stroke="#231f20" stroke-width="0.1" textLength="107.50" lengthAdjust="spacingAndGlyphs">CD11b<tspan font-size="4.6" dy="-2.8">+</tspan><tspan dy="2.8">Gr1</tspan><tspan font-size="4.6" dy="-2.8">+</tspan><tspan dy="2.8"> cells in CD45.2%</tspan></text>
<text x="435.80" y="260.00" font-size="6.68" fill="#c8102e" stroke="#c8102e" stroke-width="0.08" textLength="41.60" lengthAdjust="spacingAndGlyphs"><tspan font-style="italic">Mx1</tspan>-Cre inv(3)</text>
<text x="435.80" y="267.80" font-size="6.68" fill="#c8102e" stroke="#c8102e" stroke-width="0.08" textLength="28.40" lengthAdjust="spacingAndGlyphs"><tspan font-style="italic">Sf3b1</tspan><tspan font-size="4.2" dy="-2.2">K700E</tspan></text>
<text x="436.60" y="281.20" font-size="6.68" fill="#f7941d" stroke="#f7941d" stroke-width="0.08" textLength="41.60" lengthAdjust="spacingAndGlyphs"><tspan font-style="italic">Mx1</tspan>-Cre inv(3)</text>
<text x="436.00" y="291.40" font-size="6.68" fill="#1b5592" stroke="#1b5592" stroke-width="0.08" textLength="54.00" lengthAdjust="spacingAndGlyphs"><tspan font-style="italic">Mx1</tspan>-Cre <tspan font-style="italic">Sf3b1</tspan><tspan font-size="4.2" dy="-2.2">K700E</tspan></text>
<text x="436.00" y="298.60" font-size="6.68" fill="#3db54a" stroke="#3db54a" stroke-width="0.08" textLength="24.00" lengthAdjust="spacingAndGlyphs"><tspan font-style="italic">Mx1</tspan>-Cre</text>
<line x1="483.50" y1="258.00" x2="483.50" y2="276.60" stroke="#58595b" stroke-width="0.9" />
<text x="485.80" y="272.00" font-size="7.95" fill="#231f20" stroke="#231f20" stroke-width="0.1" textLength="7.20" lengthAdjust="spacingAndGlyphs">***</text>
<line x1="495.80" y1="257.00" x2="495.80" y2="288.20" stroke="#58595b" stroke-width="0.9" />
<line x1="500.00" y1="257.00" x2="500.00" y2="293.60" stroke="#58595b" stroke-width="0.9" />
<text x="501.90" y="278.60" font-size="7.95" fill="#231f20" stroke="#231f20" stroke-width="0.1" textLength="10.20" lengthAdjust="spacingAndGlyphs">****</text>
<line x1="349.04" y1="397.52" x2="349.04" y2="365.41" stroke="#111" stroke-width="1.05" />
<line x1="347.04" y1="397.52" x2="351.04" y2="397.52" stroke="#111" stroke-width="1.05" />
<line x1="347.04" y1="365.41" x2="351.04" y2="365.41" stroke="#111" stroke-width="1.05" />
<line x1="349.04" y1="392.93" x2="349.04" y2="374.58" stroke="#111" stroke-width="1.05" />
<line x1="347.04" y1="392.93" x2="351.04" y2="392.93" stroke="#111" stroke-width="1.05" />
<line x1="347.04" y1="374.58" x2="351.04" y2="374.58" stroke="#111" stroke-width="1.05" />
<line x1="349.04" y1="431.47" x2="349.04" y2="425.96" stroke="#111" stroke-width="1.05" />
<line x1="347.04" y1="431.47" x2="351.04" y2="431.47" stroke="#111" stroke-width="1.05" />
<line x1="347.04" y1="425.96" x2="351.04" y2="425.96" stroke="#111" stroke-width="1.05" />
<line x1="365.45" y1="407.61" x2="365.45" y2="371.83" stroke="#111" stroke-width="1.05" />
<line x1="363.45" y1="407.61" x2="367.45" y2="407.61" stroke="#111" stroke-width="1.05" />
<line x1="363.45" y1="371.83" x2="367.45" y2="371.83" stroke="#111" stroke-width="1.05" />
<line x1="365.45" y1="394.76" x2="365.45" y2="376.42" stroke="#111" stroke-width="1.05" />
<line x1="363.45" y1="394.76" x2="367.45" y2="394.76" stroke="#111" stroke-width="1.05" />
<line x1="363.45" y1="376.42" x2="367.45" y2="376.42" stroke="#111" stroke-width="1.05" />
<line x1="365.45" y1="433.30" x2="365.45" y2="412.20" stroke="#111" stroke-width="1.05" />
<line x1="363.45" y1="433.30" x2="367.45" y2="433.30" stroke="#111" stroke-width="1.05" />
<line x1="363.45" y1="412.20" x2="367.45" y2="412.20" stroke="#111" stroke-width="1.05" />
<line x1="365.45" y1="403.02" x2="365.45" y2="390.18" stroke="#111" stroke-width="1.05" />
<line x1="363.45" y1="403.02" x2="367.45" y2="403.02" stroke="#111" stroke-width="1.05" />
<line x1="363.45" y1="390.18" x2="367.45" y2="390.18" stroke="#111" stroke-width="1.05" />
<line x1="381.86" y1="406.69" x2="381.86" y2="374.58" stroke="#111" stroke-width="1.05" />
<line x1="379.86" y1="406.69" x2="383.86" y2="406.69" stroke="#111" stroke-width="1.05" />
<line x1="379.86" y1="374.58" x2="383.86" y2="374.58" stroke="#111" stroke-width="1.05" />
<line x1="381.86" y1="394.76" x2="381.86" y2="380.09" stroke="#111" stroke-width="1.05" />
<line x1="379.86" y1="394.76" x2="383.86" y2="394.76" stroke="#111" stroke-width="1.05" />
<line x1="379.86" y1="380.09" x2="383.86" y2="380.09" stroke="#111" stroke-width="1.05" />
<line x1="381.86" y1="433.30" x2="381.86" y2="405.78" stroke="#111" stroke-width="1.05" />
<line x1="379.86" y1="433.30" x2="383.86" y2="433.30" stroke="#111" stroke-width="1.05" />
<line x1="379.86" y1="405.78" x2="383.86" y2="405.78" stroke="#111" stroke-width="1.05" />
<line x1="398.27" y1="413.12" x2="398.27" y2="378.25" stroke="#111" stroke-width="1.05" />
<line x1="396.27" y1="413.12" x2="400.27" y2="413.12" stroke="#111" stroke-width="1.05" />
<line x1="396.27" y1="378.25" x2="400.27" y2="378.25" stroke="#111" stroke-width="1.05" />
<line x1="398.27" y1="398.44" x2="398.27" y2="381.00" stroke="#111" stroke-width="1.05" />
<line x1="396.27" y1="398.44" x2="400.27" y2="398.44" stroke="#111" stroke-width="1.05" />
<line x1="396.27" y1="381.00" x2="400.27" y2="381.00" stroke="#111" stroke-width="1.05" />
<line x1="398.27" y1="433.30" x2="398.27" y2="408.53" stroke="#111" stroke-width="1.05" />
<line x1="396.27" y1="433.30" x2="400.27" y2="433.30" stroke="#111" stroke-width="1.05" />
<line x1="396.27" y1="408.53" x2="400.27" y2="408.53" stroke="#111" stroke-width="1.05" />
<line x1="414.68" y1="416.79" x2="414.68" y2="375.50" stroke="#111" stroke-width="1.05" />
<line x1="412.68" y1="416.79" x2="416.68" y2="416.79" stroke="#111" stroke-width="1.05" />
<line x1="412.68" y1="375.50" x2="416.68" y2="375.50" stroke="#111" stroke-width="1.05" />
<line x1="414.68" y1="408.53" x2="414.68" y2="379.17" stroke="#111" stroke-width="1.05" />
<line x1="412.68" y1="408.53" x2="416.68" y2="408.53" stroke="#111" stroke-width="1.05" />
<line x1="412.68" y1="379.17" x2="416.68" y2="379.17" stroke="#111" stroke-width="1.05" />
<line x1="414.68" y1="433.30" x2="414.68" y2="413.12" stroke="#111" stroke-width="1.05" />
<line x1="412.68" y1="433.30" x2="416.68" y2="433.30" stroke="#111" stroke-width="1.05" />
<line x1="412.68" y1="413.12" x2="416.68" y2="413.12" stroke="#111" stroke-width="1.05" />
<line x1="431.09" y1="413.12" x2="431.09" y2="380.09" stroke="#111" stroke-width="1.05" />
<line x1="429.09" y1="413.12" x2="433.09" y2="413.12" stroke="#111" stroke-width="1.05" />
<line x1="429.09" y1="380.09" x2="433.09" y2="380.09" stroke="#111" stroke-width="1.05" />
<line x1="431.09" y1="433.30" x2="431.09" y2="396.60" stroke="#111" stroke-width="1.05" />
<line x1="429.09" y1="433.30" x2="433.09" y2="433.30" stroke="#111" stroke-width="1.05" />
<line x1="429.09" y1="396.60" x2="433.09" y2="396.60" stroke="#111" stroke-width="1.05" />
<path d="M349.04,430.55 L365.45,425.04 L381.86,420.46 L398.27,422.29 L414.68,423.21 L431.09,421.37" fill="none" stroke="#c8102e" stroke-width="1.5" stroke-linejoin="round"/>
<circle cx="349.04" cy="430.55" r="2.2" fill="#c8102e" />
<circle cx="365.45" cy="425.04" r="2.2" fill="#c8102e" />
<circle cx="381.86" cy="420.46" r="2.2" fill="#c8102e" />
<circle cx="398.27" cy="422.29" r="2.2" fill="#c8102e" />
<circle cx="414.68" cy="423.21" r="2.2" fill="#c8102e" />
<circle cx="431.09" cy="421.37" r="2.2" fill="#c8102e" />
<path d="M349.04,429.63 L365.45,399.35 L381.86,402.11 L398.27,406.69 L414.68,403.94 L431.09,404.86" fill="none" stroke="#f7941d" stroke-width="1.5" stroke-linejoin="round"/>
<circle cx="349.04" cy="429.63" r="2.2" fill="#f7941d" />
<circle cx="365.45" cy="399.35" r="2.2" fill="#f7941d" />
<circle cx="381.86" cy="402.11" r="2.2" fill="#f7941d" />
<circle cx="398.27" cy="406.69" r="2.2" fill="#f7941d" />
<circle cx="414.68" cy="403.94" r="2.2" fill="#f7941d" />
<circle cx="431.09" cy="404.86" r="2.2" fill="#f7941d" />
<path d="M349.04,379.17 L365.45,385.59 L381.86,384.67 L398.27,388.34 L414.68,392.01 L431.09,396.60" fill="none" stroke="#1b5592" stroke-width="1.5" stroke-linejoin="round"/>
<circle cx="349.04" cy="379.17" r="2.2" fill="#1b5592" />
<circle cx="365.45" cy="385.59" r="2.2" fill="#1b5592" />
<circle cx="381.86" cy="384.67" r="2.2" fill="#1b5592" />
<circle cx="398.27" cy="388.34" r="2.2" fill="#1b5592" />
<circle cx="414.68" cy="392.01" r="2.2" fill="#1b5592" />
<circle cx="431.09" cy="396.60" r="2.2" fill="#1b5592" />
<path d="M349.04,385.59 L365.45,383.75 L381.86,384.67 L398.27,387.43 L414.68,385.59 L431.09,388.34" fill="none" stroke="#3db54a" stroke-width="1.5" stroke-linejoin="round"/>
<circle cx="349.04" cy="385.59" r="2.2" fill="#3db54a" />
<circle cx="365.45" cy="383.75" r="2.2" fill="#3db54a" />
<circle cx="381.86" cy="384.67" r="2.2" fill="#3db54a" />
<circle cx="398.27" cy="387.43" r="2.2" fill="#3db54a" />
<circle cx="414.68" cy="385.59" r="2.2" fill="#3db54a" />
<circle cx="431.09" cy="388.34" r="2.2" fill="#3db54a" />
<line x1="338.10" y1="356.40" x2="338.10" y2="433.80" stroke="#111" stroke-width="1.45" />
<line x1="337.60" y1="433.30" x2="451.40" y2="433.30" stroke="#111" stroke-width="1.45" />
<line x1="334.90" y1="433.30" x2="338.10" y2="433.30" stroke="#111" stroke-width="1.2" />
<text x="327.25" y="436.40" font-size="9.33" fill="#231f20" stroke="#231f20" stroke-width="0.1" textLength="4.45" lengthAdjust="spacingAndGlyphs">0</text>
<line x1="334.90" y1="414.95" x2="338.10" y2="414.95" stroke="#111" stroke-width="1.2" />
<text x="322.80" y="418.05" font-size="9.33" fill="#231f20" stroke="#231f20" stroke-width="0.1" textLength="8.90" lengthAdjust="spacingAndGlyphs">20</text>
<line x1="334.90" y1="396.60" x2="338.10" y2="396.60" stroke="#111" stroke-width="1.2" />
<text x="322.80" y="399.70" font-size="9.33" fill="#231f20" stroke="#231f20" stroke-width="0.1" textLength="8.90" lengthAdjust="spacingAndGlyphs">40</text>
<line x1="334.90" y1="378.25" x2="338.10" y2="378.25" stroke="#111" stroke-width="1.2" />
<text x="322.80" y="381.35" font-size="9.33" fill="#231f20" stroke="#231f20" stroke-width="0.1" textLength="8.90" lengthAdjust="spacingAndGlyphs">60</text>
<line x1="334.90" y1="359.90" x2="338.10" y2="359.90" stroke="#111" stroke-width="1.2" />
<text x="322.80" y="363.00" font-size="9.33" fill="#231f20" stroke="#231f20" stroke-width="0.1" textLength="8.90" lengthAdjust="spacingAndGlyphs">80</text>
<line x1="338.10" y1="433.30" x2="338.10" y2="436.30" stroke="#111" stroke-width="1.2" />
<text x="335.88" y="444.50" font-size="9.33" fill="#231f20" stroke="#231f20" stroke-width="0.1" textLength="4.45" lengthAdjust="spacingAndGlyphs">0</text>
<line x1="359.98" y1="433.30" x2="359.98" y2="436.30" stroke="#111" stroke-width="1.2" />
<text x="357.75" y="444.50" font-size="9.33" fill="#231f20" stroke="#231f20" stroke-width="0.1" textLength="4.45" lengthAdjust="spacingAndGlyphs">2</text>
<line x1="381.86" y1="433.30" x2="381.86" y2="436.30" stroke="#111" stroke-width="1.2" />
<text x="379.63" y="444.50" font-size="9.33" fill="#231f20" stroke="#231f20" stroke-width="0.1" textLength="4.45" lengthAdjust="spacingAndGlyphs">4</text>
<line x1="403.74" y1="433.30" x2="403.74" y2="436.30" stroke="#111" stroke-width="1.2" />
<text x="401.51" y="444.50" font-size="9.33" fill="#231f20" stroke="#231f20" stroke-width="0.1" textLength="4.45" lengthAdjust="spacingAndGlyphs">6</text>
<line x1="425.62" y1="433.30" x2="425.62" y2="436.30" stroke="#111" stroke-width="1.2" />
<text x="423.39" y="444.50" font-size="9.33" fill="#231f20" stroke="#231f20" stroke-width="0.1" textLength="4.45" lengthAdjust="spacingAndGlyphs">8</text>
<line x1="447.50" y1="433.30" x2="447.50" y2="436.30" stroke="#111" stroke-width="1.2" />
<text x="443.05" y="444.50" font-size="9.33" fill="#231f20" stroke="#231f20" stroke-width="0.1" textLength="8.90" lengthAdjust="spacingAndGlyphs">10</text>
<text x="381.90" y="458.20" font-size="8.9" fill="#231f20" stroke="#231f20" stroke-width="0.1" textLength="25.40" lengthAdjust="spacingAndGlyphs">Months</text>
<text transform="translate(314.40 394.65) rotate(-90)" x="-21.90" y="0" font-size="9.33" fill="#231f20" stroke="#231f20" stroke-width="0.1" textLength="43.80" lengthAdjust="spacingAndGlyphs">% Blood cells</text>
<text x="352.75" y="352.60" font-size="8.48" fill="#231f20" stroke="#231f20" stroke-width="0.1" textLength="82.50" lengthAdjust="spacingAndGlyphs">B220<tspan font-size="4.6" dy="-2.8">+</tspan><tspan dy="2.8"> cells in CD45.2%</tspan></text>
<text x="436.60" y="390.00" font-size="6.68" fill="#3db54a" stroke="#3db54a" stroke-width="0.08" textLength="24.00" lengthAdjust="spacingAndGlyphs"><tspan font-style="italic">Mx1</tspan>-Cre</text>
<text x="435.40" y="398.40" font-size="6.68" fill="#1b5592" stroke="#1b5592" stroke-width="0.08" textLength="54.00" lengthAdjust="spacingAndGlyphs"><tspan font-style="italic">Mx1</tspan>-Cre <tspan font-style="italic">Sf3b1</tspan><tspan font-size="4.2" dy="-2.2">K700E</tspan></text>
<text x="435.40" y="407.80" font-size="6.68" fill="#f7941d" stroke="#f7941d" stroke-width="0.08" textLength="41.60" lengthAdjust="spacingAndGlyphs"><tspan font-style="italic">Mx1</tspan>-Cre inv(3)</text>
<text x="436.00" y="422.40" font-size="6.68" fill="#c8102e" stroke="#c8102e" stroke-width="0.08" textLength="24.00" lengthAdjust="spacingAndGlyphs"><tspan font-style="italic">Mx1</tspan>-Cre</text>
<text x="435.40" y="429.60" font-size="6.68" fill="#c8102e" stroke="#c8102e" stroke-width="0.08" textLength="45.60" lengthAdjust="spacingAndGlyphs">inv(3) <tspan font-style="italic">Sf3b1</tspan><tspan font-size="4.2" dy="-2.2">K700E</tspan></text>
<line x1="489.60" y1="406.60" x2="489.60" y2="425.20" stroke="#58595b" stroke-width="0.9" />
<line x1="492.80" y1="395.80" x2="492.80" y2="425.20" stroke="#58595b" stroke-width="0.9" />
<text x="494.30" y="413.60" font-size="7.95" fill="#231f20" stroke="#231f20" stroke-width="0.1" textLength="5.00" lengthAdjust="spacingAndGlyphs">**</text>
<line x1="500.60" y1="388.20" x2="500.60" y2="425.20" stroke="#58595b" stroke-width="0.9" />
<text x="502.10" y="410.40" font-size="7.95" fill="#231f20" stroke="#231f20" stroke-width="0.1" textLength="10.20" lengthAdjust="spacingAndGlyphs">****</text>
<text x="6.60" y="477.20" font-size="12.6" fill="#000" stroke="#000" stroke-width="0.45" font-weight="bold">G</text>
<defs><filter id="h1" x="0" y="0" width="100%" height="100%" color-interpolation-filters="sRGB"><feTurbulence type="turbulence" baseFrequency="0.075" numOctaves="4" seed="7"/><feColorMatrix type="matrix" values="1 0 0 0 0  1 0 0 0 0  1 0 0 0 0  0 0 0 0 1"/><feComponentTransfer><feFuncR type="table" tableValues="0.70 0.66 0.61 0.575 0.55 0.535 0.53 0.53 0.53"/><feFuncG type="table" tableValues="0.38 0.395 0.41 0.42 0.425 0.425 0.425 0.425 0.425"/><feFuncB type="table" tableValues="0.66 0.68 0.70 0.715 0.72 0.72 0.72 0.72 0.72"/></feComponentTransfer><feComposite operator="in" in2="SourceGraphic"/></filter><filter id="h2" x="0" y="0" width="100%" height="100%" color-interpolation-filters="sRGB"><feTurbulence type="turbulence" baseFrequency="0.09" numOctaves="4" seed="21"/><feColorMatrix type="matrix" values="1 0 0 0 0  1 0 0 0 0  1 0 0 0 0  0 0 0 0 1"/><feComponentTransfer><feFuncR type="table" tableValues="0.65 0.615 0.585 0.565 0.555 0.55 0.55 0.55 0.55"/><feFuncG type="table" tableValues="0.40 0.415 0.425 0.43 0.435 0.435 0.435 0.435 0.435"/><feFuncB type="table" tableValues="0.69 0.705 0.715 0.72 0.725 0.725 0.725 0.725 0.725"/></feComponentTransfer><feComposite operator="in" in2="SourceGraphic"/></filter><filter id="h3" x="0" y="0" width="100%" height="100%" color-interpolation-filters="sRGB"><feTurbulence type="turbulence" baseFrequency="0.075" numOctaves="4" seed="33"/><feColorMatrix type="matrix" values="1 0 0 0 0  1 0 0 0 0  1 0 0 0 0  0 0 0 0 1"/><feComponentTransfer><feFuncR type="table" tableValues="0.70 0.66 0.61 0.575 0.55 0.535 0.53 0.53 0.53"/><feFuncG type="table" tableValues="0.38 0.395 0.41 0.42 0.425 0.425 0.425 0.425 0.425"/><feFuncB type="table" tableValues="0.66 0.68 0.70 0.715 0.72 0.72 0.72 0.72 0.72"/></feComponentTransfer><feComposite operator="in" in2="SourceGraphic"/></filter><filter id="h4" x="0" y="0" width="100%" height="100%" color-interpolation-filters="sRGB"><feTurbulence type="turbulence" baseFrequency="0.12" numOctaves="4" seed="45"/><feColorMatrix type="matrix" values="1 0 0 0 0  1 0 0 0 0  1 0 0 0 0  0 0 0 0 1"/><feComponentTransfer><feFuncR type="table" tableValues="0.645 0.615 0.595 0.585 0.58 0.575 0.575 0.575 0.575"/><feFuncG type="table" tableValues="0.425 0.44 0.45 0.455 0.46 0.46 0.46 0.46 0.46"/><feFuncB type="table" tableValues="0.725 0.735 0.745 0.75 0.755 0.755 0.755 0.755 0.755"/></feComponentTransfer><feComposite operator="in" in2="SourceGraphic"/></filter><filter id="bl" x="-30%" y="-30%" width="160%" height="160%"><feGaussianBlur stdDeviation="2.0"/></filter><clipPath id="c1"><rect x="38.2" y="493.2" width="105.4" height="78.0"/></clipPath><clipPath id="c2"><rect x="150.4" y="493.2" width="105.4" height="78.0"/></clipPath><clipPath id="c3"><rect x="38.2" y="592.4" width="105.4" height="78.0"/></clipPath><clipPath id="c4"><rect x="150.4" y="592.4" width="105.4" height="78.0"/></clipPath></defs>
<g clip-path="url(#c1)">
<path d="M77.8,493 L74.2,496.4 L72.6,497.2 L70.4,499.8 L66.2,503.0 L63.8,504.4 L61,507.2 L57.2,510.2 L55.4,511.2 L52.9,513.9 L49.5,517.4 L46.2,521.3 L44,524 L42.1,526.7 L40.6,529.2 L39.4,531.4 L38.6,534 L38,537 L38,572 L144,572 L144,545 C142.5,535 141.5,520 139,510 C137.5,503 135,497 132.5,493 Z" fill="#8e6bb6" filter="url(#h1)"/>
<ellipse cx="60" cy="532" rx="8" ry="6" fill="#7462ae" fill-opacity="0.6" filter="url(#bl)"/>
<ellipse cx="56" cy="552" rx="7" ry="7" fill="#7462ae" fill-opacity="0.6" filter="url(#bl)"/>
<ellipse cx="82" cy="556" rx="8" ry="6" fill="#7462ae" fill-opacity="0.6" filter="url(#bl)"/>
<ellipse cx="104" cy="553" rx="9" ry="6" fill="#7462ae" fill-opacity="0.6" filter="url(#bl)"/>
<ellipse cx="99" cy="528" rx="8" ry="6" fill="#7462ae" fill-opacity="0.6" filter="url(#bl)"/>
<ellipse cx="84" cy="510" rx="11" ry="5" fill="#7462ae" fill-opacity="0.6" filter="url(#bl)"/>
<ellipse cx="114" cy="512" rx="9" ry="7" fill="#7462ae" fill-opacity="0.6" filter="url(#bl)"/>
<ellipse cx="128" cy="538" rx="7" ry="8" fill="#7462ae" fill-opacity="0.6" filter="url(#bl)"/>
<ellipse cx="72" cy="566" rx="8" ry="3" fill="#7462ae" fill-opacity="0.6" filter="url(#bl)"/>
<ellipse cx="124" cy="562" rx="8" ry="4" fill="#7462ae" fill-opacity="0.6" filter="url(#bl)"/>
</g>
<rect x="38.20" y="493.20" width="105.40" height="78.00" fill="none" stroke="#111" stroke-width="1.0" />
<rect x="119.80" y="563.40" width="20.00" height="4.10" fill="#000" />
<g clip-path="url(#c2)">
<path d="M150,513.4 L203.6,493 L256,493 L256,572 L150,572 Z" fill="#8e6bb6" filter="url(#h2)"/>
<ellipse cx="158" cy="522" rx="6" ry="6" fill="#806bb8" fill-opacity="0.45" filter="url(#bl)"/>
<ellipse cx="178" cy="520" rx="5" ry="5" fill="#806bb8" fill-opacity="0.45" filter="url(#bl)"/>
<ellipse cx="212" cy="505" rx="8" ry="7" fill="#806bb8" fill-opacity="0.45" filter="url(#bl)"/>
<ellipse cx="172" cy="539" rx="5" ry="5" fill="#806bb8" fill-opacity="0.45" filter="url(#bl)"/>
<ellipse cx="190" cy="541" rx="7" ry="7" fill="#806bb8" fill-opacity="0.45" filter="url(#bl)"/>
<ellipse cx="218" cy="539" rx="7" ry="7" fill="#806bb8" fill-opacity="0.45" filter="url(#bl)"/>
<ellipse cx="240" cy="527" rx="7" ry="6" fill="#806bb8" fill-opacity="0.45" filter="url(#bl)"/>
<ellipse cx="248" cy="500" rx="6" ry="6" fill="#806bb8" fill-opacity="0.45" filter="url(#bl)"/>
<ellipse cx="160" cy="560" rx="8" ry="7" fill="#806bb8" fill-opacity="0.45" filter="url(#bl)"/>
<ellipse cx="236" cy="553" rx="7" ry="6" fill="#806bb8" fill-opacity="0.45" filter="url(#bl)"/>
<ellipse cx="200" cy="562" rx="7" ry="5" fill="#806bb8" fill-opacity="0.45" filter="url(#bl)"/>
</g>
<rect x="150.40" y="493.20" width="105.40" height="78.00" fill="none" stroke="#111" stroke-width="1.0" />
<rect x="230.60" y="563.20" width="20.00" height="4.10" fill="#000" />
<g clip-path="url(#c3)">
<path d="M90,592 C80,600 72,612 69.5,626 C67.5,640 68,655 68,671 L144,671 L144,660 C141.5,655 143.5,648 141.8,641 C143.5,632 142.5,620 142,612 C141,604 141.5,598 140.5,592 Z" fill="#8e6bb6" filter="url(#h3)"/>
<ellipse cx="96" cy="612" rx="9" ry="8" fill="#7462ae" fill-opacity="0.6" filter="url(#bl)"/>
<ellipse cx="84" cy="636" rx="7" ry="8" fill="#7462ae" fill-opacity="0.6" filter="url(#bl)"/>
<ellipse cx="80" cy="655" rx="7" ry="9" fill="#7462ae" fill-opacity="0.6" filter="url(#bl)"/>
<ellipse cx="122" cy="604" rx="10" ry="6" fill="#7462ae" fill-opacity="0.6" filter="url(#bl)"/>
<ellipse cx="126" cy="636" rx="7" ry="7" fill="#7462ae" fill-opacity="0.6" filter="url(#bl)"/>
<ellipse cx="104" cy="662" rx="7" ry="4" fill="#7462ae" fill-opacity="0.6" filter="url(#bl)"/>
<ellipse cx="128" cy="660" rx="6" ry="5" fill="#7462ae" fill-opacity="0.6" filter="url(#bl)"/>
</g>
<rect x="38.20" y="592.40" width="105.40" height="78.00" fill="none" stroke="#111" stroke-width="1.0" />
<rect x="120.20" y="662.80" width="20.00" height="4.10" fill="#000" />
<g clip-path="url(#c4)">
<path d="M150,596.4 C160,595.6 170,594.4 180,592 L256,592 L256,671 L150,671 Z" fill="#8e6bb6" filter="url(#h4)"/>
</g>
<rect x="150.40" y="592.40" width="105.40" height="78.00" fill="none" stroke="#111" stroke-width="1.0" />
<rect x="230.20" y="662.80" width="20.00" height="4.10" fill="#000" />
<text x="76.00" y="490.00" font-size="7.84" fill="#3db54a" stroke="#3db54a" stroke-width="0.08" textLength="30.40" lengthAdjust="spacingAndGlyphs"><tspan font-style="italic">Mx1-Cre</tspan></text>
<text x="177.00" y="490.00" font-size="7.84" fill="#f7941d" stroke="#f7941d" stroke-width="0.08" textLength="52.20" lengthAdjust="spacingAndGlyphs"><tspan font-style="italic">Mx1</tspan>-Cre inv(3)</text>
<text x="55.40" y="590.00" font-size="7.84" fill="#1b5592" stroke="#1b5592" stroke-width="0.08" textLength="70.40" lengthAdjust="spacingAndGlyphs"><tspan font-style="italic">Mx1-Cre Sf3b1</tspan><tspan font-size="5.2" dy="-2.6">K700E</tspan></text>
<text x="157.00" y="590.00" font-size="7.84" fill="#c8102e" stroke="#c8102e" stroke-width="0.08" textLength="91.40" lengthAdjust="spacingAndGlyphs"><tspan font-style="italic">Mx1</tspan>-Cre inv(3) <tspan font-style="italic">Sf3b1</tspan><tspan font-size="5.2" dy="-2.6">K700E</tspan></text>
<text x="305.20" y="477.20" font-size="12.6" fill="#000" stroke="#000" stroke-width="0.45" font-weight="bold">H</text>
<path d="M355.80,486.50 L355.80,494.60 L388.80,494.60 L388.80,503.20 L396.70,503.20 L396.70,511.20 L402.20,511.20 L402.20,519.40 L405.70,519.40 L405.70,527.50 L413.60,527.50 L413.60,535.40 L416.40,535.40 L416.40,543.40 L428.00,543.40 L428.00,551.80" fill="none" stroke="#c8102e" stroke-width="1.35" stroke-linejoin="miter"/>
<path d="M399.40,486.50 L399.40,494.40 L404.70,494.40 L404.70,503.20 L420.70,503.20 L420.70,511.00 L422.00,511.00 L422.00,519.20 L428.80,519.20" fill="none" stroke="#f7941d" stroke-width="1.35" stroke-linejoin="miter"/>
<path d="M388.80,486.50 L388.80,494.40 L420.70,494.40 L420.70,501.20 L428.80,501.20" fill="none" stroke="#1b5592" stroke-width="1.35" stroke-linejoin="miter"/>
<path d="M338.10,486.50 L429.40,486.50" fill="none" stroke="#3db54a" stroke-width="1.35" stroke-linejoin="miter"/>
<line x1="338.10" y1="482.40" x2="338.10" y2="560.50" stroke="#111" stroke-width="1.45" />
<line x1="337.60" y1="560.00" x2="451.80" y2="560.00" stroke="#111" stroke-width="1.45" />
<line x1="334.90" y1="560.00" x2="338.10" y2="560.00" stroke="#111" stroke-width="1.2" />
<text x="327.25" y="563.10" font-size="9.33" fill="#231f20" stroke="#231f20" stroke-width="0.1" textLength="4.45" lengthAdjust="spacingAndGlyphs">0</text>
<line x1="334.90" y1="545.30" x2="338.10" y2="545.30" stroke="#111" stroke-width="1.2" />
<text x="322.80" y="548.40" font-size="9.33" fill="#231f20" stroke="#231f20" stroke-width="0.1" textLength="8.90" lengthAdjust="spacingAndGlyphs">20</text>
<line x1="334.90" y1="530.60" x2="338.10" y2="530.60" stroke="#111" stroke-width="1.2" />
<text x="322.80" y="533.70" font-size="9.33" fill="#231f20" stroke="#231f20" stroke-width="0.1" textLength="8.90" lengthAdjust="spacingAndGlyphs">40</text>
<line x1="334.90" y1="515.90" x2="338.10" y2="515.90" stroke="#111" stroke-width="1.2" />
<text x="322.80" y="519.00" font-size="9.33" fill="#231f20" stroke="#231f20" stroke-width="0.1" textLength="8.90" lengthAdjust="spacingAndGlyphs">60</text>
<line x1="334.90" y1="501.20" x2="338.10" y2="501.20" stroke="#111" stroke-width="1.2" />
<text x="322.80" y="504.30" font-size="9.33" fill="#231f20" stroke="#231f20" stroke-width="0.1" textLength="8.90" lengthAdjust="spacingAndGlyphs">80</text>
<line x1="334.90" y1="486.50" x2="338.10" y2="486.50" stroke="#111" stroke-width="1.2" />
<text x="318.35" y="489.60" font-size="9.33" fill="#231f20" stroke="#231f20" stroke-width="0.1" textLength="13.35" lengthAdjust="spacingAndGlyphs">100</text>
<line x1="338.10" y1="560.00" x2="338.10" y2="563.00" stroke="#111" stroke-width="1.2" />
<text x="335.88" y="571.20" font-size="9.33" fill="#231f20" stroke="#231f20" stroke-width="0.1" textLength="4.45" lengthAdjust="spacingAndGlyphs">0</text>
<line x1="365.70" y1="560.00" x2="365.70" y2="563.00" stroke="#111" stroke-width="1.2" />
<text x="359.02" y="571.20" font-size="9.33" fill="#231f20" stroke="#231f20" stroke-width="0.1" textLength="13.35" lengthAdjust="spacingAndGlyphs">100</text>
<line x1="393.30" y1="560.00" x2="393.30" y2="563.00" stroke="#111" stroke-width="1.2" />
<text x="386.62" y="571.20" font-size="9.33" fill="#231f20" stroke="#231f20" stroke-width="0.1" textLength="13.35" lengthAdjust="spacingAndGlyphs">200</text>
<line x1="420.60" y1="560.00" x2="420.60" y2="563.00" stroke="#111" stroke-width="1.2" />
<text x="413.93" y="571.20" font-size="9.33" fill="#231f20" stroke="#231f20" stroke-width="0.1" textLength="13.35" lengthAdjust="spacingAndGlyphs">300</text>
<line x1="447.80" y1="560.00" x2="447.80" y2="563.00" stroke="#111" stroke-width="1.2" />
<text x="441.12" y="571.20" font-size="9.33" fill="#231f20" stroke="#231f20" stroke-width="0.1" textLength="13.35" lengthAdjust="spacingAndGlyphs">400</text>
<text x="352.85" y="585.00" font-size="8.9" fill="#231f20" stroke="#231f20" stroke-width="0.1" textLength="83.50" lengthAdjust="spacingAndGlyphs">Days after transplantation</text>
<text transform="translate(313.80 520.85) rotate(-90)" x="-17.00" y="0" font-size="9.33" fill="#231f20" stroke="#231f20" stroke-width="0.1" textLength="34.00" lengthAdjust="spacingAndGlyphs">% Survival</text>
<text x="337.20" y="474.60" font-size="8.69" fill="#231f20" stroke="#231f20" stroke-width="0.1" textLength="16.80" lengthAdjust="spacingAndGlyphs">pIpC</text>
<line x1="343.40" y1="478.80" x2="343.40" y2="483.00" stroke="#111" stroke-width="1.0" />
<path d="M341.0,481.4 L345.79999999999995,481.4 L343.4,485.4 Z" fill="#111" />
<line x1="346.10" y1="478.80" x2="346.10" y2="483.00" stroke="#111" stroke-width="1.0" />
<path d="M343.70000000000005,481.4 L348.5,481.4 L346.1,485.4 Z" fill="#111" />
<line x1="348.80" y1="478.80" x2="348.80" y2="483.00" stroke="#111" stroke-width="1.0" />
<path d="M346.40000000000003,481.4 L351.2,481.4 L348.8,485.4 Z" fill="#111" />
<text x="405.40" y="482.80" font-size="6.68" fill="#3db54a" stroke="#3db54a" stroke-width="0.08" textLength="24.60" lengthAdjust="spacingAndGlyphs"><tspan font-style="italic">Mx1-Cre</tspan></text>
<text x="400.60" y="492.60" font-size="6.68" fill="#1b5592" stroke="#1b5592" stroke-width="0.08" textLength="54.40" lengthAdjust="spacingAndGlyphs"><tspan font-style="italic">Mx1</tspan>-Cre <tspan font-style="italic">Sf3b1</tspan><tspan font-size="4.2" dy="-2.2">K700E</tspan></text>
<text x="409.80" y="525.80" font-size="6.68" fill="#f7941d" stroke="#f7941d" stroke-width="0.08" textLength="41.60" lengthAdjust="spacingAndGlyphs"><tspan font-style="italic">Mx1</tspan>-Cre inv(3)</text>
<text x="352.60" y="552.60" font-size="6.68" fill="#c8102e" stroke="#c8102e" stroke-width="0.08" textLength="71.40" lengthAdjust="spacingAndGlyphs"><tspan font-style="italic">Mx1</tspan>-Cre inv(3) <tspan font-style="italic">Sf3b1</tspan><tspan font-size="4.2" dy="-2.2">K700E</tspan></text>
<line x1="459.50" y1="486.40" x2="459.50" y2="555.20" stroke="#58595b" stroke-width="0.9" />
<line x1="465.00" y1="501.40" x2="465.00" y2="555.20" stroke="#58595b" stroke-width="0.9" />
<line x1="470.40" y1="521.80" x2="470.40" y2="555.20" stroke="#58595b" stroke-width="0.9" />
<text x="462.40" y="495.80" font-size="8.06" fill="#231f20" stroke="#231f20" stroke-width="0.1" textLength="31.60" lengthAdjust="spacingAndGlyphs">P=0.0002</text>
<text x="467.60" y="511.60" font-size="8.06" fill="#231f20" stroke="#231f20" stroke-width="0.1" textLength="31.60" lengthAdjust="spacingAndGlyphs">P=0.0021</text>
<text x="473.60" y="541.60" font-size="8.06" fill="#231f20" stroke="#231f20" stroke-width="0.1" textLength="31.60" lengthAdjust="spacingAndGlyphs">P=0.0389</text>
<text x="306.20" y="604.00" font-size="12.6" fill="#000" stroke="#000" stroke-width="0.45" font-weight="bold">I</text>
<path d="M376.80,600.30 L376.80,614.60 L377.60,614.60 L377.60,629.40 L387.40,629.40 L387.40,644.40 L389.00,644.40 L389.00,658.80 L417.80,658.80 L417.80,673.30" fill="none" stroke="#c8102e" stroke-width="1.35" stroke-linejoin="miter"/>
<path d="M338.10,600.30 L419.20,600.30 L419.20,612.20 L421.20,612.20 L421.20,624.70 L424.20,624.70 L424.20,637.40 L426.80,637.40 L426.80,660.20" fill="none" stroke="#f7941d" stroke-width="1.35" stroke-linejoin="miter"/>
<line x1="338.10" y1="594.40" x2="338.10" y2="673.80" stroke="#111" stroke-width="1.45" />
<line x1="337.60" y1="673.30" x2="451.80" y2="673.30" stroke="#111" stroke-width="1.45" />
<line x1="334.90" y1="673.30" x2="338.10" y2="673.30" stroke="#111" stroke-width="1.2" />
<text x="327.25" y="676.40" font-size="9.33" fill="#231f20" stroke="#231f20" stroke-width="0.1" textLength="4.45" lengthAdjust="spacingAndGlyphs">0</text>
<line x1="334.90" y1="658.70" x2="338.10" y2="658.70" stroke="#111" stroke-width="1.2" />
<text x="322.80" y="661.80" font-size="9.33" fill="#231f20" stroke="#231f20" stroke-width="0.1" textLength="8.90" lengthAdjust="spacingAndGlyphs">20</text>
<line x1="334.90" y1="644.10" x2="338.10" y2="644.10" stroke="#111" stroke-width="1.2" />
<text x="322.80" y="647.20" font-size="9.33" fill="#231f20" stroke="#231f20" stroke-width="0.1" textLength="8.90" lengthAdjust="spacingAndGlyphs">40</text>
<line x1="334.90" y1="629.50" x2="338.10" y2="629.50" stroke="#111" stroke-width="1.2" />
<text x="322.80" y="632.60" font-size="9.33" fill="#231f20" stroke="#231f20" stroke-width="0.1" textLength="8.90" lengthAdjust="spacingAndGlyphs">60</text>
<line x1="334.90" y1="614.90" x2="338.10" y2="614.90" stroke="#111" stroke-width="1.2" />
<text x="322.80" y="618.00" font-size="9.33" fill="#231f20" stroke="#231f20" stroke-width="0.1" textLength="8.90" lengthAdjust="spacingAndGlyphs">80</text>
<line x1="334.90" y1="600.30" x2="338.10" y2="600.30" stroke="#111" stroke-width="1.2" />
<text x="318.35" y="603.40" font-size="9.33" fill="#231f20" stroke="#231f20" stroke-width="0.1" textLength="13.35" lengthAdjust="spacingAndGlyphs">100</text>
<line x1="338.10" y1="673.30" x2="338.10" y2="676.30" stroke="#111" stroke-width="1.2" />
<text x="335.88" y="684.50" font-size="9.33" fill="#231f20" stroke="#231f20" stroke-width="0.1" textLength="4.45" lengthAdjust="spacingAndGlyphs">0</text>
<line x1="359.90" y1="673.30" x2="359.90" y2="676.30" stroke="#111" stroke-width="1.2" />
<text x="355.45" y="684.50" font-size="9.33" fill="#231f20" stroke="#231f20" stroke-width="0.1" textLength="8.90" lengthAdjust="spacingAndGlyphs">20</text>
<line x1="381.80" y1="673.30" x2="381.80" y2="676.30" stroke="#111" stroke-width="1.2" />
<text x="377.35" y="684.50" font-size="9.33" fill="#231f20" stroke="#231f20" stroke-width="0.1" textLength="8.90" lengthAdjust="spacingAndGlyphs">40</text>
<line x1="403.60" y1="673.30" x2="403.60" y2="676.30" stroke="#111" stroke-width="1.2" />
<text x="399.15" y="684.50" font-size="9.33" fill="#231f20" stroke="#231f20" stroke-width="0.1" textLength="8.90" lengthAdjust="spacingAndGlyphs">60</text>
<line x1="426.00" y1="673.30" x2="426.00" y2="676.30" stroke="#111" stroke-width="1.2" />
<text x="421.55" y="684.50" font-size="9.33" fill="#231f20" stroke="#231f20" stroke-width="0.1" textLength="8.90" lengthAdjust="spacingAndGlyphs">80</text>
<line x1="447.80" y1="673.30" x2="447.80" y2="676.30" stroke="#111" stroke-width="1.2" />
<text x="441.12" y="684.50" font-size="9.33" fill="#231f20" stroke="#231f20" stroke-width="0.1" textLength="13.35" lengthAdjust="spacingAndGlyphs">100</text>
<text x="387.10" y="698.60" font-size="8.9" fill="#231f20" stroke="#231f20" stroke-width="0.1" textLength="15.40" lengthAdjust="spacingAndGlyphs">Days</text>
<text transform="translate(313.80 634.40) rotate(-90)" x="-17.00" y="0" font-size="9.33" fill="#231f20" stroke="#231f20" stroke-width="0.1" textLength="34.00" lengthAdjust="spacingAndGlyphs">% Survival</text>
<text x="341.60" y="670.00" font-size="8.06" fill="#231f20" stroke="#231f20" stroke-width="0.1" textLength="33.00" lengthAdjust="spacingAndGlyphs">P=0.0007</text>
<text x="430.40" y="652.20" font-size="6.68" fill="#f7941d" stroke="#f7941d" stroke-width="0.08" textLength="41.60" lengthAdjust="spacingAndGlyphs"><tspan font-style="italic">Mx1</tspan>-Cre inv(3)</text>
<text x="422.00" y="670.60" font-size="6.68" fill="#c8102e" stroke="#c8102e" stroke-width="0.08" textLength="71.40" lengthAdjust="spacingAndGlyphs"><tspan font-style="italic">Mx1</tspan>-Cre inv(3) <tspan font-style="italic">Sf3b1</tspan><tspan font-size="4.2" dy="-2.2">K700E</tspan></text>
</g>
<rect x="0.5" y="0.5" width="519" height="707" fill="none" stroke="#000" stroke-width="1.6"/>
</svg>
</body></html>
